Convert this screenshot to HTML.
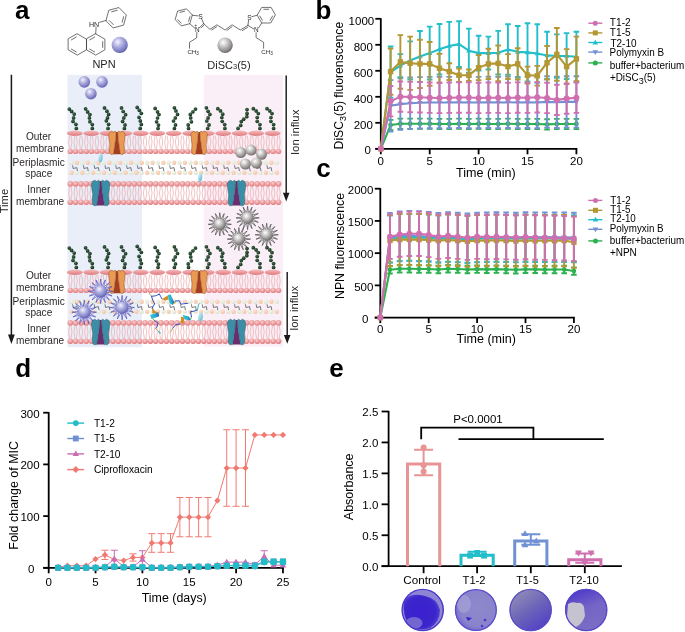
<!DOCTYPE html>
<html><head><meta charset="utf-8"><title>Figure</title>
<style>html,body{margin:0;padding:0;background:#fff;width:685px;height:632px;overflow:hidden}
svg{display:block;font-family:"Liberation Sans",sans-serif;will-change:transform}</style></head>
<body><svg width="685" height="632" viewBox="0 0 685 632">
<rect width="685" height="632" fill="#fff"/>
<defs>
<radialGradient id="gHead" cx="0.42" cy="0.35" r="0.65"><stop offset="0" stop-color="#f9d3d3"/><stop offset="0.55" stop-color="#ec9d9f"/><stop offset="1" stop-color="#e07f83"/></radialGradient>
<linearGradient id="gLps" x1="0" y1="0" x2="0" y2="1"><stop offset="0" stop-color="#f4bcbd"/><stop offset="0.5" stop-color="#eb9a9d"/><stop offset="1" stop-color="#dc777c"/></linearGradient>
<radialGradient id="gBead" cx="0.4" cy="0.35" r="0.65"><stop offset="0" stop-color="#44734f"/><stop offset="1" stop-color="#0f2717"/></radialGradient>
<radialGradient id="gGray" cx="0.38" cy="0.32" r="0.72"><stop offset="0" stop-color="#ffffff"/><stop offset="0.3" stop-color="#d6d4d4"/><stop offset="0.78" stop-color="#8f8b8b"/><stop offset="1" stop-color="#6a6666"/></radialGradient>
<radialGradient id="gPur" cx="0.38" cy="0.32" r="0.72"><stop offset="0" stop-color="#f4f4ff"/><stop offset="0.35" stop-color="#b9b9e4"/><stop offset="0.8" stop-color="#7b7bc4"/><stop offset="1" stop-color="#5c5ca8"/></radialGradient>
<radialGradient id="gPeach" cx="0.4" cy="0.35" r="0.7"><stop offset="0" stop-color="#fbe3d2"/><stop offset="1" stop-color="#f2bf9c"/></radialGradient>
<radialGradient id="gMint" cx="0.4" cy="0.35" r="0.7"><stop offset="0" stop-color="#f6f8f1"/><stop offset="1" stop-color="#d5dfca"/></radialGradient>
<linearGradient id="gDrop" x1="0" y1="0" x2="1" y2="1"><stop offset="0" stop-color="#d6f0f7"/><stop offset="0.6" stop-color="#8fcde2"/><stop offset="1" stop-color="#5aaecb"/></linearGradient>
</defs>
<rect x="67.5" y="74.8" width="74.5" height="272.5" fill="#e9eef8"/>
<rect x="203.8" y="74.8" width="79.2" height="271.8" fill="#faeef7"/>
<text x="15" y="19" font-size="26" font-weight="bold">a</text>
<path d="M77.3 33.9L86.48 39.2L86.48 49.8L77.3 55.1L68.12 49.8L68.12 39.2Z" stroke="#3a3a3a" stroke-width="0.72" fill="none" stroke-linecap="round"/>
<path d="M95.7 33.9L104.88 39.2L104.88 49.8L95.7 55.1L86.52 49.8L86.52 39.2Z" stroke="#3a3a3a" stroke-width="0.72" fill="none" stroke-linecap="round"/>
<path d="M71.3 39.91L76.32 37.01" stroke="#3a3a3a" stroke-width="0.72" fill="none" stroke-linecap="round"/>
<path d="M76.32 51.99L71.3 49.09" stroke="#3a3a3a" stroke-width="0.72" fill="none" stroke-linecap="round"/>
<path d="M89.7 39.91L94.72 37.01" stroke="#3a3a3a" stroke-width="0.72" fill="none" stroke-linecap="round"/>
<path d="M102.68 41.6L102.68 47.4" stroke="#3a3a3a" stroke-width="0.72" fill="none" stroke-linecap="round"/>
<path d="M94.72 51.99L89.7 49.09" stroke="#3a3a3a" stroke-width="0.72" fill="none" stroke-linecap="round"/>
<path d="M95.7 33.9L96.1 27.2" stroke="#3a3a3a" stroke-width="0.72" fill="none" stroke-linecap="round"/>
<text x="89.0" y="26.6" font-size="7.1" fill="#2a2a2a">HN</text>
<path d="M99.6 22.3L106.06 20.42" stroke="#3a3a3a" stroke-width="0.72" fill="none" stroke-linecap="round"/>
<path d="M106.06 20.42L108.78 10.28L118.92 7.56L126.34 14.98L123.62 25.12L113.48 27.84Z" stroke="#3a3a3a" stroke-width="0.72" fill="none" stroke-linecap="round"/>
<path d="M111.64 11.77L117.19 10.28" stroke="#3a3a3a" stroke-width="0.72" fill="none" stroke-linecap="round"/>
<path d="M123.62 16.71L122.13 22.26" stroke="#3a3a3a" stroke-width="0.72" fill="none" stroke-linecap="round"/>
<path d="M113.34 24.62L109.28 20.56" stroke="#3a3a3a" stroke-width="0.72" fill="none" stroke-linecap="round"/>
<path d="M192.24 15.27L189.81 23.73L181.27 25.86L175.16 19.53L177.59 11.07L186.13 8.94Z" stroke="#3a3a3a" stroke-width="0.72" fill="none" stroke-linecap="round"/>
<path d="M179.96 12.36L184.63 11.2" stroke="#3a3a3a" stroke-width="0.72" fill="none" stroke-linecap="round"/>
<path d="M181.21 23.16L177.86 19.69" stroke="#3a3a3a" stroke-width="0.72" fill="none" stroke-linecap="round"/>
<path d="M189.93 16.68L188.6 21.31" stroke="#3a3a3a" stroke-width="0.72" fill="none" stroke-linecap="round"/>
<path d="M192.24 15.27L198.3 15.9" stroke="#3a3a3a" stroke-width="0.72" fill="none" stroke-linecap="round"/>
<path d="M201.7 18.9L203.7 23.7" stroke="#3a3a3a" stroke-width="0.72" fill="none" stroke-linecap="round"/>
<path d="M203.7 23.7L199.4 27.6" stroke="#3a3a3a" stroke-width="0.72" fill="none" stroke-linecap="round"/>
<path d="M203.71 25.44L201.13 27.78" stroke="#3a3a3a" stroke-width="0.72" fill="none" stroke-linecap="round"/>
<path d="M195 28.3L189.81 23.73" stroke="#3a3a3a" stroke-width="0.72" fill="none" stroke-linecap="round"/>
<text x="200.7" y="18.9" font-size="6.4" text-anchor="middle" fill="#2a2a2a">S</text>
<text x="197.2" y="31.7" font-size="6.4" text-anchor="middle" fill="#2a2a2a">N</text>
<text x="194.6" y="26.6" font-size="4.5" fill="#2a2a2a">+</text>
<path d="M203.7 23.7L209.9 29.4L216.9 24.8L225.1 30L232.1 24.8L240.3 30L247.9 25.4" stroke="#3a3a3a" stroke-width="0.72" fill="none" stroke-linecap="round"/>
<path d="M211.77 29.96L216.67 26.74" stroke="#3a3a3a" stroke-width="0.72" fill="none" stroke-linecap="round"/>
<path d="M227.04 30.42L231.94 26.78" stroke="#3a3a3a" stroke-width="0.72" fill="none" stroke-linecap="round"/>
<path d="M242.22 30.59L247.54 27.37" stroke="#3a3a3a" stroke-width="0.72" fill="none" stroke-linecap="round"/>
<path d="M275.2 15.2L270.7 22.99L261.7 22.99L257.2 15.2L261.7 7.41L270.7 7.41Z" stroke="#3a3a3a" stroke-width="0.72" fill="none" stroke-linecap="round"/>
<path d="M263.74 9.28L268.66 9.28" stroke="#3a3a3a" stroke-width="0.72" fill="none" stroke-linecap="round"/>
<path d="M272.56 16.03L270.1 20.29" stroke="#3a3a3a" stroke-width="0.72" fill="none" stroke-linecap="round"/>
<path d="M262.3 20.29L259.84 16.03" stroke="#3a3a3a" stroke-width="0.72" fill="none" stroke-linecap="round"/>
<path d="M247.9 25.4L248.6 20.4" stroke="#3a3a3a" stroke-width="0.72" fill="none" stroke-linecap="round"/>
<path d="M251.8 16.7L257.2 15.2" stroke="#3a3a3a" stroke-width="0.72" fill="none" stroke-linecap="round"/>
<path d="M261.7 22.99L258.6 27.8" stroke="#3a3a3a" stroke-width="0.72" fill="none" stroke-linecap="round"/>
<path d="M253.8 29L247.9 25.4" stroke="#3a3a3a" stroke-width="0.72" fill="none" stroke-linecap="round"/>
<text x="249.3" y="19.9" font-size="6.4" text-anchor="middle" fill="#2a2a2a">S</text>
<text x="256.2" y="32.3" font-size="6.4" text-anchor="middle" fill="#2a2a2a">N</text>
<path d="M196.9 32.2L196.6 37.9L189.5 42.3L189.5 48.3" stroke="#3a3a3a" stroke-width="0.72" fill="none" stroke-linecap="round"/>
<text x="187.4" y="54.3" font-size="6.2" fill="#2a2a2a">CH<tspan font-size="4.6" dy="1">3</tspan></text>
<path d="M256.1 32.8L256.1 37.6L263.6 42.3L263.6 48.3" stroke="#3a3a3a" stroke-width="0.72" fill="none" stroke-linecap="round"/>
<text x="261.2" y="54.0" font-size="6.2" fill="#2a2a2a">CH<tspan font-size="4.6" dy="1">3</tspan></text>
<circle cx="119.7" cy="44.9" r="8.1" fill="url(#gPur)"/>
<circle cx="225.1" cy="45.2" r="7.7" fill="url(#gGray)"/>
<text x="104" y="68.4" font-size="11" text-anchor="middle" font-weight="normal" fill="#231f20" >NPN</text>
<text x="207.3" y="68.6" font-size="11" fill="#231f20">DiSC<tspan font-size="7.5" dy="0.3">3</tspan><tspan dy="-0.3">(5)</tspan></text>
<path d="M11.4 74.8V335.5" stroke="#1c1718" stroke-width="1.5"/><path d="M8 334.5L14.8 334.5L11.4 344Z" fill="#1c1718"/>
<text x="0" y="0" font-size="11.2" fill="#231f20" transform="translate(8.2 213.3) rotate(-90)">Time</text>
<circle cx="84.3" cy="81.9" r="5.8" fill="url(#gPur)"/>
<circle cx="102" cy="81.9" r="5.8" fill="url(#gPur)"/>
<circle cx="90.9" cy="93.7" r="5.8" fill="url(#gPur)"/>
<circle cx="76.3" cy="128.4" r="1.85" fill="url(#gBead)"/><circle cx="75.9" cy="124.3" r="1.85" fill="url(#gBead)"/><circle cx="73" cy="121.4" r="1.85" fill="url(#gBead)"/><circle cx="73.6" cy="117.9" r="1.85" fill="url(#gBead)"/><circle cx="74.2" cy="114.1" r="1.85" fill="url(#gBead)"/><circle cx="71.6" cy="111.4" r="1.85" fill="url(#gBead)"/><circle cx="69.3" cy="109.1" r="1.85" fill="url(#gBead)"/>
<circle cx="92.3" cy="128.4" r="1.85" fill="url(#gBead)"/><circle cx="92.3" cy="124.6" r="1.85" fill="url(#gBead)"/><circle cx="89.9" cy="121.7" r="1.85" fill="url(#gBead)"/><circle cx="89.4" cy="117.9" r="1.85" fill="url(#gBead)"/><circle cx="89.9" cy="114.6" r="1.85" fill="url(#gBead)"/><circle cx="87.6" cy="111.9" r="1.85" fill="url(#gBead)"/><circle cx="85.6" cy="108.8" r="1.85" fill="url(#gBead)"/>
<circle cx="108" cy="128.4" r="1.85" fill="url(#gBead)"/><circle cx="108.6" cy="124.3" r="1.85" fill="url(#gBead)"/><circle cx="106.3" cy="120.8" r="1.85" fill="url(#gBead)"/><circle cx="107.5" cy="117.9" r="1.85" fill="url(#gBead)"/><circle cx="108.6" cy="114.4" r="1.85" fill="url(#gBead)"/><circle cx="106.9" cy="111.2" r="1.85" fill="url(#gBead)"/><circle cx="104.5" cy="107.9" r="1.85" fill="url(#gBead)"/>
<circle cx="124.4" cy="128.4" r="1.85" fill="url(#gBead)"/><circle cx="125" cy="124.9" r="1.85" fill="url(#gBead)"/><circle cx="122.6" cy="121.4" r="1.85" fill="url(#gBead)"/><circle cx="123.8" cy="117.9" r="1.85" fill="url(#gBead)"/><circle cx="125.6" cy="114.7" r="1.85" fill="url(#gBead)"/><circle cx="123.2" cy="111.5" r="1.85" fill="url(#gBead)"/><circle cx="121.5" cy="107.9" r="1.85" fill="url(#gBead)"/>
<circle cx="140.2" cy="128.4" r="1.85" fill="url(#gBead)"/><circle cx="141.3" cy="124.4" r="1.85" fill="url(#gBead)"/><circle cx="140.3" cy="120.9" r="1.85" fill="url(#gBead)"/><circle cx="139" cy="117.3" r="1.85" fill="url(#gBead)"/><circle cx="141.3" cy="113.3" r="1.85" fill="url(#gBead)"/><circle cx="139.3" cy="110.3" r="1.85" fill="url(#gBead)"/><circle cx="137.2" cy="107.4" r="1.85" fill="url(#gBead)"/>
<circle cx="158" cy="128.4" r="1.85" fill="url(#gBead)"/><circle cx="158.5" cy="125.1" r="1.85" fill="url(#gBead)"/><circle cx="156.6" cy="121.8" r="1.85" fill="url(#gBead)"/><circle cx="157.5" cy="118" r="1.85" fill="url(#gBead)"/><circle cx="158.95" cy="114.6" r="1.85" fill="url(#gBead)"/><circle cx="157.5" cy="111.8" r="1.85" fill="url(#gBead)"/><circle cx="155.15" cy="108.4" r="1.85" fill="url(#gBead)"/>
<circle cx="174.4" cy="128.4" r="1.85" fill="url(#gBead)"/><circle cx="175.5" cy="124.9" r="1.85" fill="url(#gBead)"/><circle cx="173.5" cy="121" r="1.85" fill="url(#gBead)"/><circle cx="175.3" cy="117.9" r="1.85" fill="url(#gBead)"/><circle cx="177.5" cy="114.4" r="1.85" fill="url(#gBead)"/><circle cx="175.9" cy="110.9" r="1.85" fill="url(#gBead)"/><circle cx="174.4" cy="107.8" r="1.85" fill="url(#gBead)"/>
<circle cx="188.5" cy="128.4" r="1.85" fill="url(#gBead)"/><circle cx="188.2" cy="124.9" r="1.85" fill="url(#gBead)"/><circle cx="191.4" cy="121.8" r="1.85" fill="url(#gBead)"/><circle cx="190.7" cy="117.9" r="1.85" fill="url(#gBead)"/><circle cx="190.3" cy="114.4" r="1.85" fill="url(#gBead)"/><circle cx="192.9" cy="111.8" r="1.85" fill="url(#gBead)"/><circle cx="195.5" cy="109.1" r="1.85" fill="url(#gBead)"/>
<circle cx="207.7" cy="128.4" r="1.85" fill="url(#gBead)"/><circle cx="209" cy="124.9" r="1.85" fill="url(#gBead)"/><circle cx="206.8" cy="121" r="1.85" fill="url(#gBead)"/><circle cx="208.1" cy="117.9" r="1.85" fill="url(#gBead)"/><circle cx="209.9" cy="114.4" r="1.85" fill="url(#gBead)"/><circle cx="208.1" cy="111.3" r="1.85" fill="url(#gBead)"/><circle cx="206.4" cy="107.8" r="1.85" fill="url(#gBead)"/>
<circle cx="224.9" cy="128.4" r="1.85" fill="url(#gBead)"/><circle cx="224.7" cy="124.6" r="1.85" fill="url(#gBead)"/><circle cx="222.2" cy="121.3" r="1.85" fill="url(#gBead)"/><circle cx="221.8" cy="117.5" r="1.85" fill="url(#gBead)"/><circle cx="222.7" cy="114.2" r="1.85" fill="url(#gBead)"/><circle cx="220.5" cy="110.9" r="1.85" fill="url(#gBead)"/><circle cx="217.8" cy="108.7" r="1.85" fill="url(#gBead)"/>
<circle cx="238" cy="128.4" r="1.85" fill="url(#gBead)"/><circle cx="240.7" cy="125.4" r="1.85" fill="url(#gBead)"/><circle cx="241.3" cy="121.6" r="1.85" fill="url(#gBead)"/><circle cx="243.7" cy="119.2" r="1.85" fill="url(#gBead)"/><circle cx="246.8" cy="116.7" r="1.85" fill="url(#gBead)"/><circle cx="247" cy="113.4" r="1.85" fill="url(#gBead)"/><circle cx="247" cy="109.6" r="1.85" fill="url(#gBead)"/>
<circle cx="259.9" cy="128.4" r="1.85" fill="url(#gBead)"/><circle cx="259.9" cy="124.6" r="1.85" fill="url(#gBead)"/><circle cx="257.2" cy="121.3" r="1.85" fill="url(#gBead)"/><circle cx="257.2" cy="117.5" r="1.85" fill="url(#gBead)"/><circle cx="258.3" cy="113.6" r="1.85" fill="url(#gBead)"/><circle cx="256.1" cy="110.9" r="1.85" fill="url(#gBead)"/><circle cx="253.3" cy="108.7" r="1.85" fill="url(#gBead)"/>
<circle cx="273.6" cy="128.4" r="1.85" fill="url(#gBead)"/><circle cx="273.6" cy="124.6" r="1.85" fill="url(#gBead)"/><circle cx="270.9" cy="121.3" r="1.85" fill="url(#gBead)"/><circle cx="270.9" cy="117.5" r="1.85" fill="url(#gBead)"/><circle cx="272" cy="113.6" r="1.85" fill="url(#gBead)"/><circle cx="269.8" cy="110.9" r="1.85" fill="url(#gBead)"/><circle cx="267" cy="108.7" r="1.85" fill="url(#gBead)"/>
<ellipse cx="74.8" cy="133.3" rx="8.0" ry="2.7" fill="url(#gLps)"/>
<ellipse cx="91.29" cy="133.3" rx="8.0" ry="2.7" fill="url(#gLps)"/>
<ellipse cx="107.78" cy="133.3" rx="8.0" ry="2.7" fill="url(#gLps)"/>
<ellipse cx="124.27" cy="133.3" rx="8.0" ry="2.7" fill="url(#gLps)"/>
<ellipse cx="140.76" cy="133.3" rx="8.0" ry="2.7" fill="url(#gLps)"/>
<ellipse cx="157.25" cy="133.3" rx="8.0" ry="2.7" fill="url(#gLps)"/>
<ellipse cx="173.74" cy="133.3" rx="8.0" ry="2.7" fill="url(#gLps)"/>
<ellipse cx="190.23" cy="133.3" rx="8.0" ry="2.7" fill="url(#gLps)"/>
<ellipse cx="206.72" cy="133.3" rx="8.0" ry="2.7" fill="url(#gLps)"/>
<ellipse cx="223.21" cy="133.3" rx="8.0" ry="2.7" fill="url(#gLps)"/>
<ellipse cx="239.7" cy="133.3" rx="8.0" ry="2.7" fill="url(#gLps)"/>
<ellipse cx="256.19" cy="133.3" rx="8.0" ry="2.7" fill="url(#gLps)"/>
<ellipse cx="272.68" cy="133.3" rx="8.0" ry="2.7" fill="url(#gLps)"/>
<path d="M69.6 135.6Q67.7 142.1 69.6 148.6M71 135.6Q72.9 142.1 71 148.6M74.94 135.6Q73.04 142.1 74.94 148.6M76.34 135.6Q78.24 142.1 76.34 148.6M80.28 135.6Q78.38 142.1 80.28 148.6M81.68 135.6Q83.58 142.1 81.68 148.6M85.62 135.6Q83.72 142.1 85.62 148.6M87.02 135.6Q88.92 142.1 87.02 148.6M90.96 135.6Q89.06 142.1 90.96 148.6M92.36 135.6Q94.26 142.1 92.36 148.6M96.3 135.6Q94.4 142.1 96.3 148.6M97.7 135.6Q99.6 142.1 97.7 148.6M101.64 135.6Q99.74 142.1 101.64 148.6M103.04 135.6Q104.94 142.1 103.04 148.6M106.98 135.6Q105.08 142.1 106.98 148.6M108.38 135.6Q110.28 142.1 108.38 148.6M112.32 135.6Q110.42 142.1 112.32 148.6M113.72 135.6Q115.62 142.1 113.72 148.6M117.66 135.6Q115.76 142.1 117.66 148.6M119.06 135.6Q120.96 142.1 119.06 148.6M123 135.6Q121.1 142.1 123 148.6M124.4 135.6Q126.3 142.1 124.4 148.6M128.34 135.6Q126.44 142.1 128.34 148.6M129.74 135.6Q131.64 142.1 129.74 148.6M133.68 135.6Q131.78 142.1 133.68 148.6M135.08 135.6Q136.98 142.1 135.08 148.6M139.02 135.6Q137.12 142.1 139.02 148.6M140.42 135.6Q142.32 142.1 140.42 148.6M144.36 135.6Q142.46 142.1 144.36 148.6M145.76 135.6Q147.66 142.1 145.76 148.6M149.7 135.6Q147.8 142.1 149.7 148.6M151.1 135.6Q153 142.1 151.1 148.6M155.04 135.6Q153.14 142.1 155.04 148.6M156.44 135.6Q158.34 142.1 156.44 148.6M160.38 135.6Q158.48 142.1 160.38 148.6M161.78 135.6Q163.68 142.1 161.78 148.6M165.72 135.6Q163.82 142.1 165.72 148.6M167.12 135.6Q169.02 142.1 167.12 148.6M171.06 135.6Q169.16 142.1 171.06 148.6M172.46 135.6Q174.36 142.1 172.46 148.6M176.4 135.6Q174.5 142.1 176.4 148.6M177.8 135.6Q179.7 142.1 177.8 148.6M181.74 135.6Q179.84 142.1 181.74 148.6M183.14 135.6Q185.04 142.1 183.14 148.6M187.08 135.6Q185.18 142.1 187.08 148.6M188.48 135.6Q190.38 142.1 188.48 148.6M192.42 135.6Q190.52 142.1 192.42 148.6M193.82 135.6Q195.72 142.1 193.82 148.6M197.76 135.6Q195.86 142.1 197.76 148.6M199.16 135.6Q201.06 142.1 199.16 148.6M203.1 135.6Q201.2 142.1 203.1 148.6M204.5 135.6Q206.4 142.1 204.5 148.6M208.44 135.6Q206.54 142.1 208.44 148.6M209.84 135.6Q211.74 142.1 209.84 148.6M213.78 135.6Q211.88 142.1 213.78 148.6M215.18 135.6Q217.08 142.1 215.18 148.6M219.12 135.6Q217.22 142.1 219.12 148.6M220.52 135.6Q222.42 142.1 220.52 148.6M224.46 135.6Q222.56 142.1 224.46 148.6M225.86 135.6Q227.76 142.1 225.86 148.6M229.8 135.6Q227.9 142.1 229.8 148.6M231.2 135.6Q233.1 142.1 231.2 148.6M235.14 135.6Q233.24 142.1 235.14 148.6M236.54 135.6Q238.44 142.1 236.54 148.6M240.48 135.6Q238.58 142.1 240.48 148.6M241.88 135.6Q243.78 142.1 241.88 148.6M245.82 135.6Q243.92 142.1 245.82 148.6M247.22 135.6Q249.12 142.1 247.22 148.6M251.16 135.6Q249.26 142.1 251.16 148.6M252.56 135.6Q254.46 142.1 252.56 148.6M256.5 135.6Q254.6 142.1 256.5 148.6M257.9 135.6Q259.8 142.1 257.9 148.6M261.84 135.6Q259.94 142.1 261.84 148.6M263.24 135.6Q265.14 142.1 263.24 148.6M267.18 135.6Q265.28 142.1 267.18 148.6M268.58 135.6Q270.48 142.1 268.58 148.6M272.52 135.6Q270.62 142.1 272.52 148.6M273.92 135.6Q275.82 142.1 273.92 148.6M277.86 135.6Q275.96 142.1 277.86 148.6M279.26 135.6Q281.16 142.1 279.26 148.6" stroke="#efb3b5" stroke-width="0.8" fill="none"/>
<circle cx="70.3" cy="151.4" r="2.7" fill="url(#gHead)"/><circle cx="75.64" cy="151.4" r="2.7" fill="url(#gHead)"/><circle cx="80.98" cy="151.4" r="2.7" fill="url(#gHead)"/><circle cx="86.32" cy="151.4" r="2.7" fill="url(#gHead)"/><circle cx="91.66" cy="151.4" r="2.7" fill="url(#gHead)"/><circle cx="97" cy="151.4" r="2.7" fill="url(#gHead)"/><circle cx="102.34" cy="151.4" r="2.7" fill="url(#gHead)"/><circle cx="107.68" cy="151.4" r="2.7" fill="url(#gHead)"/><circle cx="113.02" cy="151.4" r="2.7" fill="url(#gHead)"/><circle cx="118.36" cy="151.4" r="2.7" fill="url(#gHead)"/><circle cx="123.7" cy="151.4" r="2.7" fill="url(#gHead)"/><circle cx="129.04" cy="151.4" r="2.7" fill="url(#gHead)"/><circle cx="134.38" cy="151.4" r="2.7" fill="url(#gHead)"/><circle cx="139.72" cy="151.4" r="2.7" fill="url(#gHead)"/><circle cx="145.06" cy="151.4" r="2.7" fill="url(#gHead)"/><circle cx="150.4" cy="151.4" r="2.7" fill="url(#gHead)"/><circle cx="155.74" cy="151.4" r="2.7" fill="url(#gHead)"/><circle cx="161.08" cy="151.4" r="2.7" fill="url(#gHead)"/><circle cx="166.42" cy="151.4" r="2.7" fill="url(#gHead)"/><circle cx="171.76" cy="151.4" r="2.7" fill="url(#gHead)"/><circle cx="177.1" cy="151.4" r="2.7" fill="url(#gHead)"/><circle cx="182.44" cy="151.4" r="2.7" fill="url(#gHead)"/><circle cx="187.78" cy="151.4" r="2.7" fill="url(#gHead)"/><circle cx="193.12" cy="151.4" r="2.7" fill="url(#gHead)"/><circle cx="198.46" cy="151.4" r="2.7" fill="url(#gHead)"/><circle cx="203.8" cy="151.4" r="2.7" fill="url(#gHead)"/><circle cx="209.14" cy="151.4" r="2.7" fill="url(#gHead)"/><circle cx="214.48" cy="151.4" r="2.7" fill="url(#gHead)"/><circle cx="219.82" cy="151.4" r="2.7" fill="url(#gHead)"/><circle cx="225.16" cy="151.4" r="2.7" fill="url(#gHead)"/><circle cx="230.5" cy="151.4" r="2.7" fill="url(#gHead)"/><circle cx="235.84" cy="151.4" r="2.7" fill="url(#gHead)"/><circle cx="241.18" cy="151.4" r="2.7" fill="url(#gHead)"/><circle cx="246.52" cy="151.4" r="2.7" fill="url(#gHead)"/><circle cx="251.86" cy="151.4" r="2.7" fill="url(#gHead)"/><circle cx="257.2" cy="151.4" r="2.7" fill="url(#gHead)"/><circle cx="262.54" cy="151.4" r="2.7" fill="url(#gHead)"/><circle cx="267.88" cy="151.4" r="2.7" fill="url(#gHead)"/><circle cx="273.22" cy="151.4" r="2.7" fill="url(#gHead)"/><circle cx="278.56" cy="151.4" r="2.7" fill="url(#gHead)"/>
<circle cx="70.3" cy="183.9" r="2.8" fill="url(#gHead)"/><circle cx="75.64" cy="183.9" r="2.8" fill="url(#gHead)"/><circle cx="80.98" cy="183.9" r="2.8" fill="url(#gHead)"/><circle cx="86.32" cy="183.9" r="2.8" fill="url(#gHead)"/><circle cx="91.66" cy="183.9" r="2.8" fill="url(#gHead)"/><circle cx="97" cy="183.9" r="2.8" fill="url(#gHead)"/><circle cx="102.34" cy="183.9" r="2.8" fill="url(#gHead)"/><circle cx="107.68" cy="183.9" r="2.8" fill="url(#gHead)"/><circle cx="113.02" cy="183.9" r="2.8" fill="url(#gHead)"/><circle cx="118.36" cy="183.9" r="2.8" fill="url(#gHead)"/><circle cx="123.7" cy="183.9" r="2.8" fill="url(#gHead)"/><circle cx="129.04" cy="183.9" r="2.8" fill="url(#gHead)"/><circle cx="134.38" cy="183.9" r="2.8" fill="url(#gHead)"/><circle cx="139.72" cy="183.9" r="2.8" fill="url(#gHead)"/><circle cx="145.06" cy="183.9" r="2.8" fill="url(#gHead)"/><circle cx="150.4" cy="183.9" r="2.8" fill="url(#gHead)"/><circle cx="155.74" cy="183.9" r="2.8" fill="url(#gHead)"/><circle cx="161.08" cy="183.9" r="2.8" fill="url(#gHead)"/><circle cx="166.42" cy="183.9" r="2.8" fill="url(#gHead)"/><circle cx="171.76" cy="183.9" r="2.8" fill="url(#gHead)"/><circle cx="177.1" cy="183.9" r="2.8" fill="url(#gHead)"/><circle cx="182.44" cy="183.9" r="2.8" fill="url(#gHead)"/><circle cx="187.78" cy="183.9" r="2.8" fill="url(#gHead)"/><circle cx="193.12" cy="183.9" r="2.8" fill="url(#gHead)"/><circle cx="198.46" cy="183.9" r="2.8" fill="url(#gHead)"/><circle cx="203.8" cy="183.9" r="2.8" fill="url(#gHead)"/><circle cx="209.14" cy="183.9" r="2.8" fill="url(#gHead)"/><circle cx="214.48" cy="183.9" r="2.8" fill="url(#gHead)"/><circle cx="219.82" cy="183.9" r="2.8" fill="url(#gHead)"/><circle cx="225.16" cy="183.9" r="2.8" fill="url(#gHead)"/><circle cx="230.5" cy="183.9" r="2.8" fill="url(#gHead)"/><circle cx="235.84" cy="183.9" r="2.8" fill="url(#gHead)"/><circle cx="241.18" cy="183.9" r="2.8" fill="url(#gHead)"/><circle cx="246.52" cy="183.9" r="2.8" fill="url(#gHead)"/><circle cx="251.86" cy="183.9" r="2.8" fill="url(#gHead)"/><circle cx="257.2" cy="183.9" r="2.8" fill="url(#gHead)"/><circle cx="262.54" cy="183.9" r="2.8" fill="url(#gHead)"/><circle cx="267.88" cy="183.9" r="2.8" fill="url(#gHead)"/><circle cx="273.22" cy="183.9" r="2.8" fill="url(#gHead)"/><circle cx="278.56" cy="183.9" r="2.8" fill="url(#gHead)"/>
<path d="M69.6 186.6Q67.7 193.1 69.6 199.6M71 186.6Q72.9 193.1 71 199.6M74.94 186.6Q73.04 193.1 74.94 199.6M76.34 186.6Q78.24 193.1 76.34 199.6M80.28 186.6Q78.38 193.1 80.28 199.6M81.68 186.6Q83.58 193.1 81.68 199.6M85.62 186.6Q83.72 193.1 85.62 199.6M87.02 186.6Q88.92 193.1 87.02 199.6M90.96 186.6Q89.06 193.1 90.96 199.6M92.36 186.6Q94.26 193.1 92.36 199.6M96.3 186.6Q94.4 193.1 96.3 199.6M97.7 186.6Q99.6 193.1 97.7 199.6M101.64 186.6Q99.74 193.1 101.64 199.6M103.04 186.6Q104.94 193.1 103.04 199.6M106.98 186.6Q105.08 193.1 106.98 199.6M108.38 186.6Q110.28 193.1 108.38 199.6M112.32 186.6Q110.42 193.1 112.32 199.6M113.72 186.6Q115.62 193.1 113.72 199.6M117.66 186.6Q115.76 193.1 117.66 199.6M119.06 186.6Q120.96 193.1 119.06 199.6M123 186.6Q121.1 193.1 123 199.6M124.4 186.6Q126.3 193.1 124.4 199.6M128.34 186.6Q126.44 193.1 128.34 199.6M129.74 186.6Q131.64 193.1 129.74 199.6M133.68 186.6Q131.78 193.1 133.68 199.6M135.08 186.6Q136.98 193.1 135.08 199.6M139.02 186.6Q137.12 193.1 139.02 199.6M140.42 186.6Q142.32 193.1 140.42 199.6M144.36 186.6Q142.46 193.1 144.36 199.6M145.76 186.6Q147.66 193.1 145.76 199.6M149.7 186.6Q147.8 193.1 149.7 199.6M151.1 186.6Q153 193.1 151.1 199.6M155.04 186.6Q153.14 193.1 155.04 199.6M156.44 186.6Q158.34 193.1 156.44 199.6M160.38 186.6Q158.48 193.1 160.38 199.6M161.78 186.6Q163.68 193.1 161.78 199.6M165.72 186.6Q163.82 193.1 165.72 199.6M167.12 186.6Q169.02 193.1 167.12 199.6M171.06 186.6Q169.16 193.1 171.06 199.6M172.46 186.6Q174.36 193.1 172.46 199.6M176.4 186.6Q174.5 193.1 176.4 199.6M177.8 186.6Q179.7 193.1 177.8 199.6M181.74 186.6Q179.84 193.1 181.74 199.6M183.14 186.6Q185.04 193.1 183.14 199.6M187.08 186.6Q185.18 193.1 187.08 199.6M188.48 186.6Q190.38 193.1 188.48 199.6M192.42 186.6Q190.52 193.1 192.42 199.6M193.82 186.6Q195.72 193.1 193.82 199.6M197.76 186.6Q195.86 193.1 197.76 199.6M199.16 186.6Q201.06 193.1 199.16 199.6M203.1 186.6Q201.2 193.1 203.1 199.6M204.5 186.6Q206.4 193.1 204.5 199.6M208.44 186.6Q206.54 193.1 208.44 199.6M209.84 186.6Q211.74 193.1 209.84 199.6M213.78 186.6Q211.88 193.1 213.78 199.6M215.18 186.6Q217.08 193.1 215.18 199.6M219.12 186.6Q217.22 193.1 219.12 199.6M220.52 186.6Q222.42 193.1 220.52 199.6M224.46 186.6Q222.56 193.1 224.46 199.6M225.86 186.6Q227.76 193.1 225.86 199.6M229.8 186.6Q227.9 193.1 229.8 199.6M231.2 186.6Q233.1 193.1 231.2 199.6M235.14 186.6Q233.24 193.1 235.14 199.6M236.54 186.6Q238.44 193.1 236.54 199.6M240.48 186.6Q238.58 193.1 240.48 199.6M241.88 186.6Q243.78 193.1 241.88 199.6M245.82 186.6Q243.92 193.1 245.82 199.6M247.22 186.6Q249.12 193.1 247.22 199.6M251.16 186.6Q249.26 193.1 251.16 199.6M252.56 186.6Q254.46 193.1 252.56 199.6M256.5 186.6Q254.6 193.1 256.5 199.6M257.9 186.6Q259.8 193.1 257.9 199.6M261.84 186.6Q259.94 193.1 261.84 199.6M263.24 186.6Q265.14 193.1 263.24 199.6M267.18 186.6Q265.28 193.1 267.18 199.6M268.58 186.6Q270.48 193.1 268.58 199.6M272.52 186.6Q270.62 193.1 272.52 199.6M273.92 186.6Q275.82 193.1 273.92 199.6M277.86 186.6Q275.96 193.1 277.86 199.6M279.26 186.6Q281.16 193.1 279.26 199.6" stroke="#efb3b5" stroke-width="0.8" fill="none"/>
<circle cx="70.3" cy="202.2" r="2.8" fill="url(#gHead)"/><circle cx="75.64" cy="202.2" r="2.8" fill="url(#gHead)"/><circle cx="80.98" cy="202.2" r="2.8" fill="url(#gHead)"/><circle cx="86.32" cy="202.2" r="2.8" fill="url(#gHead)"/><circle cx="91.66" cy="202.2" r="2.8" fill="url(#gHead)"/><circle cx="97" cy="202.2" r="2.8" fill="url(#gHead)"/><circle cx="102.34" cy="202.2" r="2.8" fill="url(#gHead)"/><circle cx="107.68" cy="202.2" r="2.8" fill="url(#gHead)"/><circle cx="113.02" cy="202.2" r="2.8" fill="url(#gHead)"/><circle cx="118.36" cy="202.2" r="2.8" fill="url(#gHead)"/><circle cx="123.7" cy="202.2" r="2.8" fill="url(#gHead)"/><circle cx="129.04" cy="202.2" r="2.8" fill="url(#gHead)"/><circle cx="134.38" cy="202.2" r="2.8" fill="url(#gHead)"/><circle cx="139.72" cy="202.2" r="2.8" fill="url(#gHead)"/><circle cx="145.06" cy="202.2" r="2.8" fill="url(#gHead)"/><circle cx="150.4" cy="202.2" r="2.8" fill="url(#gHead)"/><circle cx="155.74" cy="202.2" r="2.8" fill="url(#gHead)"/><circle cx="161.08" cy="202.2" r="2.8" fill="url(#gHead)"/><circle cx="166.42" cy="202.2" r="2.8" fill="url(#gHead)"/><circle cx="171.76" cy="202.2" r="2.8" fill="url(#gHead)"/><circle cx="177.1" cy="202.2" r="2.8" fill="url(#gHead)"/><circle cx="182.44" cy="202.2" r="2.8" fill="url(#gHead)"/><circle cx="187.78" cy="202.2" r="2.8" fill="url(#gHead)"/><circle cx="193.12" cy="202.2" r="2.8" fill="url(#gHead)"/><circle cx="198.46" cy="202.2" r="2.8" fill="url(#gHead)"/><circle cx="203.8" cy="202.2" r="2.8" fill="url(#gHead)"/><circle cx="209.14" cy="202.2" r="2.8" fill="url(#gHead)"/><circle cx="214.48" cy="202.2" r="2.8" fill="url(#gHead)"/><circle cx="219.82" cy="202.2" r="2.8" fill="url(#gHead)"/><circle cx="225.16" cy="202.2" r="2.8" fill="url(#gHead)"/><circle cx="230.5" cy="202.2" r="2.8" fill="url(#gHead)"/><circle cx="235.84" cy="202.2" r="2.8" fill="url(#gHead)"/><circle cx="241.18" cy="202.2" r="2.8" fill="url(#gHead)"/><circle cx="246.52" cy="202.2" r="2.8" fill="url(#gHead)"/><circle cx="251.86" cy="202.2" r="2.8" fill="url(#gHead)"/><circle cx="257.2" cy="202.2" r="2.8" fill="url(#gHead)"/><circle cx="262.54" cy="202.2" r="2.8" fill="url(#gHead)"/><circle cx="267.88" cy="202.2" r="2.8" fill="url(#gHead)"/><circle cx="273.22" cy="202.2" r="2.8" fill="url(#gHead)"/><circle cx="278.56" cy="202.2" r="2.8" fill="url(#gHead)"/>
<circle cx="71.6" cy="162.7" r="2.2" fill="url(#gMint)"/>
<circle cx="71.6" cy="172.7" r="2.2" fill="url(#gPeach)"/>
<circle cx="77" cy="162.7" r="2.2" fill="url(#gPeach)"/>
<circle cx="77" cy="172.7" r="2.2" fill="url(#gMint)"/>
<circle cx="82.4" cy="162.7" r="2.2" fill="url(#gMint)"/>
<circle cx="82.4" cy="172.7" r="2.2" fill="url(#gPeach)"/>
<circle cx="87.8" cy="162.7" r="2.2" fill="url(#gPeach)"/>
<circle cx="87.8" cy="172.7" r="2.2" fill="url(#gMint)"/>
<circle cx="93.2" cy="162.7" r="2.2" fill="url(#gMint)"/>
<circle cx="93.2" cy="172.7" r="2.2" fill="url(#gPeach)"/>
<circle cx="98.6" cy="162.7" r="2.2" fill="url(#gPeach)"/>
<circle cx="98.6" cy="172.7" r="2.2" fill="url(#gMint)"/>
<circle cx="104" cy="162.7" r="2.2" fill="url(#gMint)"/>
<circle cx="104" cy="172.7" r="2.2" fill="url(#gPeach)"/>
<circle cx="109.4" cy="162.7" r="2.2" fill="url(#gPeach)"/>
<circle cx="109.4" cy="172.7" r="2.2" fill="url(#gMint)"/>
<circle cx="114.8" cy="162.7" r="2.2" fill="url(#gMint)"/>
<circle cx="114.8" cy="172.7" r="2.2" fill="url(#gPeach)"/>
<circle cx="120.2" cy="162.7" r="2.2" fill="url(#gPeach)"/>
<circle cx="120.2" cy="172.7" r="2.2" fill="url(#gMint)"/>
<circle cx="125.6" cy="162.7" r="2.2" fill="url(#gMint)"/>
<circle cx="125.6" cy="172.7" r="2.2" fill="url(#gPeach)"/>
<circle cx="131" cy="162.7" r="2.2" fill="url(#gPeach)"/>
<circle cx="131" cy="172.7" r="2.2" fill="url(#gMint)"/>
<circle cx="136.4" cy="162.7" r="2.2" fill="url(#gMint)"/>
<circle cx="136.4" cy="172.7" r="2.2" fill="url(#gPeach)"/>
<circle cx="141.8" cy="162.7" r="2.2" fill="url(#gPeach)"/>
<circle cx="141.8" cy="172.7" r="2.2" fill="url(#gMint)"/>
<circle cx="147.2" cy="162.7" r="2.2" fill="url(#gMint)"/>
<circle cx="147.2" cy="172.7" r="2.2" fill="url(#gPeach)"/>
<circle cx="152.6" cy="162.7" r="2.2" fill="url(#gPeach)"/>
<circle cx="152.6" cy="172.7" r="2.2" fill="url(#gMint)"/>
<circle cx="158" cy="162.7" r="2.2" fill="url(#gMint)"/>
<circle cx="158" cy="172.7" r="2.2" fill="url(#gPeach)"/>
<circle cx="163.4" cy="162.7" r="2.2" fill="url(#gPeach)"/>
<circle cx="163.4" cy="172.7" r="2.2" fill="url(#gMint)"/>
<circle cx="168.8" cy="162.7" r="2.2" fill="url(#gMint)"/>
<circle cx="168.8" cy="172.7" r="2.2" fill="url(#gPeach)"/>
<circle cx="174.2" cy="162.7" r="2.2" fill="url(#gPeach)"/>
<circle cx="174.2" cy="172.7" r="2.2" fill="url(#gMint)"/>
<circle cx="179.6" cy="162.7" r="2.2" fill="url(#gMint)"/>
<circle cx="179.6" cy="172.7" r="2.2" fill="url(#gPeach)"/>
<circle cx="185" cy="162.7" r="2.2" fill="url(#gPeach)"/>
<circle cx="185" cy="172.7" r="2.2" fill="url(#gMint)"/>
<circle cx="190.4" cy="162.7" r="2.2" fill="url(#gMint)"/>
<circle cx="190.4" cy="172.7" r="2.2" fill="url(#gPeach)"/>
<circle cx="195.8" cy="162.7" r="2.2" fill="url(#gPeach)"/>
<circle cx="195.8" cy="172.7" r="2.2" fill="url(#gMint)"/>
<circle cx="201.2" cy="162.7" r="2.2" fill="url(#gMint)"/>
<circle cx="201.2" cy="172.7" r="2.2" fill="url(#gPeach)"/>
<circle cx="206.6" cy="162.7" r="2.2" fill="url(#gPeach)"/>
<circle cx="206.6" cy="172.7" r="2.2" fill="url(#gMint)"/>
<circle cx="212" cy="162.7" r="2.2" fill="url(#gMint)"/>
<circle cx="212" cy="172.7" r="2.2" fill="url(#gPeach)"/>
<circle cx="217.4" cy="162.7" r="2.2" fill="url(#gPeach)"/>
<circle cx="217.4" cy="172.7" r="2.2" fill="url(#gMint)"/>
<circle cx="222.8" cy="162.7" r="2.2" fill="url(#gMint)"/>
<circle cx="222.8" cy="172.7" r="2.2" fill="url(#gPeach)"/>
<circle cx="228.2" cy="162.7" r="2.2" fill="url(#gPeach)"/>
<circle cx="228.2" cy="172.7" r="2.2" fill="url(#gMint)"/>
<circle cx="233.6" cy="162.7" r="2.2" fill="url(#gMint)"/>
<circle cx="233.6" cy="172.7" r="2.2" fill="url(#gPeach)"/>
<circle cx="239" cy="162.7" r="2.2" fill="url(#gPeach)"/>
<circle cx="239" cy="172.7" r="2.2" fill="url(#gMint)"/>
<circle cx="244.4" cy="162.7" r="2.2" fill="url(#gMint)"/>
<circle cx="244.4" cy="172.7" r="2.2" fill="url(#gPeach)"/>
<circle cx="249.8" cy="162.7" r="2.2" fill="url(#gPeach)"/>
<circle cx="249.8" cy="172.7" r="2.2" fill="url(#gMint)"/>
<circle cx="255.2" cy="162.7" r="2.2" fill="url(#gMint)"/>
<circle cx="255.2" cy="172.7" r="2.2" fill="url(#gPeach)"/>
<circle cx="260.6" cy="162.7" r="2.2" fill="url(#gPeach)"/>
<circle cx="260.6" cy="172.7" r="2.2" fill="url(#gMint)"/>
<circle cx="266" cy="162.7" r="2.2" fill="url(#gMint)"/>
<circle cx="266" cy="172.7" r="2.2" fill="url(#gPeach)"/>
<circle cx="271.4" cy="162.7" r="2.2" fill="url(#gPeach)"/>
<circle cx="271.4" cy="172.7" r="2.2" fill="url(#gMint)"/>
<circle cx="276.8" cy="162.7" r="2.2" fill="url(#gMint)"/>
<circle cx="276.8" cy="172.7" r="2.2" fill="url(#gPeach)"/>
<path d="M72.6 165.3L73.1 168.5L76.8 167.6L77.4 171.1M83.4 165.3L83.9 168.5L87.6 167.6L88.2 171.1M94.2 165.3L94.7 168.5L98.4 167.6L99 171.1M105 165.3L105.5 168.5L109.2 167.6L109.8 171.1M115.8 165.3L116.3 168.5L120 167.6L120.6 171.1M126.6 165.3L127.1 168.5L130.8 167.6L131.4 171.1M137.4 165.3L137.9 168.5L141.6 167.6L142.2 171.1M148.2 165.3L148.7 168.5L152.4 167.6L153 171.1M159 165.3L159.5 168.5L163.2 167.6L163.8 171.1M169.8 165.3L170.3 168.5L174 167.6L174.6 171.1M180.6 165.3L181.1 168.5L184.8 167.6L185.4 171.1M191.4 165.3L191.9 168.5L195.6 167.6L196.2 171.1M202.2 165.3L202.7 168.5L206.4 167.6L207 171.1M213 165.3L213.5 168.5L217.2 167.6L217.8 171.1M223.8 165.3L224.3 168.5L228 167.6L228.6 171.1M234.6 165.3L235.1 168.5L238.8 167.6L239.4 171.1M245.4 165.3L245.9 168.5L249.6 167.6L250.2 171.1M256.2 165.3L256.7 168.5L260.4 167.6L261 171.1M267 165.3L267.5 168.5L271.2 167.6L271.8 171.1" stroke="#505050" stroke-width="0.75" fill="none" stroke-linejoin="miter"/>
<path d="M116.07 131.9L117.73 131.9L118.23 139.55L119.39 147.44L120.39 154.17L113.41 154.17L114.41 147.44L115.57 139.55Z" fill="#a53d20"/><path d="M116.07 131.9L114.91 131.2L113.41 132.36L111.75 131.2L109.76 132.13L108.6 134.45L109.1 139.55L109.93 144.19L109.43 148.83L109.76 152.78L110.92 154.4L113.41 154.17L114.41 147.44L115.57 139.55Z" fill="#ea9a52" stroke="#7a4a22" stroke-width="0.45" stroke-linejoin="round"/><path d="M117.73 131.9L118.89 131.2L120.39 132.36L122.05 131.2L124.04 132.13L125.2 134.45L124.7 139.55L123.87 144.19L124.37 148.83L124.04 152.78L122.88 154.4L120.39 154.17L119.39 147.44L118.23 139.55Z" fill="#ea9a52" stroke="#7a4a22" stroke-width="0.45" stroke-linejoin="round"/>
<path d="M198.27 131.9L199.93 131.9L200.43 139.55L201.59 147.44L202.59 154.17L195.61 154.17L196.61 147.44L197.77 139.55Z" fill="#a53d20"/><path d="M198.27 131.9L197.11 131.2L195.61 132.36L193.95 131.2L191.96 132.13L190.8 134.45L191.3 139.55L192.13 144.19L191.63 148.83L191.96 152.78L193.12 154.4L195.61 154.17L196.61 147.44L197.77 139.55Z" fill="#ea9a52" stroke="#7a4a22" stroke-width="0.45" stroke-linejoin="round"/><path d="M199.93 131.9L201.09 131.2L202.59 132.36L204.25 131.2L206.24 132.13L207.4 134.45L206.9 139.55L206.07 144.19L206.57 148.83L206.24 152.78L205.08 154.4L202.59 154.17L201.59 147.44L200.43 139.55Z" fill="#ea9a52" stroke="#7a4a22" stroke-width="0.45" stroke-linejoin="round"/>
<path d="M99.67 180.97L101.53 180.97L102.09 189.42L103.39 198.12L104.51 205.54L96.69 205.54L97.81 198.12L99.11 189.42Z" fill="#6b2c70"/><path d="M99.67 180.97L98.37 180.2L96.69 181.48L94.83 180.2L92.6 181.22L91.3 183.78L91.86 189.42L92.79 194.54L92.23 199.66L92.6 204.01L93.9 205.8L96.69 205.54L97.81 198.12L99.11 189.42Z" fill="#3a8fa6" stroke="#2a5f6e" stroke-width="0.45" stroke-linejoin="round"/><path d="M101.53 180.97L102.83 180.2L104.51 181.48L106.37 180.2L108.6 181.22L109.9 183.78L109.34 189.42L108.41 194.54L108.97 199.66L108.6 204.01L107.3 205.8L104.51 205.54L103.39 198.12L102.09 189.42Z" fill="#3a8fa6" stroke="#2a5f6e" stroke-width="0.45" stroke-linejoin="round"/>
<path d="M235.57 180.97L237.43 180.97L237.99 189.42L239.29 198.12L240.41 205.54L232.59 205.54L233.71 198.12L235.01 189.42Z" fill="#6b2c70"/><path d="M235.57 180.97L234.27 180.2L232.59 181.48L230.73 180.2L228.5 181.22L227.2 183.78L227.76 189.42L228.69 194.54L228.13 199.66L228.5 204.01L229.8 205.8L232.59 205.54L233.71 198.12L235.01 189.42Z" fill="#3a8fa6" stroke="#2a5f6e" stroke-width="0.45" stroke-linejoin="round"/><path d="M237.43 180.97L238.73 180.2L240.41 181.48L242.27 180.2L244.5 181.22L245.8 183.78L245.24 189.42L244.31 194.54L244.87 199.66L244.5 204.01L243.2 205.8L240.41 205.54L239.29 198.12L237.99 189.42Z" fill="#3a8fa6" stroke="#2a5f6e" stroke-width="0.45" stroke-linejoin="round"/>
<circle cx="76.3" cy="267.4" r="1.85" fill="url(#gBead)"/><circle cx="75.9" cy="263.3" r="1.85" fill="url(#gBead)"/><circle cx="73" cy="260.4" r="1.85" fill="url(#gBead)"/><circle cx="73.6" cy="256.9" r="1.85" fill="url(#gBead)"/><circle cx="74.2" cy="253.1" r="1.85" fill="url(#gBead)"/><circle cx="71.6" cy="250.4" r="1.85" fill="url(#gBead)"/><circle cx="69.3" cy="248.1" r="1.85" fill="url(#gBead)"/>
<circle cx="92.3" cy="267.4" r="1.85" fill="url(#gBead)"/><circle cx="92.3" cy="263.6" r="1.85" fill="url(#gBead)"/><circle cx="89.9" cy="260.7" r="1.85" fill="url(#gBead)"/><circle cx="89.4" cy="256.9" r="1.85" fill="url(#gBead)"/><circle cx="89.9" cy="253.6" r="1.85" fill="url(#gBead)"/><circle cx="87.6" cy="250.9" r="1.85" fill="url(#gBead)"/><circle cx="85.6" cy="247.8" r="1.85" fill="url(#gBead)"/>
<circle cx="108" cy="267.4" r="1.85" fill="url(#gBead)"/><circle cx="108.6" cy="263.3" r="1.85" fill="url(#gBead)"/><circle cx="106.3" cy="259.8" r="1.85" fill="url(#gBead)"/><circle cx="107.5" cy="256.9" r="1.85" fill="url(#gBead)"/><circle cx="108.6" cy="253.4" r="1.85" fill="url(#gBead)"/><circle cx="106.9" cy="250.2" r="1.85" fill="url(#gBead)"/><circle cx="104.5" cy="246.9" r="1.85" fill="url(#gBead)"/>
<circle cx="124.4" cy="267.4" r="1.85" fill="url(#gBead)"/><circle cx="125" cy="263.9" r="1.85" fill="url(#gBead)"/><circle cx="122.6" cy="260.4" r="1.85" fill="url(#gBead)"/><circle cx="123.8" cy="256.9" r="1.85" fill="url(#gBead)"/><circle cx="125.6" cy="253.7" r="1.85" fill="url(#gBead)"/><circle cx="123.2" cy="250.5" r="1.85" fill="url(#gBead)"/><circle cx="121.5" cy="246.9" r="1.85" fill="url(#gBead)"/>
<circle cx="140.2" cy="267.4" r="1.85" fill="url(#gBead)"/><circle cx="141.3" cy="263.4" r="1.85" fill="url(#gBead)"/><circle cx="140.3" cy="259.9" r="1.85" fill="url(#gBead)"/><circle cx="139" cy="256.3" r="1.85" fill="url(#gBead)"/><circle cx="141.3" cy="252.3" r="1.85" fill="url(#gBead)"/><circle cx="139.3" cy="249.3" r="1.85" fill="url(#gBead)"/><circle cx="137.2" cy="246.4" r="1.85" fill="url(#gBead)"/>
<circle cx="158" cy="267.4" r="1.85" fill="url(#gBead)"/><circle cx="158.5" cy="264.1" r="1.85" fill="url(#gBead)"/><circle cx="156.6" cy="260.8" r="1.85" fill="url(#gBead)"/><circle cx="157.5" cy="257" r="1.85" fill="url(#gBead)"/><circle cx="158.95" cy="253.6" r="1.85" fill="url(#gBead)"/><circle cx="157.5" cy="250.8" r="1.85" fill="url(#gBead)"/><circle cx="155.15" cy="247.4" r="1.85" fill="url(#gBead)"/>
<circle cx="174.4" cy="267.4" r="1.85" fill="url(#gBead)"/><circle cx="175.5" cy="263.9" r="1.85" fill="url(#gBead)"/><circle cx="173.5" cy="260" r="1.85" fill="url(#gBead)"/><circle cx="175.3" cy="256.9" r="1.85" fill="url(#gBead)"/><circle cx="177.5" cy="253.4" r="1.85" fill="url(#gBead)"/><circle cx="175.9" cy="249.9" r="1.85" fill="url(#gBead)"/><circle cx="174.4" cy="246.8" r="1.85" fill="url(#gBead)"/>
<circle cx="188.5" cy="267.4" r="1.85" fill="url(#gBead)"/><circle cx="188.2" cy="263.9" r="1.85" fill="url(#gBead)"/><circle cx="191.4" cy="260.8" r="1.85" fill="url(#gBead)"/><circle cx="190.7" cy="256.9" r="1.85" fill="url(#gBead)"/><circle cx="190.3" cy="253.4" r="1.85" fill="url(#gBead)"/><circle cx="192.9" cy="250.8" r="1.85" fill="url(#gBead)"/><circle cx="195.5" cy="248.1" r="1.85" fill="url(#gBead)"/>
<circle cx="207.7" cy="267.4" r="1.85" fill="url(#gBead)"/><circle cx="209" cy="263.9" r="1.85" fill="url(#gBead)"/><circle cx="206.8" cy="260" r="1.85" fill="url(#gBead)"/><circle cx="208.1" cy="256.9" r="1.85" fill="url(#gBead)"/><circle cx="209.9" cy="253.4" r="1.85" fill="url(#gBead)"/><circle cx="208.1" cy="250.3" r="1.85" fill="url(#gBead)"/><circle cx="206.4" cy="246.8" r="1.85" fill="url(#gBead)"/>
<circle cx="224.9" cy="267.4" r="1.85" fill="url(#gBead)"/><circle cx="224.7" cy="263.6" r="1.85" fill="url(#gBead)"/><circle cx="222.2" cy="260.3" r="1.85" fill="url(#gBead)"/><circle cx="221.8" cy="256.5" r="1.85" fill="url(#gBead)"/><circle cx="222.7" cy="253.2" r="1.85" fill="url(#gBead)"/><circle cx="220.5" cy="249.9" r="1.85" fill="url(#gBead)"/><circle cx="217.8" cy="247.7" r="1.85" fill="url(#gBead)"/>
<circle cx="238" cy="267.4" r="1.85" fill="url(#gBead)"/><circle cx="240.7" cy="264.4" r="1.85" fill="url(#gBead)"/><circle cx="241.3" cy="260.6" r="1.85" fill="url(#gBead)"/><circle cx="243.7" cy="258.2" r="1.85" fill="url(#gBead)"/><circle cx="246.8" cy="255.7" r="1.85" fill="url(#gBead)"/><circle cx="247" cy="252.4" r="1.85" fill="url(#gBead)"/><circle cx="247" cy="248.6" r="1.85" fill="url(#gBead)"/>
<circle cx="259.9" cy="267.4" r="1.85" fill="url(#gBead)"/><circle cx="259.9" cy="263.6" r="1.85" fill="url(#gBead)"/><circle cx="257.2" cy="260.3" r="1.85" fill="url(#gBead)"/><circle cx="257.2" cy="256.5" r="1.85" fill="url(#gBead)"/><circle cx="258.3" cy="252.6" r="1.85" fill="url(#gBead)"/><circle cx="256.1" cy="249.9" r="1.85" fill="url(#gBead)"/><circle cx="253.3" cy="247.7" r="1.85" fill="url(#gBead)"/>
<circle cx="273.6" cy="267.4" r="1.85" fill="url(#gBead)"/><circle cx="273.6" cy="263.6" r="1.85" fill="url(#gBead)"/><circle cx="270.9" cy="260.3" r="1.85" fill="url(#gBead)"/><circle cx="270.9" cy="256.5" r="1.85" fill="url(#gBead)"/><circle cx="272" cy="252.6" r="1.85" fill="url(#gBead)"/><circle cx="269.8" cy="249.9" r="1.85" fill="url(#gBead)"/><circle cx="267" cy="247.7" r="1.85" fill="url(#gBead)"/>
<ellipse cx="74.8" cy="272.3" rx="8.0" ry="2.7" fill="url(#gLps)"/>
<ellipse cx="91.29" cy="272.3" rx="8.0" ry="2.7" fill="url(#gLps)"/>
<ellipse cx="107.78" cy="272.3" rx="8.0" ry="2.7" fill="url(#gLps)"/>
<ellipse cx="124.27" cy="272.3" rx="8.0" ry="2.7" fill="url(#gLps)"/>
<ellipse cx="140.76" cy="272.3" rx="8.0" ry="2.7" fill="url(#gLps)"/>
<ellipse cx="157.25" cy="272.3" rx="8.0" ry="2.7" fill="url(#gLps)"/>
<ellipse cx="173.74" cy="272.3" rx="8.0" ry="2.7" fill="url(#gLps)"/>
<ellipse cx="190.23" cy="272.3" rx="8.0" ry="2.7" fill="url(#gLps)"/>
<ellipse cx="206.72" cy="272.3" rx="8.0" ry="2.7" fill="url(#gLps)"/>
<ellipse cx="223.21" cy="272.3" rx="8.0" ry="2.7" fill="url(#gLps)"/>
<ellipse cx="239.7" cy="272.3" rx="8.0" ry="2.7" fill="url(#gLps)"/>
<ellipse cx="256.19" cy="272.3" rx="8.0" ry="2.7" fill="url(#gLps)"/>
<ellipse cx="272.68" cy="272.3" rx="8.0" ry="2.7" fill="url(#gLps)"/>
<path d="M69.6 274.6Q67.7 281.1 69.6 287.6M71 274.6Q72.9 281.1 71 287.6M74.94 274.6Q73.04 281.1 74.94 287.6M76.34 274.6Q78.24 281.1 76.34 287.6M80.28 274.6Q78.38 281.1 80.28 287.6M81.68 274.6Q83.58 281.1 81.68 287.6M85.62 274.6Q83.72 281.1 85.62 287.6M87.02 274.6Q88.92 281.1 87.02 287.6M90.96 274.6Q89.06 281.1 90.96 287.6M92.36 274.6Q94.26 281.1 92.36 287.6M96.3 274.6Q94.4 281.1 96.3 287.6M97.7 274.6Q99.6 281.1 97.7 287.6M101.64 274.6Q99.74 281.1 101.64 287.6M103.04 274.6Q104.94 281.1 103.04 287.6M106.98 274.6Q105.08 281.1 106.98 287.6M108.38 274.6Q110.28 281.1 108.38 287.6M112.32 274.6Q110.42 281.1 112.32 287.6M113.72 274.6Q115.62 281.1 113.72 287.6M117.66 274.6Q115.76 281.1 117.66 287.6M119.06 274.6Q120.96 281.1 119.06 287.6M123 274.6Q121.1 281.1 123 287.6M124.4 274.6Q126.3 281.1 124.4 287.6M128.34 274.6Q126.44 281.1 128.34 287.6M129.74 274.6Q131.64 281.1 129.74 287.6M133.68 274.6Q131.78 281.1 133.68 287.6M135.08 274.6Q136.98 281.1 135.08 287.6M139.02 274.6Q137.12 281.1 139.02 287.6M140.42 274.6Q142.32 281.1 140.42 287.6M144.36 274.6Q142.46 281.1 144.36 287.6M145.76 274.6Q147.66 281.1 145.76 287.6M149.7 274.6Q147.8 281.1 149.7 287.6M151.1 274.6Q153 281.1 151.1 287.6M155.04 274.6Q153.14 281.1 155.04 287.6M156.44 274.6Q158.34 281.1 156.44 287.6M160.38 274.6Q158.48 281.1 160.38 287.6M161.78 274.6Q163.68 281.1 161.78 287.6M165.72 274.6Q163.82 281.1 165.72 287.6M167.12 274.6Q169.02 281.1 167.12 287.6M171.06 274.6Q169.16 281.1 171.06 287.6M172.46 274.6Q174.36 281.1 172.46 287.6M176.4 274.6Q174.5 281.1 176.4 287.6M177.8 274.6Q179.7 281.1 177.8 287.6M181.74 274.6Q179.84 281.1 181.74 287.6M183.14 274.6Q185.04 281.1 183.14 287.6M187.08 274.6Q185.18 281.1 187.08 287.6M188.48 274.6Q190.38 281.1 188.48 287.6M192.42 274.6Q190.52 281.1 192.42 287.6M193.82 274.6Q195.72 281.1 193.82 287.6M197.76 274.6Q195.86 281.1 197.76 287.6M199.16 274.6Q201.06 281.1 199.16 287.6M203.1 274.6Q201.2 281.1 203.1 287.6M204.5 274.6Q206.4 281.1 204.5 287.6M208.44 274.6Q206.54 281.1 208.44 287.6M209.84 274.6Q211.74 281.1 209.84 287.6M213.78 274.6Q211.88 281.1 213.78 287.6M215.18 274.6Q217.08 281.1 215.18 287.6M219.12 274.6Q217.22 281.1 219.12 287.6M220.52 274.6Q222.42 281.1 220.52 287.6M224.46 274.6Q222.56 281.1 224.46 287.6M225.86 274.6Q227.76 281.1 225.86 287.6M229.8 274.6Q227.9 281.1 229.8 287.6M231.2 274.6Q233.1 281.1 231.2 287.6M235.14 274.6Q233.24 281.1 235.14 287.6M236.54 274.6Q238.44 281.1 236.54 287.6M240.48 274.6Q238.58 281.1 240.48 287.6M241.88 274.6Q243.78 281.1 241.88 287.6M245.82 274.6Q243.92 281.1 245.82 287.6M247.22 274.6Q249.12 281.1 247.22 287.6M251.16 274.6Q249.26 281.1 251.16 287.6M252.56 274.6Q254.46 281.1 252.56 287.6M256.5 274.6Q254.6 281.1 256.5 287.6M257.9 274.6Q259.8 281.1 257.9 287.6M261.84 274.6Q259.94 281.1 261.84 287.6M263.24 274.6Q265.14 281.1 263.24 287.6M267.18 274.6Q265.28 281.1 267.18 287.6M268.58 274.6Q270.48 281.1 268.58 287.6M272.52 274.6Q270.62 281.1 272.52 287.6M273.92 274.6Q275.82 281.1 273.92 287.6M277.86 274.6Q275.96 281.1 277.86 287.6M279.26 274.6Q281.16 281.1 279.26 287.6" stroke="#efb3b5" stroke-width="0.8" fill="none"/>
<circle cx="70.3" cy="290.4" r="2.7" fill="url(#gHead)"/><circle cx="75.64" cy="290.4" r="2.7" fill="url(#gHead)"/><circle cx="80.98" cy="290.4" r="2.7" fill="url(#gHead)"/><circle cx="86.32" cy="290.4" r="2.7" fill="url(#gHead)"/><circle cx="91.66" cy="290.4" r="2.7" fill="url(#gHead)"/><circle cx="97" cy="290.4" r="2.7" fill="url(#gHead)"/><circle cx="102.34" cy="290.4" r="2.7" fill="url(#gHead)"/><circle cx="107.68" cy="290.4" r="2.7" fill="url(#gHead)"/><circle cx="113.02" cy="290.4" r="2.7" fill="url(#gHead)"/><circle cx="118.36" cy="290.4" r="2.7" fill="url(#gHead)"/><circle cx="123.7" cy="290.4" r="2.7" fill="url(#gHead)"/><circle cx="129.04" cy="290.4" r="2.7" fill="url(#gHead)"/><circle cx="134.38" cy="290.4" r="2.7" fill="url(#gHead)"/><circle cx="139.72" cy="290.4" r="2.7" fill="url(#gHead)"/><circle cx="145.06" cy="290.4" r="2.7" fill="url(#gHead)"/><circle cx="150.4" cy="290.4" r="2.7" fill="url(#gHead)"/><circle cx="155.74" cy="290.4" r="2.7" fill="url(#gHead)"/><circle cx="161.08" cy="290.4" r="2.7" fill="url(#gHead)"/><circle cx="166.42" cy="290.4" r="2.7" fill="url(#gHead)"/><circle cx="171.76" cy="290.4" r="2.7" fill="url(#gHead)"/><circle cx="177.1" cy="290.4" r="2.7" fill="url(#gHead)"/><circle cx="182.44" cy="290.4" r="2.7" fill="url(#gHead)"/><circle cx="187.78" cy="290.4" r="2.7" fill="url(#gHead)"/><circle cx="193.12" cy="290.4" r="2.7" fill="url(#gHead)"/><circle cx="198.46" cy="290.4" r="2.7" fill="url(#gHead)"/><circle cx="203.8" cy="290.4" r="2.7" fill="url(#gHead)"/><circle cx="209.14" cy="290.4" r="2.7" fill="url(#gHead)"/><circle cx="214.48" cy="290.4" r="2.7" fill="url(#gHead)"/><circle cx="219.82" cy="290.4" r="2.7" fill="url(#gHead)"/><circle cx="225.16" cy="290.4" r="2.7" fill="url(#gHead)"/><circle cx="230.5" cy="290.4" r="2.7" fill="url(#gHead)"/><circle cx="235.84" cy="290.4" r="2.7" fill="url(#gHead)"/><circle cx="241.18" cy="290.4" r="2.7" fill="url(#gHead)"/><circle cx="246.52" cy="290.4" r="2.7" fill="url(#gHead)"/><circle cx="251.86" cy="290.4" r="2.7" fill="url(#gHead)"/><circle cx="257.2" cy="290.4" r="2.7" fill="url(#gHead)"/><circle cx="262.54" cy="290.4" r="2.7" fill="url(#gHead)"/><circle cx="267.88" cy="290.4" r="2.7" fill="url(#gHead)"/><circle cx="273.22" cy="290.4" r="2.7" fill="url(#gHead)"/><circle cx="278.56" cy="290.4" r="2.7" fill="url(#gHead)"/>
<circle cx="70.3" cy="322.9" r="2.8" fill="url(#gHead)"/><circle cx="75.64" cy="322.9" r="2.8" fill="url(#gHead)"/><circle cx="80.98" cy="322.9" r="2.8" fill="url(#gHead)"/><circle cx="86.32" cy="322.9" r="2.8" fill="url(#gHead)"/><circle cx="91.66" cy="322.9" r="2.8" fill="url(#gHead)"/><circle cx="97" cy="322.9" r="2.8" fill="url(#gHead)"/><circle cx="102.34" cy="322.9" r="2.8" fill="url(#gHead)"/><circle cx="107.68" cy="322.9" r="2.8" fill="url(#gHead)"/><circle cx="113.02" cy="322.9" r="2.8" fill="url(#gHead)"/><circle cx="118.36" cy="322.9" r="2.8" fill="url(#gHead)"/><circle cx="123.7" cy="322.9" r="2.8" fill="url(#gHead)"/><circle cx="129.04" cy="322.9" r="2.8" fill="url(#gHead)"/><circle cx="134.38" cy="322.9" r="2.8" fill="url(#gHead)"/><circle cx="139.72" cy="322.9" r="2.8" fill="url(#gHead)"/><circle cx="145.06" cy="322.9" r="2.8" fill="url(#gHead)"/><circle cx="150.4" cy="322.9" r="2.8" fill="url(#gHead)"/><circle cx="155.74" cy="322.9" r="2.8" fill="url(#gHead)"/><circle cx="161.08" cy="322.9" r="2.8" fill="url(#gHead)"/><circle cx="166.42" cy="322.9" r="2.8" fill="url(#gHead)"/><circle cx="171.76" cy="322.9" r="2.8" fill="url(#gHead)"/><circle cx="177.1" cy="322.9" r="2.8" fill="url(#gHead)"/><circle cx="182.44" cy="322.9" r="2.8" fill="url(#gHead)"/><circle cx="187.78" cy="322.9" r="2.8" fill="url(#gHead)"/><circle cx="193.12" cy="322.9" r="2.8" fill="url(#gHead)"/><circle cx="198.46" cy="322.9" r="2.8" fill="url(#gHead)"/><circle cx="203.8" cy="322.9" r="2.8" fill="url(#gHead)"/><circle cx="209.14" cy="322.9" r="2.8" fill="url(#gHead)"/><circle cx="214.48" cy="322.9" r="2.8" fill="url(#gHead)"/><circle cx="219.82" cy="322.9" r="2.8" fill="url(#gHead)"/><circle cx="225.16" cy="322.9" r="2.8" fill="url(#gHead)"/><circle cx="230.5" cy="322.9" r="2.8" fill="url(#gHead)"/><circle cx="235.84" cy="322.9" r="2.8" fill="url(#gHead)"/><circle cx="241.18" cy="322.9" r="2.8" fill="url(#gHead)"/><circle cx="246.52" cy="322.9" r="2.8" fill="url(#gHead)"/><circle cx="251.86" cy="322.9" r="2.8" fill="url(#gHead)"/><circle cx="257.2" cy="322.9" r="2.8" fill="url(#gHead)"/><circle cx="262.54" cy="322.9" r="2.8" fill="url(#gHead)"/><circle cx="267.88" cy="322.9" r="2.8" fill="url(#gHead)"/><circle cx="273.22" cy="322.9" r="2.8" fill="url(#gHead)"/><circle cx="278.56" cy="322.9" r="2.8" fill="url(#gHead)"/>
<path d="M69.6 325.6Q67.7 332.1 69.6 338.6M71 325.6Q72.9 332.1 71 338.6M74.94 325.6Q73.04 332.1 74.94 338.6M76.34 325.6Q78.24 332.1 76.34 338.6M80.28 325.6Q78.38 332.1 80.28 338.6M81.68 325.6Q83.58 332.1 81.68 338.6M85.62 325.6Q83.72 332.1 85.62 338.6M87.02 325.6Q88.92 332.1 87.02 338.6M90.96 325.6Q89.06 332.1 90.96 338.6M92.36 325.6Q94.26 332.1 92.36 338.6M96.3 325.6Q94.4 332.1 96.3 338.6M97.7 325.6Q99.6 332.1 97.7 338.6M101.64 325.6Q99.74 332.1 101.64 338.6M103.04 325.6Q104.94 332.1 103.04 338.6M106.98 325.6Q105.08 332.1 106.98 338.6M108.38 325.6Q110.28 332.1 108.38 338.6M112.32 325.6Q110.42 332.1 112.32 338.6M113.72 325.6Q115.62 332.1 113.72 338.6M117.66 325.6Q115.76 332.1 117.66 338.6M119.06 325.6Q120.96 332.1 119.06 338.6M123 325.6Q121.1 332.1 123 338.6M124.4 325.6Q126.3 332.1 124.4 338.6M128.34 325.6Q126.44 332.1 128.34 338.6M129.74 325.6Q131.64 332.1 129.74 338.6M133.68 325.6Q131.78 332.1 133.68 338.6M135.08 325.6Q136.98 332.1 135.08 338.6M139.02 325.6Q137.12 332.1 139.02 338.6M140.42 325.6Q142.32 332.1 140.42 338.6M144.36 325.6Q142.46 332.1 144.36 338.6M145.76 325.6Q147.66 332.1 145.76 338.6M149.7 325.6Q147.8 332.1 149.7 338.6M151.1 325.6Q153 332.1 151.1 338.6M155.04 325.6Q153.14 332.1 155.04 338.6M156.44 325.6Q158.34 332.1 156.44 338.6M160.38 325.6Q158.48 332.1 160.38 338.6M161.78 325.6Q163.68 332.1 161.78 338.6M165.72 325.6Q163.82 332.1 165.72 338.6M167.12 325.6Q169.02 332.1 167.12 338.6M171.06 325.6Q169.16 332.1 171.06 338.6M172.46 325.6Q174.36 332.1 172.46 338.6M176.4 325.6Q174.5 332.1 176.4 338.6M177.8 325.6Q179.7 332.1 177.8 338.6M181.74 325.6Q179.84 332.1 181.74 338.6M183.14 325.6Q185.04 332.1 183.14 338.6M187.08 325.6Q185.18 332.1 187.08 338.6M188.48 325.6Q190.38 332.1 188.48 338.6M192.42 325.6Q190.52 332.1 192.42 338.6M193.82 325.6Q195.72 332.1 193.82 338.6M197.76 325.6Q195.86 332.1 197.76 338.6M199.16 325.6Q201.06 332.1 199.16 338.6M203.1 325.6Q201.2 332.1 203.1 338.6M204.5 325.6Q206.4 332.1 204.5 338.6M208.44 325.6Q206.54 332.1 208.44 338.6M209.84 325.6Q211.74 332.1 209.84 338.6M213.78 325.6Q211.88 332.1 213.78 338.6M215.18 325.6Q217.08 332.1 215.18 338.6M219.12 325.6Q217.22 332.1 219.12 338.6M220.52 325.6Q222.42 332.1 220.52 338.6M224.46 325.6Q222.56 332.1 224.46 338.6M225.86 325.6Q227.76 332.1 225.86 338.6M229.8 325.6Q227.9 332.1 229.8 338.6M231.2 325.6Q233.1 332.1 231.2 338.6M235.14 325.6Q233.24 332.1 235.14 338.6M236.54 325.6Q238.44 332.1 236.54 338.6M240.48 325.6Q238.58 332.1 240.48 338.6M241.88 325.6Q243.78 332.1 241.88 338.6M245.82 325.6Q243.92 332.1 245.82 338.6M247.22 325.6Q249.12 332.1 247.22 338.6M251.16 325.6Q249.26 332.1 251.16 338.6M252.56 325.6Q254.46 332.1 252.56 338.6M256.5 325.6Q254.6 332.1 256.5 338.6M257.9 325.6Q259.8 332.1 257.9 338.6M261.84 325.6Q259.94 332.1 261.84 338.6M263.24 325.6Q265.14 332.1 263.24 338.6M267.18 325.6Q265.28 332.1 267.18 338.6M268.58 325.6Q270.48 332.1 268.58 338.6M272.52 325.6Q270.62 332.1 272.52 338.6M273.92 325.6Q275.82 332.1 273.92 338.6M277.86 325.6Q275.96 332.1 277.86 338.6M279.26 325.6Q281.16 332.1 279.26 338.6" stroke="#efb3b5" stroke-width="0.8" fill="none"/>
<circle cx="70.3" cy="341.2" r="2.8" fill="url(#gHead)"/><circle cx="75.64" cy="341.2" r="2.8" fill="url(#gHead)"/><circle cx="80.98" cy="341.2" r="2.8" fill="url(#gHead)"/><circle cx="86.32" cy="341.2" r="2.8" fill="url(#gHead)"/><circle cx="91.66" cy="341.2" r="2.8" fill="url(#gHead)"/><circle cx="97" cy="341.2" r="2.8" fill="url(#gHead)"/><circle cx="102.34" cy="341.2" r="2.8" fill="url(#gHead)"/><circle cx="107.68" cy="341.2" r="2.8" fill="url(#gHead)"/><circle cx="113.02" cy="341.2" r="2.8" fill="url(#gHead)"/><circle cx="118.36" cy="341.2" r="2.8" fill="url(#gHead)"/><circle cx="123.7" cy="341.2" r="2.8" fill="url(#gHead)"/><circle cx="129.04" cy="341.2" r="2.8" fill="url(#gHead)"/><circle cx="134.38" cy="341.2" r="2.8" fill="url(#gHead)"/><circle cx="139.72" cy="341.2" r="2.8" fill="url(#gHead)"/><circle cx="145.06" cy="341.2" r="2.8" fill="url(#gHead)"/><circle cx="150.4" cy="341.2" r="2.8" fill="url(#gHead)"/><circle cx="155.74" cy="341.2" r="2.8" fill="url(#gHead)"/><circle cx="161.08" cy="341.2" r="2.8" fill="url(#gHead)"/><circle cx="166.42" cy="341.2" r="2.8" fill="url(#gHead)"/><circle cx="171.76" cy="341.2" r="2.8" fill="url(#gHead)"/><circle cx="177.1" cy="341.2" r="2.8" fill="url(#gHead)"/><circle cx="182.44" cy="341.2" r="2.8" fill="url(#gHead)"/><circle cx="187.78" cy="341.2" r="2.8" fill="url(#gHead)"/><circle cx="193.12" cy="341.2" r="2.8" fill="url(#gHead)"/><circle cx="198.46" cy="341.2" r="2.8" fill="url(#gHead)"/><circle cx="203.8" cy="341.2" r="2.8" fill="url(#gHead)"/><circle cx="209.14" cy="341.2" r="2.8" fill="url(#gHead)"/><circle cx="214.48" cy="341.2" r="2.8" fill="url(#gHead)"/><circle cx="219.82" cy="341.2" r="2.8" fill="url(#gHead)"/><circle cx="225.16" cy="341.2" r="2.8" fill="url(#gHead)"/><circle cx="230.5" cy="341.2" r="2.8" fill="url(#gHead)"/><circle cx="235.84" cy="341.2" r="2.8" fill="url(#gHead)"/><circle cx="241.18" cy="341.2" r="2.8" fill="url(#gHead)"/><circle cx="246.52" cy="341.2" r="2.8" fill="url(#gHead)"/><circle cx="251.86" cy="341.2" r="2.8" fill="url(#gHead)"/><circle cx="257.2" cy="341.2" r="2.8" fill="url(#gHead)"/><circle cx="262.54" cy="341.2" r="2.8" fill="url(#gHead)"/><circle cx="267.88" cy="341.2" r="2.8" fill="url(#gHead)"/><circle cx="273.22" cy="341.2" r="2.8" fill="url(#gHead)"/><circle cx="278.56" cy="341.2" r="2.8" fill="url(#gHead)"/>
<circle cx="71.6" cy="301.7" r="2.2" fill="url(#gMint)"/>
<circle cx="71.6" cy="311.7" r="2.2" fill="url(#gPeach)"/>
<circle cx="77" cy="301.7" r="2.2" fill="url(#gPeach)"/>
<circle cx="77" cy="311.7" r="2.2" fill="url(#gMint)"/>
<circle cx="82.4" cy="301.7" r="2.2" fill="url(#gMint)"/>
<circle cx="82.4" cy="311.7" r="2.2" fill="url(#gPeach)"/>
<circle cx="87.8" cy="301.7" r="2.2" fill="url(#gPeach)"/>
<circle cx="87.8" cy="311.7" r="2.2" fill="url(#gMint)"/>
<circle cx="93.2" cy="301.7" r="2.2" fill="url(#gMint)"/>
<circle cx="93.2" cy="311.7" r="2.2" fill="url(#gPeach)"/>
<circle cx="98.6" cy="301.7" r="2.2" fill="url(#gPeach)"/>
<circle cx="98.6" cy="311.7" r="2.2" fill="url(#gMint)"/>
<circle cx="104" cy="301.7" r="2.2" fill="url(#gMint)"/>
<circle cx="104" cy="311.7" r="2.2" fill="url(#gPeach)"/>
<circle cx="109.4" cy="301.7" r="2.2" fill="url(#gPeach)"/>
<circle cx="109.4" cy="311.7" r="2.2" fill="url(#gMint)"/>
<circle cx="114.8" cy="301.7" r="2.2" fill="url(#gMint)"/>
<circle cx="114.8" cy="311.7" r="2.2" fill="url(#gPeach)"/>
<circle cx="120.2" cy="301.7" r="2.2" fill="url(#gPeach)"/>
<circle cx="120.2" cy="311.7" r="2.2" fill="url(#gMint)"/>
<circle cx="125.6" cy="301.7" r="2.2" fill="url(#gMint)"/>
<circle cx="125.6" cy="311.7" r="2.2" fill="url(#gPeach)"/>
<circle cx="131" cy="301.7" r="2.2" fill="url(#gPeach)"/>
<circle cx="131" cy="311.7" r="2.2" fill="url(#gMint)"/>
<circle cx="136.4" cy="301.7" r="2.2" fill="url(#gMint)"/>
<circle cx="136.4" cy="311.7" r="2.2" fill="url(#gPeach)"/>
<circle cx="141.8" cy="301.7" r="2.2" fill="url(#gPeach)"/>
<circle cx="141.8" cy="311.7" r="2.2" fill="url(#gMint)"/>
<circle cx="147.2" cy="301.7" r="2.2" fill="url(#gMint)"/>
<circle cx="147.2" cy="311.7" r="2.2" fill="url(#gPeach)"/>
<circle cx="152.6" cy="301.7" r="2.2" fill="url(#gPeach)"/>
<circle cx="152.6" cy="311.7" r="2.2" fill="url(#gMint)"/>
<circle cx="158" cy="301.7" r="2.2" fill="url(#gMint)"/>
<circle cx="158" cy="311.7" r="2.2" fill="url(#gPeach)"/>
<circle cx="163.4" cy="301.7" r="2.2" fill="url(#gPeach)"/>
<circle cx="163.4" cy="311.7" r="2.2" fill="url(#gMint)"/>
<circle cx="168.8" cy="301.7" r="2.2" fill="url(#gMint)"/>
<circle cx="168.8" cy="311.7" r="2.2" fill="url(#gPeach)"/>
<circle cx="174.2" cy="301.7" r="2.2" fill="url(#gPeach)"/>
<circle cx="174.2" cy="311.7" r="2.2" fill="url(#gMint)"/>
<circle cx="179.6" cy="301.7" r="2.2" fill="url(#gMint)"/>
<circle cx="179.6" cy="311.7" r="2.2" fill="url(#gPeach)"/>
<circle cx="185" cy="301.7" r="2.2" fill="url(#gPeach)"/>
<circle cx="185" cy="311.7" r="2.2" fill="url(#gMint)"/>
<circle cx="190.4" cy="301.7" r="2.2" fill="url(#gMint)"/>
<circle cx="190.4" cy="311.7" r="2.2" fill="url(#gPeach)"/>
<circle cx="195.8" cy="301.7" r="2.2" fill="url(#gPeach)"/>
<circle cx="195.8" cy="311.7" r="2.2" fill="url(#gMint)"/>
<circle cx="201.2" cy="301.7" r="2.2" fill="url(#gMint)"/>
<circle cx="201.2" cy="311.7" r="2.2" fill="url(#gPeach)"/>
<circle cx="206.6" cy="301.7" r="2.2" fill="url(#gPeach)"/>
<circle cx="206.6" cy="311.7" r="2.2" fill="url(#gMint)"/>
<circle cx="212" cy="301.7" r="2.2" fill="url(#gMint)"/>
<circle cx="212" cy="311.7" r="2.2" fill="url(#gPeach)"/>
<circle cx="217.4" cy="301.7" r="2.2" fill="url(#gPeach)"/>
<circle cx="217.4" cy="311.7" r="2.2" fill="url(#gMint)"/>
<circle cx="222.8" cy="301.7" r="2.2" fill="url(#gMint)"/>
<circle cx="222.8" cy="311.7" r="2.2" fill="url(#gPeach)"/>
<circle cx="228.2" cy="301.7" r="2.2" fill="url(#gPeach)"/>
<circle cx="228.2" cy="311.7" r="2.2" fill="url(#gMint)"/>
<circle cx="233.6" cy="301.7" r="2.2" fill="url(#gMint)"/>
<circle cx="233.6" cy="311.7" r="2.2" fill="url(#gPeach)"/>
<circle cx="239" cy="301.7" r="2.2" fill="url(#gPeach)"/>
<circle cx="239" cy="311.7" r="2.2" fill="url(#gMint)"/>
<circle cx="244.4" cy="301.7" r="2.2" fill="url(#gMint)"/>
<circle cx="244.4" cy="311.7" r="2.2" fill="url(#gPeach)"/>
<circle cx="249.8" cy="301.7" r="2.2" fill="url(#gPeach)"/>
<circle cx="249.8" cy="311.7" r="2.2" fill="url(#gMint)"/>
<circle cx="255.2" cy="301.7" r="2.2" fill="url(#gMint)"/>
<circle cx="255.2" cy="311.7" r="2.2" fill="url(#gPeach)"/>
<circle cx="260.6" cy="301.7" r="2.2" fill="url(#gPeach)"/>
<circle cx="260.6" cy="311.7" r="2.2" fill="url(#gMint)"/>
<circle cx="266" cy="301.7" r="2.2" fill="url(#gMint)"/>
<circle cx="266" cy="311.7" r="2.2" fill="url(#gPeach)"/>
<circle cx="271.4" cy="301.7" r="2.2" fill="url(#gPeach)"/>
<circle cx="271.4" cy="311.7" r="2.2" fill="url(#gMint)"/>
<circle cx="276.8" cy="301.7" r="2.2" fill="url(#gMint)"/>
<circle cx="276.8" cy="311.7" r="2.2" fill="url(#gPeach)"/>
<path d="M72.6 304.3L73.1 307.5L76.8 306.6L77.4 310.1M83.4 304.3L83.9 307.5L87.6 306.6L88.2 310.1M94.2 304.3L94.7 307.5L98.4 306.6L99 310.1M105 304.3L105.5 307.5L109.2 306.6L109.8 310.1M115.8 304.3L116.3 307.5L120 306.6L120.6 310.1M126.6 304.3L127.1 307.5L130.8 306.6L131.4 310.1M137.4 304.3L137.9 307.5L141.6 306.6L142.2 310.1M148.2 304.3L148.7 307.5L152.4 306.6L153 310.1M159 304.3L159.5 307.5L163.2 306.6L163.8 310.1M169.8 304.3L170.3 307.5L174 306.6L174.6 310.1M180.6 304.3L181.1 307.5L184.8 306.6L185.4 310.1M191.4 304.3L191.9 307.5L195.6 306.6L196.2 310.1M202.2 304.3L202.7 307.5L206.4 306.6L207 310.1M213 304.3L213.5 307.5L217.2 306.6L217.8 310.1M223.8 304.3L224.3 307.5L228 306.6L228.6 310.1M234.6 304.3L235.1 307.5L238.8 306.6L239.4 310.1M245.4 304.3L245.9 307.5L249.6 306.6L250.2 310.1M256.2 304.3L256.7 307.5L260.4 306.6L261 310.1M267 304.3L267.5 307.5L271.2 306.6L271.8 310.1" stroke="#505050" stroke-width="0.75" fill="none" stroke-linejoin="miter"/>
<path d="M116.07 270.9L117.73 270.9L118.23 278.55L119.39 286.44L120.39 293.17L113.41 293.17L114.41 286.44L115.57 278.55Z" fill="#a53d20"/><path d="M116.07 270.9L114.91 270.2L113.41 271.36L111.75 270.2L109.76 271.13L108.6 273.45L109.1 278.55L109.93 283.19L109.43 287.83L109.76 291.78L110.92 293.4L113.41 293.17L114.41 286.44L115.57 278.55Z" fill="#ea9a52" stroke="#7a4a22" stroke-width="0.45" stroke-linejoin="round"/><path d="M117.73 270.9L118.89 270.2L120.39 271.36L122.05 270.2L124.04 271.13L125.2 273.45L124.7 278.55L123.87 283.19L124.37 287.83L124.04 291.78L122.88 293.4L120.39 293.17L119.39 286.44L118.23 278.55Z" fill="#ea9a52" stroke="#7a4a22" stroke-width="0.45" stroke-linejoin="round"/>
<path d="M198.27 270.9L199.93 270.9L200.43 278.55L201.59 286.44L202.59 293.17L195.61 293.17L196.61 286.44L197.77 278.55Z" fill="#a53d20"/><path d="M198.27 270.9L197.11 270.2L195.61 271.36L193.95 270.2L191.96 271.13L190.8 273.45L191.3 278.55L192.13 283.19L191.63 287.83L191.96 291.78L193.12 293.4L195.61 293.17L196.61 286.44L197.77 278.55Z" fill="#ea9a52" stroke="#7a4a22" stroke-width="0.45" stroke-linejoin="round"/><path d="M199.93 270.9L201.09 270.2L202.59 271.36L204.25 270.2L206.24 271.13L207.4 273.45L206.9 278.55L206.07 283.19L206.57 287.83L206.24 291.78L205.08 293.4L202.59 293.17L201.59 286.44L200.43 278.55Z" fill="#ea9a52" stroke="#7a4a22" stroke-width="0.45" stroke-linejoin="round"/>
<path d="M99.67 319.97L101.53 319.97L102.09 328.42L103.39 337.12L104.51 344.54L96.69 344.54L97.81 337.12L99.11 328.42Z" fill="#6b2c70"/><path d="M99.67 319.97L98.37 319.2L96.69 320.48L94.83 319.2L92.6 320.22L91.3 322.78L91.86 328.42L92.79 333.54L92.23 338.66L92.6 343.01L93.9 344.8L96.69 344.54L97.81 337.12L99.11 328.42Z" fill="#3a8fa6" stroke="#2a5f6e" stroke-width="0.45" stroke-linejoin="round"/><path d="M101.53 319.97L102.83 319.2L104.51 320.48L106.37 319.2L108.6 320.22L109.9 322.78L109.34 328.42L108.41 333.54L108.97 338.66L108.6 343.01L107.3 344.8L104.51 344.54L103.39 337.12L102.09 328.42Z" fill="#3a8fa6" stroke="#2a5f6e" stroke-width="0.45" stroke-linejoin="round"/>
<path d="M235.57 319.97L237.43 319.97L237.99 328.42L239.29 337.12L240.41 344.54L232.59 344.54L233.71 337.12L235.01 328.42Z" fill="#6b2c70"/><path d="M235.57 319.97L234.27 319.2L232.59 320.48L230.73 319.2L228.5 320.22L227.2 322.78L227.76 328.42L228.69 333.54L228.13 338.66L228.5 343.01L229.8 344.8L232.59 344.54L233.71 337.12L235.01 328.42Z" fill="#3a8fa6" stroke="#2a5f6e" stroke-width="0.45" stroke-linejoin="round"/><path d="M237.43 319.97L238.73 319.2L240.41 320.48L242.27 319.2L244.5 320.22L245.8 322.78L245.24 328.42L244.31 333.54L244.87 338.66L244.5 343.01L243.2 344.8L240.41 344.54L239.29 337.12L237.99 328.42Z" fill="#3a8fa6" stroke="#2a5f6e" stroke-width="0.45" stroke-linejoin="round"/>
<text x="38.5" y="139.8" font-size="10.1" text-anchor="middle" font-weight="normal" fill="#2b2728" >Outer</text>
<text x="40.1" y="151.8" font-size="10.1" text-anchor="middle" font-weight="normal" fill="#2b2728" >membrane</text>
<text x="38.7" y="166.2" font-size="10.1" text-anchor="middle" font-weight="normal" fill="#2b2728" >Periplasmic</text>
<text x="38.8" y="177.3" font-size="10.1" text-anchor="middle" font-weight="normal" fill="#2b2728" >space</text>
<text x="38.8" y="193.4" font-size="10.1" text-anchor="middle" font-weight="normal" fill="#2b2728" >Inner</text>
<text x="40.1" y="205.2" font-size="10.1" text-anchor="middle" font-weight="normal" fill="#2b2728" >membrane</text>
<text x="38.5" y="278.8" font-size="10.1" text-anchor="middle" font-weight="normal" fill="#2b2728" >Outer</text>
<text x="40.1" y="290.8" font-size="10.1" text-anchor="middle" font-weight="normal" fill="#2b2728" >membrane</text>
<text x="38.7" y="305.2" font-size="10.1" text-anchor="middle" font-weight="normal" fill="#2b2728" >Periplasmic</text>
<text x="38.8" y="316.3" font-size="10.1" text-anchor="middle" font-weight="normal" fill="#2b2728" >space</text>
<text x="38.8" y="332.4" font-size="10.1" text-anchor="middle" font-weight="normal" fill="#2b2728" >Inner</text>
<text x="40.1" y="344.2" font-size="10.1" text-anchor="middle" font-weight="normal" fill="#2b2728" >membrane</text>
<circle cx="240.7" cy="152.5" r="5.5" fill="url(#gGray)"/>
<circle cx="251.1" cy="150.1" r="5.5" fill="url(#gGray)"/>
<circle cx="261.5" cy="154.3" r="5.5" fill="url(#gGray)"/>
<circle cx="245.3" cy="164" r="5.5" fill="url(#gGray)"/>
<circle cx="256.3" cy="163" r="5.5" fill="url(#gGray)"/>
<ellipse cx="100.6" cy="157.9" rx="2.1" ry="4.6" fill="url(#gDrop)" transform="rotate(6 100.6 157.9)"/>
<ellipse cx="200.2" cy="177.5" rx="2.1" ry="4.4" fill="url(#gDrop)" transform="rotate(6 200.2 177.5)"/>
<path d="M224.93 223.44L231.4 224.3L224.93 225.16Z" fill="#ffffff" stroke="#333333" stroke-width="0.6" stroke-linejoin="round"/>
<path d="M224.87 225.46L230.52 228.74L224.21 227.06Z" fill="#ffffff" stroke="#333333" stroke-width="0.6" stroke-linejoin="round"/>
<path d="M224.04 227.32L228 232.5L222.82 228.54Z" fill="#ffffff" stroke="#333333" stroke-width="0.6" stroke-linejoin="round"/>
<path d="M222.56 228.71L224.24 235.02L220.96 229.37Z" fill="#ffffff" stroke="#333333" stroke-width="0.6" stroke-linejoin="round"/>
<path d="M220.66 229.43L219.8 235.9L218.94 229.43Z" fill="#ffffff" stroke="#333333" stroke-width="0.6" stroke-linejoin="round"/>
<path d="M218.64 229.37L215.36 235.02L217.04 228.71Z" fill="#ffffff" stroke="#333333" stroke-width="0.6" stroke-linejoin="round"/>
<path d="M216.78 228.54L211.6 232.5L215.56 227.32Z" fill="#ffffff" stroke="#333333" stroke-width="0.6" stroke-linejoin="round"/>
<path d="M215.39 227.06L209.08 228.74L214.73 225.46Z" fill="#ffffff" stroke="#333333" stroke-width="0.6" stroke-linejoin="round"/>
<path d="M214.67 225.16L208.2 224.3L214.67 223.44Z" fill="#ffffff" stroke="#333333" stroke-width="0.6" stroke-linejoin="round"/>
<path d="M214.73 223.14L209.08 219.86L215.39 221.54Z" fill="#ffffff" stroke="#333333" stroke-width="0.6" stroke-linejoin="round"/>
<path d="M215.56 221.28L211.6 216.1L216.78 220.06Z" fill="#ffffff" stroke="#333333" stroke-width="0.6" stroke-linejoin="round"/>
<path d="M217.04 219.89L215.36 213.58L218.64 219.23Z" fill="#ffffff" stroke="#333333" stroke-width="0.6" stroke-linejoin="round"/>
<path d="M218.94 219.17L219.8 212.7L220.66 219.17Z" fill="#ffffff" stroke="#333333" stroke-width="0.6" stroke-linejoin="round"/>
<path d="M220.96 219.23L224.24 213.58L222.56 219.89Z" fill="#ffffff" stroke="#333333" stroke-width="0.6" stroke-linejoin="round"/>
<path d="M222.82 220.06L228 216.1L224.04 221.28Z" fill="#ffffff" stroke="#333333" stroke-width="0.6" stroke-linejoin="round"/>
<path d="M224.21 221.54L230.52 219.86L224.87 223.14Z" fill="#ffffff" stroke="#333333" stroke-width="0.6" stroke-linejoin="round"/>
<circle cx="219.8" cy="224.3" r="5.8" fill="url(#gGray)"/>
<path d="M252.73 217.04L259.2 217.9L252.73 218.76Z" fill="#ffffff" stroke="#333333" stroke-width="0.6" stroke-linejoin="round"/>
<path d="M252.67 219.06L258.32 222.34L252.01 220.66Z" fill="#ffffff" stroke="#333333" stroke-width="0.6" stroke-linejoin="round"/>
<path d="M251.84 220.92L255.8 226.1L250.62 222.14Z" fill="#ffffff" stroke="#333333" stroke-width="0.6" stroke-linejoin="round"/>
<path d="M250.36 222.31L252.04 228.62L248.76 222.97Z" fill="#ffffff" stroke="#333333" stroke-width="0.6" stroke-linejoin="round"/>
<path d="M248.46 223.03L247.6 229.5L246.74 223.03Z" fill="#ffffff" stroke="#333333" stroke-width="0.6" stroke-linejoin="round"/>
<path d="M246.44 222.97L243.16 228.62L244.84 222.31Z" fill="#ffffff" stroke="#333333" stroke-width="0.6" stroke-linejoin="round"/>
<path d="M244.58 222.14L239.4 226.1L243.36 220.92Z" fill="#ffffff" stroke="#333333" stroke-width="0.6" stroke-linejoin="round"/>
<path d="M243.19 220.66L236.88 222.34L242.53 219.06Z" fill="#ffffff" stroke="#333333" stroke-width="0.6" stroke-linejoin="round"/>
<path d="M242.47 218.76L236 217.9L242.47 217.04Z" fill="#ffffff" stroke="#333333" stroke-width="0.6" stroke-linejoin="round"/>
<path d="M242.53 216.74L236.88 213.46L243.19 215.14Z" fill="#ffffff" stroke="#333333" stroke-width="0.6" stroke-linejoin="round"/>
<path d="M243.36 214.88L239.4 209.7L244.58 213.66Z" fill="#ffffff" stroke="#333333" stroke-width="0.6" stroke-linejoin="round"/>
<path d="M244.84 213.49L243.16 207.18L246.44 212.83Z" fill="#ffffff" stroke="#333333" stroke-width="0.6" stroke-linejoin="round"/>
<path d="M246.74 212.77L247.6 206.3L248.46 212.77Z" fill="#ffffff" stroke="#333333" stroke-width="0.6" stroke-linejoin="round"/>
<path d="M248.76 212.83L252.04 207.18L250.36 213.49Z" fill="#ffffff" stroke="#333333" stroke-width="0.6" stroke-linejoin="round"/>
<path d="M250.62 213.66L255.8 209.7L251.84 214.88Z" fill="#ffffff" stroke="#333333" stroke-width="0.6" stroke-linejoin="round"/>
<path d="M252.01 215.14L258.32 213.46L252.67 216.74Z" fill="#ffffff" stroke="#333333" stroke-width="0.6" stroke-linejoin="round"/>
<circle cx="247.6" cy="217.9" r="5.8" fill="url(#gGray)"/>
<path d="M244.03 238.24L250.5 239.1L244.03 239.96Z" fill="#ffffff" stroke="#333333" stroke-width="0.6" stroke-linejoin="round"/>
<path d="M243.97 240.26L249.62 243.54L243.31 241.86Z" fill="#ffffff" stroke="#333333" stroke-width="0.6" stroke-linejoin="round"/>
<path d="M243.14 242.12L247.1 247.3L241.92 243.34Z" fill="#ffffff" stroke="#333333" stroke-width="0.6" stroke-linejoin="round"/>
<path d="M241.66 243.51L243.34 249.82L240.06 244.17Z" fill="#ffffff" stroke="#333333" stroke-width="0.6" stroke-linejoin="round"/>
<path d="M239.76 244.23L238.9 250.7L238.04 244.23Z" fill="#ffffff" stroke="#333333" stroke-width="0.6" stroke-linejoin="round"/>
<path d="M237.74 244.17L234.46 249.82L236.14 243.51Z" fill="#ffffff" stroke="#333333" stroke-width="0.6" stroke-linejoin="round"/>
<path d="M235.88 243.34L230.7 247.3L234.66 242.12Z" fill="#ffffff" stroke="#333333" stroke-width="0.6" stroke-linejoin="round"/>
<path d="M234.49 241.86L228.18 243.54L233.83 240.26Z" fill="#ffffff" stroke="#333333" stroke-width="0.6" stroke-linejoin="round"/>
<path d="M233.77 239.96L227.3 239.1L233.77 238.24Z" fill="#ffffff" stroke="#333333" stroke-width="0.6" stroke-linejoin="round"/>
<path d="M233.83 237.94L228.18 234.66L234.49 236.34Z" fill="#ffffff" stroke="#333333" stroke-width="0.6" stroke-linejoin="round"/>
<path d="M234.66 236.08L230.7 230.9L235.88 234.86Z" fill="#ffffff" stroke="#333333" stroke-width="0.6" stroke-linejoin="round"/>
<path d="M236.14 234.69L234.46 228.38L237.74 234.03Z" fill="#ffffff" stroke="#333333" stroke-width="0.6" stroke-linejoin="round"/>
<path d="M238.04 233.97L238.9 227.5L239.76 233.97Z" fill="#ffffff" stroke="#333333" stroke-width="0.6" stroke-linejoin="round"/>
<path d="M240.06 234.03L243.34 228.38L241.66 234.69Z" fill="#ffffff" stroke="#333333" stroke-width="0.6" stroke-linejoin="round"/>
<path d="M241.92 234.86L247.1 230.9L243.14 236.08Z" fill="#ffffff" stroke="#333333" stroke-width="0.6" stroke-linejoin="round"/>
<path d="M243.31 236.34L249.62 234.66L243.97 237.94Z" fill="#ffffff" stroke="#333333" stroke-width="0.6" stroke-linejoin="round"/>
<circle cx="238.9" cy="239.1" r="5.8" fill="url(#gGray)"/>
<path d="M271.83 233.94L278.3 234.8L271.83 235.66Z" fill="#ffffff" stroke="#333333" stroke-width="0.6" stroke-linejoin="round"/>
<path d="M271.77 235.96L277.42 239.24L271.11 237.56Z" fill="#ffffff" stroke="#333333" stroke-width="0.6" stroke-linejoin="round"/>
<path d="M270.94 237.82L274.9 243L269.72 239.04Z" fill="#ffffff" stroke="#333333" stroke-width="0.6" stroke-linejoin="round"/>
<path d="M269.46 239.21L271.14 245.52L267.86 239.87Z" fill="#ffffff" stroke="#333333" stroke-width="0.6" stroke-linejoin="round"/>
<path d="M267.56 239.93L266.7 246.4L265.84 239.93Z" fill="#ffffff" stroke="#333333" stroke-width="0.6" stroke-linejoin="round"/>
<path d="M265.54 239.87L262.26 245.52L263.94 239.21Z" fill="#ffffff" stroke="#333333" stroke-width="0.6" stroke-linejoin="round"/>
<path d="M263.68 239.04L258.5 243L262.46 237.82Z" fill="#ffffff" stroke="#333333" stroke-width="0.6" stroke-linejoin="round"/>
<path d="M262.29 237.56L255.98 239.24L261.63 235.96Z" fill="#ffffff" stroke="#333333" stroke-width="0.6" stroke-linejoin="round"/>
<path d="M261.57 235.66L255.1 234.8L261.57 233.94Z" fill="#ffffff" stroke="#333333" stroke-width="0.6" stroke-linejoin="round"/>
<path d="M261.63 233.64L255.98 230.36L262.29 232.04Z" fill="#ffffff" stroke="#333333" stroke-width="0.6" stroke-linejoin="round"/>
<path d="M262.46 231.78L258.5 226.6L263.68 230.56Z" fill="#ffffff" stroke="#333333" stroke-width="0.6" stroke-linejoin="round"/>
<path d="M263.94 230.39L262.26 224.08L265.54 229.73Z" fill="#ffffff" stroke="#333333" stroke-width="0.6" stroke-linejoin="round"/>
<path d="M265.84 229.67L266.7 223.2L267.56 229.67Z" fill="#ffffff" stroke="#333333" stroke-width="0.6" stroke-linejoin="round"/>
<path d="M267.86 229.73L271.14 224.08L269.46 230.39Z" fill="#ffffff" stroke="#333333" stroke-width="0.6" stroke-linejoin="round"/>
<path d="M269.72 230.56L274.9 226.6L270.94 231.78Z" fill="#ffffff" stroke="#333333" stroke-width="0.6" stroke-linejoin="round"/>
<path d="M271.11 232.04L277.42 230.36L271.77 233.64Z" fill="#ffffff" stroke="#333333" stroke-width="0.6" stroke-linejoin="round"/>
<circle cx="266.7" cy="234.8" r="5.8" fill="url(#gGray)"/>
<path d="M106.22 290.37L113 291.3L106.22 292.23Z" fill="#eeeefc" stroke="#3b3bb2" stroke-width="0.6" stroke-linejoin="round"/>
<path d="M106.16 292.55L112.06 296.01L105.45 294.27Z" fill="#eeeefc" stroke="#3b3bb2" stroke-width="0.6" stroke-linejoin="round"/>
<path d="M105.26 294.55L109.4 300L103.95 295.86Z" fill="#eeeefc" stroke="#3b3bb2" stroke-width="0.6" stroke-linejoin="round"/>
<path d="M103.67 296.05L105.41 302.66L101.95 296.76Z" fill="#eeeefc" stroke="#3b3bb2" stroke-width="0.6" stroke-linejoin="round"/>
<path d="M101.63 296.82L100.7 303.6L99.77 296.82Z" fill="#eeeefc" stroke="#3b3bb2" stroke-width="0.6" stroke-linejoin="round"/>
<path d="M99.45 296.76L95.99 302.66L97.73 296.05Z" fill="#eeeefc" stroke="#3b3bb2" stroke-width="0.6" stroke-linejoin="round"/>
<path d="M97.45 295.86L92 300L96.14 294.55Z" fill="#eeeefc" stroke="#3b3bb2" stroke-width="0.6" stroke-linejoin="round"/>
<path d="M95.95 294.27L89.34 296.01L95.24 292.55Z" fill="#eeeefc" stroke="#3b3bb2" stroke-width="0.6" stroke-linejoin="round"/>
<path d="M95.18 292.23L88.4 291.3L95.18 290.37Z" fill="#eeeefc" stroke="#3b3bb2" stroke-width="0.6" stroke-linejoin="round"/>
<path d="M95.24 290.05L89.34 286.59L95.95 288.33Z" fill="#eeeefc" stroke="#3b3bb2" stroke-width="0.6" stroke-linejoin="round"/>
<path d="M96.14 288.05L92 282.6L97.45 286.74Z" fill="#eeeefc" stroke="#3b3bb2" stroke-width="0.6" stroke-linejoin="round"/>
<path d="M97.73 286.55L95.99 279.94L99.45 285.84Z" fill="#eeeefc" stroke="#3b3bb2" stroke-width="0.6" stroke-linejoin="round"/>
<path d="M99.77 285.78L100.7 279L101.63 285.78Z" fill="#eeeefc" stroke="#3b3bb2" stroke-width="0.6" stroke-linejoin="round"/>
<path d="M101.95 285.84L105.41 279.94L103.67 286.55Z" fill="#eeeefc" stroke="#3b3bb2" stroke-width="0.6" stroke-linejoin="round"/>
<path d="M103.95 286.74L109.4 282.6L105.26 288.05Z" fill="#eeeefc" stroke="#3b3bb2" stroke-width="0.6" stroke-linejoin="round"/>
<path d="M105.45 288.33L112.06 286.59L106.16 290.05Z" fill="#eeeefc" stroke="#3b3bb2" stroke-width="0.6" stroke-linejoin="round"/>
<circle cx="100.7" cy="291.3" r="6.2" fill="url(#gPur)"/>
<path d="M89.82 311.27L96.6 312.2L89.82 313.13Z" fill="#eeeefc" stroke="#3b3bb2" stroke-width="0.6" stroke-linejoin="round"/>
<path d="M89.76 313.45L95.66 316.91L89.05 315.17Z" fill="#eeeefc" stroke="#3b3bb2" stroke-width="0.6" stroke-linejoin="round"/>
<path d="M88.86 315.45L93 320.9L87.55 316.76Z" fill="#eeeefc" stroke="#3b3bb2" stroke-width="0.6" stroke-linejoin="round"/>
<path d="M87.27 316.95L89.01 323.56L85.55 317.66Z" fill="#eeeefc" stroke="#3b3bb2" stroke-width="0.6" stroke-linejoin="round"/>
<path d="M85.23 317.72L84.3 324.5L83.37 317.72Z" fill="#eeeefc" stroke="#3b3bb2" stroke-width="0.6" stroke-linejoin="round"/>
<path d="M83.05 317.66L79.59 323.56L81.33 316.95Z" fill="#eeeefc" stroke="#3b3bb2" stroke-width="0.6" stroke-linejoin="round"/>
<path d="M81.05 316.76L75.6 320.9L79.74 315.45Z" fill="#eeeefc" stroke="#3b3bb2" stroke-width="0.6" stroke-linejoin="round"/>
<path d="M79.55 315.17L72.94 316.91L78.84 313.45Z" fill="#eeeefc" stroke="#3b3bb2" stroke-width="0.6" stroke-linejoin="round"/>
<path d="M78.78 313.13L72 312.2L78.78 311.27Z" fill="#eeeefc" stroke="#3b3bb2" stroke-width="0.6" stroke-linejoin="round"/>
<path d="M78.84 310.95L72.94 307.49L79.55 309.23Z" fill="#eeeefc" stroke="#3b3bb2" stroke-width="0.6" stroke-linejoin="round"/>
<path d="M79.74 308.95L75.6 303.5L81.05 307.64Z" fill="#eeeefc" stroke="#3b3bb2" stroke-width="0.6" stroke-linejoin="round"/>
<path d="M81.33 307.45L79.59 300.84L83.05 306.74Z" fill="#eeeefc" stroke="#3b3bb2" stroke-width="0.6" stroke-linejoin="round"/>
<path d="M83.37 306.68L84.3 299.9L85.23 306.68Z" fill="#eeeefc" stroke="#3b3bb2" stroke-width="0.6" stroke-linejoin="round"/>
<path d="M85.55 306.74L89.01 300.84L87.27 307.45Z" fill="#eeeefc" stroke="#3b3bb2" stroke-width="0.6" stroke-linejoin="round"/>
<path d="M87.55 307.64L93 303.5L88.86 308.95Z" fill="#eeeefc" stroke="#3b3bb2" stroke-width="0.6" stroke-linejoin="round"/>
<path d="M89.05 309.23L95.66 307.49L89.76 310.95Z" fill="#eeeefc" stroke="#3b3bb2" stroke-width="0.6" stroke-linejoin="round"/>
<circle cx="84.3" cy="312.2" r="6.2" fill="url(#gPur)"/>
<path d="M127.62 306.67L134.4 307.6L127.62 308.53Z" fill="#eeeefc" stroke="#3b3bb2" stroke-width="0.6" stroke-linejoin="round"/>
<path d="M127.56 308.85L133.46 312.31L126.85 310.57Z" fill="#eeeefc" stroke="#3b3bb2" stroke-width="0.6" stroke-linejoin="round"/>
<path d="M126.66 310.85L130.8 316.3L125.35 312.16Z" fill="#eeeefc" stroke="#3b3bb2" stroke-width="0.6" stroke-linejoin="round"/>
<path d="M125.07 312.35L126.81 318.96L123.35 313.06Z" fill="#eeeefc" stroke="#3b3bb2" stroke-width="0.6" stroke-linejoin="round"/>
<path d="M123.03 313.12L122.1 319.9L121.17 313.12Z" fill="#eeeefc" stroke="#3b3bb2" stroke-width="0.6" stroke-linejoin="round"/>
<path d="M120.85 313.06L117.39 318.96L119.13 312.35Z" fill="#eeeefc" stroke="#3b3bb2" stroke-width="0.6" stroke-linejoin="round"/>
<path d="M118.85 312.16L113.4 316.3L117.54 310.85Z" fill="#eeeefc" stroke="#3b3bb2" stroke-width="0.6" stroke-linejoin="round"/>
<path d="M117.35 310.57L110.74 312.31L116.64 308.85Z" fill="#eeeefc" stroke="#3b3bb2" stroke-width="0.6" stroke-linejoin="round"/>
<path d="M116.58 308.53L109.8 307.6L116.58 306.67Z" fill="#eeeefc" stroke="#3b3bb2" stroke-width="0.6" stroke-linejoin="round"/>
<path d="M116.64 306.35L110.74 302.89L117.35 304.63Z" fill="#eeeefc" stroke="#3b3bb2" stroke-width="0.6" stroke-linejoin="round"/>
<path d="M117.54 304.35L113.4 298.9L118.85 303.04Z" fill="#eeeefc" stroke="#3b3bb2" stroke-width="0.6" stroke-linejoin="round"/>
<path d="M119.13 302.85L117.39 296.24L120.85 302.14Z" fill="#eeeefc" stroke="#3b3bb2" stroke-width="0.6" stroke-linejoin="round"/>
<path d="M121.17 302.08L122.1 295.3L123.03 302.08Z" fill="#eeeefc" stroke="#3b3bb2" stroke-width="0.6" stroke-linejoin="round"/>
<path d="M123.35 302.14L126.81 296.24L125.07 302.85Z" fill="#eeeefc" stroke="#3b3bb2" stroke-width="0.6" stroke-linejoin="round"/>
<path d="M125.35 303.04L130.8 298.9L126.66 304.35Z" fill="#eeeefc" stroke="#3b3bb2" stroke-width="0.6" stroke-linejoin="round"/>
<path d="M126.85 304.63L133.46 302.89L127.56 306.35Z" fill="#eeeefc" stroke="#3b3bb2" stroke-width="0.6" stroke-linejoin="round"/>
<circle cx="122.1" cy="307.6" r="6.2" fill="url(#gPur)"/>
<defs><linearGradient id="gHel" x1="0" y1="0" x2="1" y2="0"><stop offset="0" stop-color="#38c8dc"/><stop offset="0.6" stop-color="#2aa9cf"/><stop offset="1" stop-color="#2459b4"/></linearGradient></defs>
<path d="M149.4 293.3 L151.6 296.3" stroke="#b3b45a" stroke-width="1" fill="none" stroke-linejoin="round" stroke-linecap="round"/>
<path d="M151.6 296.3 L155.5 295.8 L159.4 294.1" stroke="#3552c4" stroke-width="1" fill="none" stroke-linejoin="round" stroke-linecap="round"/>
<path d="M159.4 294.1 L160.8 296.8 L162.1 299" stroke="#3552c4" stroke-width="1" fill="none" stroke-linejoin="round" stroke-linecap="round"/>
<path d="M151.6 296.3 L152.6 300 L154.6 303.8" stroke="#3552c4" stroke-width="1" fill="none" stroke-linejoin="round" stroke-linecap="round"/>
<path d="M162.1 299 L167.8 295.5 L168.6 299.4 L165.1 300.6Z" fill="#d28d1c"/>
<path d="M167.6 295 L170.6 294.4 L174.2 302.2 L173 305 L170 303.6 L168.6 299.4Z" fill="url(#gHel)"/>
<path d="M173 304 L175.6 301.1" stroke="#58b43c" stroke-width="1" fill="none" stroke-linejoin="round" stroke-linecap="round"/>
<path d="M175.6 301.1 L179.2 300.7 L180.9 304.2 L183.5 303.8 L187.9 303.3" stroke="#3552c4" stroke-width="1" fill="none" stroke-linejoin="round" stroke-linecap="round"/>
<path d="M154.6 303.8 L152.9 306.8 L152.2 308.5" stroke="#3552c4" stroke-width="1" fill="none" stroke-linejoin="round" stroke-linecap="round"/>
<path d="M152 308.1 L155.1 311 L158.3 313 L152.4 313.6Z" fill="#d28d1c"/>
<path d="M150 315 L158.3 312.2 L159.2 316.2 L151.6 318.9Z" fill="url(#gHel)"/>
<path d="M153 319 L154.5 320.8" stroke="#58b43c" stroke-width="1" fill="none" stroke-linejoin="round" stroke-linecap="round"/>
<path d="M154.5 320.8 L158.1 323 L157.3 326.5 L155.5 328.3" stroke="#3552c4" stroke-width="1" fill="none" stroke-linejoin="round" stroke-linecap="round"/>
<path d="M155.5 328.3 L157.5 330.5 L159.9 332.7" stroke="#b3b45a" stroke-width="1" fill="none" stroke-linejoin="round" stroke-linecap="round"/>
<path d="M158.9 331.8 L160.2 333" stroke="#2fb9d2" stroke-width="1.2" fill="none" stroke-linejoin="round" stroke-linecap="round"/>
<path d="M170.4 332.2 L173 328" stroke="#b3b45a" stroke-width="1" fill="none" stroke-linejoin="round" stroke-linecap="round"/>
<path d="M173 328 L175.6 324.8 L180 323.9" stroke="#3552c4" stroke-width="1" fill="none" stroke-linejoin="round" stroke-linecap="round"/>
<path d="M180.9 316.6 L184.4 317.6 L183.6 324 L181 323Z" fill="#d28d1c"/>
<path d="M182.4 314.8 L188.8 316.6 L191.2 320.6 L184.6 319.6Z" fill="url(#gHel)"/>
<path d="M190.8 319 L191.4 316.6" stroke="#58b43c" stroke-width="1" fill="none" stroke-linejoin="round" stroke-linecap="round"/>
<path d="M191.4 316.6 L190.5 311.6 L194 311.2 L197.5 309.9" stroke="#3552c4" stroke-width="1" fill="none" stroke-linejoin="round" stroke-linecap="round"/>
<path d="M197.5 309.9 L198.4 305.1 L199.2 303.5" stroke="#2fb9d2" stroke-width="1" fill="none" stroke-linejoin="round" stroke-linecap="round"/>
<ellipse cx="200.6" cy="316.9" rx="2.5" ry="4.5" fill="url(#gDrop)" transform="rotate(8 200.6 316.9)"/>
<path d="M286.2 75.5V193.7" stroke="#1c1718" stroke-width="1.45"/><path d="M282.9 192.7L289.5 192.7L286.2 201.5Z" fill="#1c1718"/>
<g transform="translate(298.6 154.0) rotate(-90)"><text x="-1.05" y="0" font-size="11.2" textLength="45.37" lengthAdjust="spacingAndGlyphs" fill="#231f20" >Ion influx</text></g>
<path d="M287.2 272V336" stroke="#1c1718" stroke-width="1.45"/><path d="M283.9 335L290.5 335L287.2 343.8Z" fill="#1c1718"/>
<g transform="translate(298.4 329.8) rotate(-90)"><text x="-1.04" y="0" font-size="11.2" textLength="44.96" lengthAdjust="spacingAndGlyphs" fill="#231f20" >Ion influx</text></g>
<text x="315.6" y="19" font-size="26" font-weight="bold">b</text>
<text x="316.2" y="177" font-size="26" font-weight="bold">c</text>
<text x="15.2" y="376.7" font-size="26" font-weight="bold">d</text>
<text x="329.2" y="376.9" font-size="26" font-weight="bold">e</text>
<path d="M380.8 18.2V148.8" stroke="#000" stroke-width="1.8" fill="none"/>
<path d="M375.3 148.8H577.3" stroke="#000" stroke-width="1.8" fill="none"/>
<path d="M375.3 148.8H380.8" stroke="#000" stroke-width="1.8"/>
<path d="M375.3 122.8H380.8" stroke="#000" stroke-width="1.8"/>
<path d="M375.3 96.8H380.8" stroke="#000" stroke-width="1.8"/>
<path d="M375.3 70.8H380.8" stroke="#000" stroke-width="1.8"/>
<path d="M375.3 44.8H380.8" stroke="#000" stroke-width="1.8"/>
<path d="M375.3 18.8H380.8" stroke="#000" stroke-width="1.8"/>
<path d="M380.8 148.8V154.3" stroke="#000" stroke-width="1.8"/>
<path d="M429.7 148.8V154.3" stroke="#000" stroke-width="1.8"/>
<path d="M478.6 148.8V154.3" stroke="#000" stroke-width="1.8"/>
<path d="M527.5 148.8V154.3" stroke="#000" stroke-width="1.8"/>
<path d="M576.4 148.8V154.3" stroke="#000" stroke-width="1.8"/>
<text x="372.9" y="128.8" font-size="11.5" text-anchor="end" font-weight="normal" fill="#000" >200</text>
<text x="372.9" y="102.8" font-size="11.5" text-anchor="end" font-weight="normal" fill="#000" >400</text>
<text x="372.9" y="76.8" font-size="11.5" text-anchor="end" font-weight="normal" fill="#000" >600</text>
<text x="372.9" y="50.8" font-size="11.5" text-anchor="end" font-weight="normal" fill="#000" >800</text>
<text x="374.2" y="24.8" font-size="11.5" text-anchor="end" font-weight="normal" fill="#000" >1000</text>
<text x="370.8" y="154.4" font-size="11.5" text-anchor="end" font-weight="normal" fill="#000" >0</text>
<text x="380.8" y="165.2" font-size="11.5" text-anchor="middle" font-weight="normal" fill="#000" >0</text>
<text x="429.7" y="165.2" font-size="11.5" text-anchor="middle" font-weight="normal" fill="#000" >5</text>
<text x="478.6" y="165.2" font-size="11.5" text-anchor="middle" font-weight="normal" fill="#000" >10</text>
<text x="527.5" y="165.2" font-size="11.5" text-anchor="middle" font-weight="normal" fill="#000" >15</text>
<text x="576.4" y="165.2" font-size="11.5" text-anchor="middle" font-weight="normal" fill="#000" >20</text>
<text x="456.12" y="176.6" font-size="12.3" textLength="59.55" lengthAdjust="spacingAndGlyphs" fill="#000" >Time (min)</text>
<text x="0" y="0" font-size="12.2" transform="translate(342.8 149.4) rotate(-90)">DiSC<tspan font-size="9" dy="3.2">3</tspan><tspan dy="-3.2">(5) fluorenscence</tspan></text>
<path d="M390.58 119.9V130.18M387.78 119.9H393.38M387.78 130.18H393.38" stroke="#2DB04F" stroke-width="1.9" fill="none"/>
<path d="M400.36 118.62V128.89M397.56 118.62H403.16M397.56 128.89H403.16" stroke="#2DB04F" stroke-width="1.9" fill="none"/>
<path d="M410.14 118.62V128.89M407.34 118.62H412.94M407.34 128.89H412.94" stroke="#2DB04F" stroke-width="1.9" fill="none"/>
<path d="M419.92 118.62V128.89M417.12 118.62H422.72M417.12 128.89H422.72" stroke="#2DB04F" stroke-width="1.9" fill="none"/>
<path d="M429.7 118.62V128.89M426.9 118.62H432.5M426.9 128.89H432.5" stroke="#2DB04F" stroke-width="1.9" fill="none"/>
<path d="M439.48 118.87V129.15M436.68 118.87H442.28M436.68 129.15H442.28" stroke="#2DB04F" stroke-width="1.9" fill="none"/>
<path d="M449.26 118.87V129.15M446.46 118.87H452.06M446.46 129.15H452.06" stroke="#2DB04F" stroke-width="1.9" fill="none"/>
<path d="M459.04 118.62V128.89M456.24 118.62H461.84M456.24 128.89H461.84" stroke="#2DB04F" stroke-width="1.9" fill="none"/>
<path d="M468.82 118.87V129.15M466.02 118.87H471.62M466.02 129.15H471.62" stroke="#2DB04F" stroke-width="1.9" fill="none"/>
<path d="M478.6 118.62V128.89M475.8 118.62H481.4M475.8 128.89H481.4" stroke="#2DB04F" stroke-width="1.9" fill="none"/>
<path d="M488.38 118.87V129.15M485.58 118.87H491.18M485.58 129.15H491.18" stroke="#2DB04F" stroke-width="1.9" fill="none"/>
<path d="M498.16 118.87V129.15M495.36 118.87H500.96M495.36 129.15H500.96" stroke="#2DB04F" stroke-width="1.9" fill="none"/>
<path d="M507.94 118.62V128.89M505.14 118.62H510.74M505.14 128.89H510.74" stroke="#2DB04F" stroke-width="1.9" fill="none"/>
<path d="M517.72 118.87V129.15M514.92 118.87H520.52M514.92 129.15H520.52" stroke="#2DB04F" stroke-width="1.9" fill="none"/>
<path d="M527.5 118.87V129.15M524.7 118.87H530.3M524.7 129.15H530.3" stroke="#2DB04F" stroke-width="1.9" fill="none"/>
<path d="M537.28 118.87V129.15M534.48 118.87H540.08M534.48 129.15H540.08" stroke="#2DB04F" stroke-width="1.9" fill="none"/>
<path d="M547.06 119.26V129.53M544.26 119.26H549.86M544.26 129.53H549.86" stroke="#2DB04F" stroke-width="1.9" fill="none"/>
<path d="M556.84 118.87V129.15M554.04 118.87H559.64M554.04 129.15H559.64" stroke="#2DB04F" stroke-width="1.9" fill="none"/>
<path d="M566.62 118.87V129.15M563.82 118.87H569.42M563.82 129.15H569.42" stroke="#2DB04F" stroke-width="1.9" fill="none"/>
<path d="M576.4 118.87V129.15M573.6 118.87H579.2M573.6 129.15H579.2" stroke="#2DB04F" stroke-width="1.9" fill="none"/>
<path d="M380.8 148.8 L390.58 125.04 L400.36 123.75 L410.14 123.75 L419.92 123.75 L429.7 123.75 L439.48 124.01 L449.26 124.01 L459.04 123.75 L468.82 124.01 L478.6 123.75 L488.38 124.01 L498.16 124.01 L507.94 123.75 L517.72 124.01 L527.5 124.01 L537.28 124.01 L547.06 124.4 L556.84 124.01 L566.62 124.01 L576.4 124.01" stroke="#2DB04F" stroke-width="2.1" fill="none" stroke-linejoin="round"/>
<circle cx="380.8" cy="148.8" r="2.4" fill="#2DB04F"/>
<circle cx="390.58" cy="125.04" r="2.4" fill="#2DB04F"/>
<circle cx="400.36" cy="123.75" r="2.4" fill="#2DB04F"/>
<circle cx="410.14" cy="123.75" r="2.4" fill="#2DB04F"/>
<circle cx="419.92" cy="123.75" r="2.4" fill="#2DB04F"/>
<circle cx="429.7" cy="123.75" r="2.4" fill="#2DB04F"/>
<circle cx="439.48" cy="124.01" r="2.4" fill="#2DB04F"/>
<circle cx="449.26" cy="124.01" r="2.4" fill="#2DB04F"/>
<circle cx="459.04" cy="123.75" r="2.4" fill="#2DB04F"/>
<circle cx="468.82" cy="124.01" r="2.4" fill="#2DB04F"/>
<circle cx="478.6" cy="123.75" r="2.4" fill="#2DB04F"/>
<circle cx="488.38" cy="124.01" r="2.4" fill="#2DB04F"/>
<circle cx="498.16" cy="124.01" r="2.4" fill="#2DB04F"/>
<circle cx="507.94" cy="123.75" r="2.4" fill="#2DB04F"/>
<circle cx="517.72" cy="124.01" r="2.4" fill="#2DB04F"/>
<circle cx="527.5" cy="124.01" r="2.4" fill="#2DB04F"/>
<circle cx="537.28" cy="124.01" r="2.4" fill="#2DB04F"/>
<circle cx="547.06" cy="124.4" r="2.4" fill="#2DB04F"/>
<circle cx="556.84" cy="124.01" r="2.4" fill="#2DB04F"/>
<circle cx="566.62" cy="124.01" r="2.4" fill="#2DB04F"/>
<circle cx="576.4" cy="124.01" r="2.4" fill="#2DB04F"/>
<path d="M390.58 80.08V131.46M387.78 80.08H393.38M387.78 131.46H393.38" stroke="#7191D4" stroke-width="1.9" fill="none"/>
<path d="M400.36 78.41V129.79M397.56 78.41H403.16M397.56 129.79H403.16" stroke="#7191D4" stroke-width="1.9" fill="none"/>
<path d="M410.14 77.52V128.89M407.34 77.52H412.94M407.34 128.89H412.94" stroke="#7191D4" stroke-width="1.9" fill="none"/>
<path d="M419.92 77.13V128.51M417.12 77.13H422.72M417.12 128.51H422.72" stroke="#7191D4" stroke-width="1.9" fill="none"/>
<path d="M429.7 76.87V128.25M426.9 76.87H432.5M426.9 128.25H432.5" stroke="#7191D4" stroke-width="1.9" fill="none"/>
<path d="M439.48 76.87V128.25M436.68 76.87H442.28M436.68 128.25H442.28" stroke="#7191D4" stroke-width="1.9" fill="none"/>
<path d="M449.26 76.87V128.25M446.46 76.87H452.06M446.46 128.25H452.06" stroke="#7191D4" stroke-width="1.9" fill="none"/>
<path d="M459.04 76.62V127.99M456.24 76.62H461.84M456.24 127.99H461.84" stroke="#7191D4" stroke-width="1.9" fill="none"/>
<path d="M468.82 76.87V128.25M466.02 76.87H471.62M466.02 128.25H471.62" stroke="#7191D4" stroke-width="1.9" fill="none"/>
<path d="M478.6 76.87V128.25M475.8 76.87H481.4M475.8 128.25H481.4" stroke="#7191D4" stroke-width="1.9" fill="none"/>
<path d="M488.38 76.62V127.99M485.58 76.62H491.18M485.58 127.99H491.18" stroke="#7191D4" stroke-width="1.9" fill="none"/>
<path d="M498.16 76.87V128.25M495.36 76.87H500.96M495.36 128.25H500.96" stroke="#7191D4" stroke-width="1.9" fill="none"/>
<path d="M507.94 76.62V127.99M505.14 76.62H510.74M505.14 127.99H510.74" stroke="#7191D4" stroke-width="1.9" fill="none"/>
<path d="M517.72 76.87V128.25M514.92 76.87H520.52M514.92 128.25H520.52" stroke="#7191D4" stroke-width="1.9" fill="none"/>
<path d="M527.5 76.62V127.99M524.7 76.62H530.3M524.7 127.99H530.3" stroke="#7191D4" stroke-width="1.9" fill="none"/>
<path d="M537.28 76.87V128.25M534.48 76.87H540.08M534.48 128.25H540.08" stroke="#7191D4" stroke-width="1.9" fill="none"/>
<path d="M547.06 76.23V127.61M544.26 76.23H549.86M544.26 127.61H549.86" stroke="#7191D4" stroke-width="1.9" fill="none"/>
<path d="M556.84 76.62V127.99M554.04 76.62H559.64M554.04 127.99H559.64" stroke="#7191D4" stroke-width="1.9" fill="none"/>
<path d="M566.62 76.23V127.61M563.82 76.23H569.42M563.82 127.61H569.42" stroke="#7191D4" stroke-width="1.9" fill="none"/>
<path d="M576.4 76.23V127.61M573.6 76.23H579.2M573.6 127.61H579.2" stroke="#7191D4" stroke-width="1.9" fill="none"/>
<path d="M380.8 148.8 L390.58 105.77 L400.36 104.1 L410.14 103.2 L419.92 102.82 L429.7 102.56 L439.48 102.56 L449.26 102.56 L459.04 102.3 L468.82 102.56 L478.6 102.56 L488.38 102.3 L498.16 102.56 L507.94 102.3 L517.72 102.56 L527.5 102.3 L537.28 102.56 L547.06 101.92 L556.84 102.3 L566.62 101.92 L576.4 101.92" stroke="#7191D4" stroke-width="2.1" fill="none" stroke-linejoin="round"/>
<path d="M380.8 151.56L383.44 147L378.16 147Z" fill="#7191D4"/>
<path d="M390.58 108.53L393.22 103.97L387.94 103.97Z" fill="#7191D4"/>
<path d="M400.36 106.86L403 102.3L397.72 102.3Z" fill="#7191D4"/>
<path d="M410.14 105.96L412.78 101.4L407.5 101.4Z" fill="#7191D4"/>
<path d="M419.92 105.58L422.56 101.02L417.28 101.02Z" fill="#7191D4"/>
<path d="M429.7 105.32L432.34 100.76L427.06 100.76Z" fill="#7191D4"/>
<path d="M439.48 105.32L442.12 100.76L436.84 100.76Z" fill="#7191D4"/>
<path d="M449.26 105.32L451.9 100.76L446.62 100.76Z" fill="#7191D4"/>
<path d="M459.04 105.06L461.68 100.5L456.4 100.5Z" fill="#7191D4"/>
<path d="M468.82 105.32L471.46 100.76L466.18 100.76Z" fill="#7191D4"/>
<path d="M478.6 105.32L481.24 100.76L475.96 100.76Z" fill="#7191D4"/>
<path d="M488.38 105.06L491.02 100.5L485.74 100.5Z" fill="#7191D4"/>
<path d="M498.16 105.32L500.8 100.76L495.52 100.76Z" fill="#7191D4"/>
<path d="M507.94 105.06L510.58 100.5L505.3 100.5Z" fill="#7191D4"/>
<path d="M517.72 105.32L520.36 100.76L515.08 100.76Z" fill="#7191D4"/>
<path d="M527.5 105.06L530.14 100.5L524.86 100.5Z" fill="#7191D4"/>
<path d="M537.28 105.32L539.92 100.76L534.64 100.76Z" fill="#7191D4"/>
<path d="M547.06 104.68L549.7 100.12L544.42 100.12Z" fill="#7191D4"/>
<path d="M556.84 105.06L559.48 100.5L554.2 100.5Z" fill="#7191D4"/>
<path d="M566.62 104.68L569.26 100.12L563.98 100.12Z" fill="#7191D4"/>
<path d="M576.4 104.68L579.04 100.12L573.76 100.12Z" fill="#7191D4"/>
<path d="M390.58 46.43V97.81M387.78 46.43H393.38M387.78 97.81H393.38" stroke="#22BFCB" stroke-width="1.9" fill="none"/>
<path d="M400.36 54.14V77.26M397.56 54.14H403.16M397.56 77.26H403.16" stroke="#22BFCB" stroke-width="1.9" fill="none"/>
<path d="M410.14 41.42V79.44M407.34 41.42H412.94M407.34 79.44H412.94" stroke="#22BFCB" stroke-width="1.9" fill="none"/>
<path d="M419.92 31.02V81.88M417.12 31.02H422.72M417.12 81.88H422.72" stroke="#22BFCB" stroke-width="1.9" fill="none"/>
<path d="M429.7 26.65V79.57M426.9 26.65H432.5M426.9 79.57H432.5" stroke="#22BFCB" stroke-width="1.9" fill="none"/>
<path d="M439.48 23.96V74.56M436.68 23.96H442.28M436.68 74.56H442.28" stroke="#22BFCB" stroke-width="1.9" fill="none"/>
<path d="M449.26 21.9V70.19M446.46 21.9H452.06M446.46 70.19H452.06" stroke="#22BFCB" stroke-width="1.9" fill="none"/>
<path d="M459.04 21.26V66.98M456.24 21.26H461.84M456.24 66.98H461.84" stroke="#22BFCB" stroke-width="1.9" fill="none"/>
<path d="M468.82 28.58V72.76M466.02 28.58H471.62M466.02 72.76H471.62" stroke="#22BFCB" stroke-width="1.9" fill="none"/>
<path d="M478.6 35.77V70.45M475.8 35.77H481.4M475.8 70.45H481.4" stroke="#22BFCB" stroke-width="1.9" fill="none"/>
<path d="M488.38 36.67V69.55M485.58 36.67H491.18M485.58 69.55H491.18" stroke="#22BFCB" stroke-width="1.9" fill="none"/>
<path d="M498.16 30.89V74.56M495.36 30.89H500.96M495.36 74.56H500.96" stroke="#22BFCB" stroke-width="1.9" fill="none"/>
<path d="M507.94 24.21V74.82M505.14 24.21H510.74M505.14 74.82H510.74" stroke="#22BFCB" stroke-width="1.9" fill="none"/>
<path d="M517.72 26.01V77.64M514.92 26.01H520.52M514.92 77.64H520.52" stroke="#22BFCB" stroke-width="1.9" fill="none"/>
<path d="M527.5 23.19V81.5M524.7 23.19H530.3M524.7 81.5H530.3" stroke="#22BFCB" stroke-width="1.9" fill="none"/>
<path d="M537.28 24.21V82.78M534.48 24.21H540.08M534.48 82.78H540.08" stroke="#22BFCB" stroke-width="1.9" fill="none"/>
<path d="M547.06 31.79V79.06M544.26 31.79H549.86M544.26 79.06H549.86" stroke="#22BFCB" stroke-width="1.9" fill="none"/>
<path d="M556.84 34.36V77.77M554.04 34.36H559.64M554.04 77.77H559.64" stroke="#22BFCB" stroke-width="1.9" fill="none"/>
<path d="M566.62 33.08V79.06M563.82 33.08H569.42M563.82 79.06H569.42" stroke="#22BFCB" stroke-width="1.9" fill="none"/>
<path d="M576.4 31.79V81.63M573.6 31.79H579.2M573.6 81.63H579.2" stroke="#22BFCB" stroke-width="1.9" fill="none"/>
<path d="M380.8 148.8 L390.58 72.12 L400.36 65.7 L410.14 60.43 L419.92 56.45 L429.7 53.11 L439.48 49.26 L449.26 46.05 L459.04 44.12 L468.82 50.67 L478.6 53.11 L488.38 53.11 L498.16 52.73 L507.94 49.52 L517.72 51.83 L527.5 52.34 L537.28 53.5 L547.06 55.42 L556.84 56.07 L566.62 56.07 L576.4 56.71" stroke="#22BFCB" stroke-width="2.1" fill="none" stroke-linejoin="round"/>
<path d="M380.8 146.04L383.44 150.6L378.16 150.6Z" fill="#22BFCB"/>
<path d="M390.58 69.36L393.22 73.92L387.94 73.92Z" fill="#22BFCB"/>
<path d="M400.36 62.94L403 67.5L397.72 67.5Z" fill="#22BFCB"/>
<path d="M410.14 57.67L412.78 62.23L407.5 62.23Z" fill="#22BFCB"/>
<path d="M419.92 53.69L422.56 58.25L417.28 58.25Z" fill="#22BFCB"/>
<path d="M429.7 50.35L432.34 54.91L427.06 54.91Z" fill="#22BFCB"/>
<path d="M439.48 46.5L442.12 51.06L436.84 51.06Z" fill="#22BFCB"/>
<path d="M449.26 43.29L451.9 47.85L446.62 47.85Z" fill="#22BFCB"/>
<path d="M459.04 41.36L461.68 45.92L456.4 45.92Z" fill="#22BFCB"/>
<path d="M468.82 47.91L471.46 52.47L466.18 52.47Z" fill="#22BFCB"/>
<path d="M478.6 50.35L481.24 54.91L475.96 54.91Z" fill="#22BFCB"/>
<path d="M488.38 50.35L491.02 54.91L485.74 54.91Z" fill="#22BFCB"/>
<path d="M498.16 49.97L500.8 54.53L495.52 54.53Z" fill="#22BFCB"/>
<path d="M507.94 46.76L510.58 51.32L505.3 51.32Z" fill="#22BFCB"/>
<path d="M517.72 49.07L520.36 53.63L515.08 53.63Z" fill="#22BFCB"/>
<path d="M527.5 49.58L530.14 54.14L524.86 54.14Z" fill="#22BFCB"/>
<path d="M537.28 50.74L539.92 55.3L534.64 55.3Z" fill="#22BFCB"/>
<path d="M547.06 52.66L549.7 57.22L544.42 57.22Z" fill="#22BFCB"/>
<path d="M556.84 53.31L559.48 57.87L554.2 57.87Z" fill="#22BFCB"/>
<path d="M566.62 53.31L569.26 57.87L563.98 57.87Z" fill="#22BFCB"/>
<path d="M576.4 53.95L579.04 58.51L573.76 58.51Z" fill="#22BFCB"/>
<path d="M390.58 48.49V94.73M387.78 48.49H393.38M387.78 94.73H393.38" stroke="#B49733" stroke-width="1.9" fill="none"/>
<path d="M400.36 35.13V88.82M397.56 35.13H403.16M397.56 88.82H403.16" stroke="#B49733" stroke-width="1.9" fill="none"/>
<path d="M410.14 36.67V89.85M407.34 36.67H412.94M407.34 89.85H412.94" stroke="#B49733" stroke-width="1.9" fill="none"/>
<path d="M419.92 39.75V88.05M417.12 39.75H422.72M417.12 88.05H422.72" stroke="#B49733" stroke-width="1.9" fill="none"/>
<path d="M429.7 42.07V85.74M426.9 42.07H432.5M426.9 85.74H432.5" stroke="#B49733" stroke-width="1.9" fill="none"/>
<path d="M439.48 53.75V82.78M436.68 53.75H442.28M436.68 82.78H442.28" stroke="#B49733" stroke-width="1.9" fill="none"/>
<path d="M449.26 63.26V79.96M446.46 63.26H452.06M446.46 79.96H452.06" stroke="#B49733" stroke-width="1.9" fill="none"/>
<path d="M459.04 68.53V81.88M456.24 68.53H461.84M456.24 81.88H461.84" stroke="#B49733" stroke-width="1.9" fill="none"/>
<path d="M468.82 69.55V80.86M466.02 69.55H471.62M466.02 80.86H471.62" stroke="#B49733" stroke-width="1.9" fill="none"/>
<path d="M478.6 55.17V80.08M475.8 55.17H481.4M475.8 80.08H481.4" stroke="#B49733" stroke-width="1.9" fill="none"/>
<path d="M488.38 48.75V79.06M485.58 48.75H491.18M485.58 79.06H491.18" stroke="#B49733" stroke-width="1.9" fill="none"/>
<path d="M498.16 45.53V81.24M495.36 45.53H500.96M495.36 81.24H500.96" stroke="#B49733" stroke-width="1.9" fill="none"/>
<path d="M507.94 54.14V79.06M505.14 54.14H510.74M505.14 79.06H510.74" stroke="#B49733" stroke-width="1.9" fill="none"/>
<path d="M517.72 48.23V79.57M514.92 48.23H520.52M514.92 79.57H520.52" stroke="#B49733" stroke-width="1.9" fill="none"/>
<path d="M527.5 66.6V83.55M524.7 66.6H530.3M524.7 83.55H530.3" stroke="#B49733" stroke-width="1.9" fill="none"/>
<path d="M537.28 65.83V85.61M534.48 65.83H540.08M534.48 85.61H540.08" stroke="#B49733" stroke-width="1.9" fill="none"/>
<path d="M547.06 46.05V79.44M544.26 46.05H549.86M544.26 79.44H549.86" stroke="#B49733" stroke-width="1.9" fill="none"/>
<path d="M556.84 28.07V80.73M554.04 28.07H559.64M554.04 80.73H559.64" stroke="#B49733" stroke-width="1.9" fill="none"/>
<path d="M566.62 49.13V84.07M563.82 49.13H569.42M563.82 84.07H569.42" stroke="#B49733" stroke-width="1.9" fill="none"/>
<path d="M576.4 36.67V81.11M573.6 36.67H579.2M573.6 81.11H579.2" stroke="#B49733" stroke-width="1.9" fill="none"/>
<path d="M380.8 148.8 L390.58 71.61 L400.36 61.97 L410.14 63.26 L419.92 63.9 L429.7 63.9 L439.48 68.27 L449.26 71.61 L459.04 75.2 L468.82 75.2 L478.6 67.63 L488.38 63.9 L498.16 63.39 L507.94 66.6 L517.72 63.9 L527.5 75.08 L537.28 75.72 L547.06 62.75 L556.84 54.4 L566.62 66.6 L576.4 58.89" stroke="#B49733" stroke-width="2.1" fill="none" stroke-linejoin="round"/>
<rect x="378.1" y="146.1" width="5.4" height="5.4" fill="#B49733"/>
<rect x="387.88" y="68.91" width="5.4" height="5.4" fill="#B49733"/>
<rect x="397.66" y="59.27" width="5.4" height="5.4" fill="#B49733"/>
<rect x="407.44" y="60.56" width="5.4" height="5.4" fill="#B49733"/>
<rect x="417.22" y="61.2" width="5.4" height="5.4" fill="#B49733"/>
<rect x="427" y="61.2" width="5.4" height="5.4" fill="#B49733"/>
<rect x="436.78" y="65.57" width="5.4" height="5.4" fill="#B49733"/>
<rect x="446.56" y="68.91" width="5.4" height="5.4" fill="#B49733"/>
<rect x="456.34" y="72.5" width="5.4" height="5.4" fill="#B49733"/>
<rect x="466.12" y="72.5" width="5.4" height="5.4" fill="#B49733"/>
<rect x="475.9" y="64.93" width="5.4" height="5.4" fill="#B49733"/>
<rect x="485.68" y="61.2" width="5.4" height="5.4" fill="#B49733"/>
<rect x="495.46" y="60.69" width="5.4" height="5.4" fill="#B49733"/>
<rect x="505.24" y="63.9" width="5.4" height="5.4" fill="#B49733"/>
<rect x="515.02" y="61.2" width="5.4" height="5.4" fill="#B49733"/>
<rect x="524.8" y="72.38" width="5.4" height="5.4" fill="#B49733"/>
<rect x="534.58" y="73.02" width="5.4" height="5.4" fill="#B49733"/>
<rect x="544.36" y="60.05" width="5.4" height="5.4" fill="#B49733"/>
<rect x="554.14" y="51.7" width="5.4" height="5.4" fill="#B49733"/>
<rect x="563.92" y="63.9" width="5.4" height="5.4" fill="#B49733"/>
<rect x="573.7" y="56.19" width="5.4" height="5.4" fill="#B49733"/>
<path d="M390.58 86.06V116.37M387.78 86.06H393.38M387.78 116.37H393.38" stroke="#CF6FB0" stroke-width="1.9" fill="none"/>
<path d="M400.36 81.5V111.81M397.56 81.5H403.16M397.56 111.81H403.16" stroke="#CF6FB0" stroke-width="1.9" fill="none"/>
<path d="M410.14 81.89V112.2M407.34 81.89H412.94M407.34 112.2H412.94" stroke="#CF6FB0" stroke-width="1.9" fill="none"/>
<path d="M419.92 82.15V112.46M417.12 82.15H422.72M417.12 112.46H422.72" stroke="#CF6FB0" stroke-width="1.9" fill="none"/>
<path d="M429.7 82.54V112.85M426.9 82.54H432.5M426.9 112.85H432.5" stroke="#CF6FB0" stroke-width="1.9" fill="none"/>
<path d="M439.48 82.8V113.11M436.68 82.8H442.28M436.68 113.11H442.28" stroke="#CF6FB0" stroke-width="1.9" fill="none"/>
<path d="M449.26 82.54V112.85M446.46 82.54H452.06M446.46 112.85H452.06" stroke="#CF6FB0" stroke-width="1.9" fill="none"/>
<path d="M459.04 82.41V112.72M456.24 82.41H461.84M456.24 112.72H461.84" stroke="#CF6FB0" stroke-width="1.9" fill="none"/>
<path d="M468.82 82.41V112.72M466.02 82.41H471.62M466.02 112.72H471.62" stroke="#CF6FB0" stroke-width="1.9" fill="none"/>
<path d="M478.6 82.8V113.11M475.8 82.8H481.4M475.8 113.11H481.4" stroke="#CF6FB0" stroke-width="1.9" fill="none"/>
<path d="M488.38 82.54V112.85M485.58 82.54H491.18M485.58 112.85H491.18" stroke="#CF6FB0" stroke-width="1.9" fill="none"/>
<path d="M498.16 82.54V112.85M495.36 82.54H500.96M495.36 112.85H500.96" stroke="#CF6FB0" stroke-width="1.9" fill="none"/>
<path d="M507.94 82.8V113.11M505.14 82.8H510.74M505.14 113.11H510.74" stroke="#CF6FB0" stroke-width="1.9" fill="none"/>
<path d="M517.72 82.41V112.72M514.92 82.41H520.52M514.92 112.72H520.52" stroke="#CF6FB0" stroke-width="1.9" fill="none"/>
<path d="M527.5 82.54V112.85M524.7 82.54H530.3M524.7 112.85H530.3" stroke="#CF6FB0" stroke-width="1.9" fill="none"/>
<path d="M537.28 82.15V112.46M534.48 82.15H540.08M534.48 112.46H540.08" stroke="#CF6FB0" stroke-width="1.9" fill="none"/>
<path d="M547.06 82.8V113.11M544.26 82.8H549.86M544.26 113.11H549.86" stroke="#CF6FB0" stroke-width="1.9" fill="none"/>
<path d="M556.84 84.76V115.07M554.04 84.76H559.64M554.04 115.07H559.64" stroke="#CF6FB0" stroke-width="1.9" fill="none"/>
<path d="M566.62 83.45V113.76M563.82 83.45H569.42M563.82 113.76H569.42" stroke="#CF6FB0" stroke-width="1.9" fill="none"/>
<path d="M576.4 82.54V112.85M573.6 82.54H579.2M573.6 112.85H579.2" stroke="#CF6FB0" stroke-width="1.9" fill="none"/>
<path d="M380.8 148.8 L390.58 101.22 L400.36 96.65 L410.14 97.04 L419.92 97.31 L429.7 97.7 L439.48 97.96 L449.26 97.7 L459.04 97.57 L468.82 97.57 L478.6 97.96 L488.38 97.7 L498.16 97.7 L507.94 97.96 L517.72 97.57 L527.5 97.7 L537.28 97.31 L547.06 97.96 L556.84 99.91 L566.62 98.61 L576.4 97.7" stroke="#CF6FB0" stroke-width="2.1" fill="none" stroke-linejoin="round"/>
<circle cx="380.8" cy="148.8" r="3" fill="#CF6FB0"/>
<circle cx="390.58" cy="101.22" r="3" fill="#CF6FB0"/>
<circle cx="400.36" cy="96.65" r="3" fill="#CF6FB0"/>
<circle cx="410.14" cy="97.04" r="3" fill="#CF6FB0"/>
<circle cx="419.92" cy="97.31" r="3" fill="#CF6FB0"/>
<circle cx="429.7" cy="97.7" r="3" fill="#CF6FB0"/>
<circle cx="439.48" cy="97.96" r="3" fill="#CF6FB0"/>
<circle cx="449.26" cy="97.7" r="3" fill="#CF6FB0"/>
<circle cx="459.04" cy="97.57" r="3" fill="#CF6FB0"/>
<circle cx="468.82" cy="97.57" r="3" fill="#CF6FB0"/>
<circle cx="478.6" cy="97.96" r="3" fill="#CF6FB0"/>
<circle cx="488.38" cy="97.7" r="3" fill="#CF6FB0"/>
<circle cx="498.16" cy="97.7" r="3" fill="#CF6FB0"/>
<circle cx="507.94" cy="97.96" r="3" fill="#CF6FB0"/>
<circle cx="517.72" cy="97.57" r="3" fill="#CF6FB0"/>
<circle cx="527.5" cy="97.7" r="3" fill="#CF6FB0"/>
<circle cx="537.28" cy="97.31" r="3" fill="#CF6FB0"/>
<circle cx="547.06" cy="97.96" r="3" fill="#CF6FB0"/>
<circle cx="556.84" cy="99.91" r="3" fill="#CF6FB0"/>
<circle cx="566.62" cy="98.61" r="3" fill="#CF6FB0"/>
<circle cx="576.4" cy="97.7" r="3" fill="#CF6FB0"/>
<path d="M588.3 23.2H602.3" stroke="#CF6FB0" stroke-width="1.4"/>
<circle cx="595.3" cy="23.2" r="2.5" fill="#CF6FB0"/>
<text x="609.87" y="26.4" font-size="10.3" textLength="20.94" lengthAdjust="spacingAndGlyphs" fill="#000" >T1-2</text>
<path d="M588.3 32.9H602.3" stroke="#B49733" stroke-width="1.4"/>
<rect x="592.8" y="30.4" width="5" height="5" fill="#B49733"/>
<text x="609.87" y="36" font-size="10.3" textLength="20.85" lengthAdjust="spacingAndGlyphs" fill="#000" >T1-5</text>
<path d="M588.3 42.5H602.3" stroke="#22BFCB" stroke-width="1.4"/>
<path d="M595.3 39.62L598.05 44.38L592.55 44.38Z" fill="#22BFCB"/>
<text x="610.48" y="46.5" font-size="10.3" textLength="26.01" lengthAdjust="spacingAndGlyphs" fill="#000" >T2-10</text>
<path d="M588.3 52.1H602.3" stroke="#7191D4" stroke-width="1.4"/>
<path d="M595.3 54.98L598.05 50.23L592.55 50.23Z" fill="#7191D4"/>
<text x="609.59" y="56.3" font-size="10.3" textLength="54.43" lengthAdjust="spacingAndGlyphs" fill="#000" >Polymyxin B</text>
<path d="M588.3 62.9H602.3" stroke="#2DB04F" stroke-width="1.4"/>
<circle cx="595.3" cy="62.9" r="2.5" fill="#2DB04F"/>
<text x="609.76" y="68.6" font-size="10.3" textLength="74.49" lengthAdjust="spacingAndGlyphs" fill="#000" >buffer+bacterium</text>
<text x="609.9" y="80.7" font-size="10.3" textLength="46" lengthAdjust="spacingAndGlyphs">+DiSC<tspan font-size="9.4" dy="3.1">3</tspan><tspan dy="-3.1">(5)</tspan></text>
<path d="M380.3 188.1V317.6" stroke="#000" stroke-width="1.8" fill="none"/>
<path d="M374.8 317.6H574.8" stroke="#000" stroke-width="1.8" fill="none"/>
<path d="M374.8 317.6H380.3" stroke="#000" stroke-width="1.8"/>
<path d="M374.8 285.38H380.3" stroke="#000" stroke-width="1.8"/>
<path d="M374.8 253.15H380.3" stroke="#000" stroke-width="1.8"/>
<path d="M374.8 220.93H380.3" stroke="#000" stroke-width="1.8"/>
<path d="M374.8 188.7H380.3" stroke="#000" stroke-width="1.8"/>
<path d="M380.3 317.6V323.1" stroke="#000" stroke-width="1.8"/>
<path d="M428.7 317.6V323.1" stroke="#000" stroke-width="1.8"/>
<path d="M477.1 317.6V323.1" stroke="#000" stroke-width="1.8"/>
<path d="M525.5 317.6V323.1" stroke="#000" stroke-width="1.8"/>
<path d="M573.9 317.6V323.1" stroke="#000" stroke-width="1.8"/>
<text x="373.4" y="290.57" font-size="11.5" text-anchor="end" font-weight="normal" fill="#000" >500</text>
<text x="373.4" y="258.35" font-size="11.5" text-anchor="end" font-weight="normal" fill="#000" >1000</text>
<text x="373.4" y="226.12" font-size="11.5" text-anchor="end" font-weight="normal" fill="#000" >1500</text>
<text x="373.4" y="193.9" font-size="11.5" text-anchor="end" font-weight="normal" fill="#000" >2000</text>
<text x="368.4" y="322.6" font-size="11.5" text-anchor="end" font-weight="normal" fill="#000" >0</text>
<text x="380.3" y="333" font-size="11.5" text-anchor="middle" font-weight="normal" fill="#000" >0</text>
<text x="428.7" y="333" font-size="11.5" text-anchor="middle" font-weight="normal" fill="#000" >5</text>
<text x="477.1" y="333" font-size="11.5" text-anchor="middle" font-weight="normal" fill="#000" >10</text>
<text x="525.5" y="333" font-size="11.5" text-anchor="middle" font-weight="normal" fill="#000" >15</text>
<text x="573.9" y="333" font-size="11.5" text-anchor="middle" font-weight="normal" fill="#000" >20</text>
<text x="456.52" y="342.6" font-size="12.3" textLength="59.45" lengthAdjust="spacingAndGlyphs" fill="#000" >Time (min)</text>
<g transform="translate(343.6 298.0) rotate(-90)"><text x="-1.01" y="0" font-size="12.3" textLength="106.06" lengthAdjust="spacingAndGlyphs" fill="#000" >NPN fluorenscence</text></g>
<path d="M389.98 266.04V273.52M387.18 266.04H392.78M387.18 273.52H392.78" stroke="#2DB04F" stroke-width="1.9" fill="none"/>
<path d="M399.66 265.07V272.55M396.86 265.07H402.46M396.86 272.55H402.46" stroke="#2DB04F" stroke-width="1.9" fill="none"/>
<path d="M409.34 265.07V272.55M406.54 265.07H412.14M406.54 272.55H412.14" stroke="#2DB04F" stroke-width="1.9" fill="none"/>
<path d="M419.02 265.2V272.68M416.22 265.2H421.82M416.22 272.68H421.82" stroke="#2DB04F" stroke-width="1.9" fill="none"/>
<path d="M428.7 265.2V272.68M425.9 265.2H431.5M425.9 272.68H431.5" stroke="#2DB04F" stroke-width="1.9" fill="none"/>
<path d="M438.38 265.72V273.19M435.58 265.72H441.18M435.58 273.19H441.18" stroke="#2DB04F" stroke-width="1.9" fill="none"/>
<path d="M448.06 265.07V272.55M445.26 265.07H450.86M445.26 272.55H450.86" stroke="#2DB04F" stroke-width="1.9" fill="none"/>
<path d="M457.74 265.2V272.68M454.94 265.2H460.54M454.94 272.68H460.54" stroke="#2DB04F" stroke-width="1.9" fill="none"/>
<path d="M467.42 265.72V273.19M464.62 265.72H470.22M464.62 273.19H470.22" stroke="#2DB04F" stroke-width="1.9" fill="none"/>
<path d="M477.1 265.4V272.87M474.3 265.4H479.9M474.3 272.87H479.9" stroke="#2DB04F" stroke-width="1.9" fill="none"/>
<path d="M486.78 265.59V273.07M483.98 265.59H489.58M483.98 273.07H489.58" stroke="#2DB04F" stroke-width="1.9" fill="none"/>
<path d="M496.46 265.4V272.87M493.66 265.4H499.26M493.66 272.87H499.26" stroke="#2DB04F" stroke-width="1.9" fill="none"/>
<path d="M506.14 265.72V273.19M503.34 265.72H508.94M503.34 273.19H508.94" stroke="#2DB04F" stroke-width="1.9" fill="none"/>
<path d="M515.82 266.04V273.52M513.02 266.04H518.62M513.02 273.52H518.62" stroke="#2DB04F" stroke-width="1.9" fill="none"/>
<path d="M525.5 265.59V273.07M522.7 265.59H528.3M522.7 273.07H528.3" stroke="#2DB04F" stroke-width="1.9" fill="none"/>
<path d="M535.18 265.59V273.07M532.38 265.59H537.98M532.38 273.07H537.98" stroke="#2DB04F" stroke-width="1.9" fill="none"/>
<path d="M544.86 265.85V273.32M542.06 265.85H547.66M542.06 273.32H547.66" stroke="#2DB04F" stroke-width="1.9" fill="none"/>
<path d="M554.54 265.72V273.19M551.74 265.72H557.34M551.74 273.19H557.34" stroke="#2DB04F" stroke-width="1.9" fill="none"/>
<path d="M564.22 265.72V273.19M561.42 265.72H567.02M561.42 273.19H567.02" stroke="#2DB04F" stroke-width="1.9" fill="none"/>
<path d="M573.9 267.33V274.81M571.1 267.33H576.7M571.1 274.81H576.7" stroke="#2DB04F" stroke-width="1.9" fill="none"/>
<path d="M380.3 317.6 L389.98 269.78 L399.66 268.81 L409.34 268.81 L419.02 268.94 L428.7 268.94 L438.38 269.46 L448.06 268.81 L457.74 268.94 L467.42 269.46 L477.1 269.13 L486.78 269.33 L496.46 269.13 L506.14 269.46 L515.82 269.78 L525.5 269.33 L535.18 269.33 L544.86 269.58 L554.54 269.46 L564.22 269.46 L573.9 271.07" stroke="#2DB04F" stroke-width="2.1" fill="none" stroke-linejoin="round"/>
<circle cx="380.3" cy="317.6" r="2.3" fill="#2DB04F"/>
<circle cx="389.98" cy="269.78" r="2.3" fill="#2DB04F"/>
<circle cx="399.66" cy="268.81" r="2.3" fill="#2DB04F"/>
<circle cx="409.34" cy="268.81" r="2.3" fill="#2DB04F"/>
<circle cx="419.02" cy="268.94" r="2.3" fill="#2DB04F"/>
<circle cx="428.7" cy="268.94" r="2.3" fill="#2DB04F"/>
<circle cx="438.38" cy="269.46" r="2.3" fill="#2DB04F"/>
<circle cx="448.06" cy="268.81" r="2.3" fill="#2DB04F"/>
<circle cx="457.74" cy="268.94" r="2.3" fill="#2DB04F"/>
<circle cx="467.42" cy="269.46" r="2.3" fill="#2DB04F"/>
<circle cx="477.1" cy="269.13" r="2.3" fill="#2DB04F"/>
<circle cx="486.78" cy="269.33" r="2.3" fill="#2DB04F"/>
<circle cx="496.46" cy="269.13" r="2.3" fill="#2DB04F"/>
<circle cx="506.14" cy="269.46" r="2.3" fill="#2DB04F"/>
<circle cx="515.82" cy="269.78" r="2.3" fill="#2DB04F"/>
<circle cx="525.5" cy="269.33" r="2.3" fill="#2DB04F"/>
<circle cx="535.18" cy="269.33" r="2.3" fill="#2DB04F"/>
<circle cx="544.86" cy="269.58" r="2.3" fill="#2DB04F"/>
<circle cx="554.54" cy="269.46" r="2.3" fill="#2DB04F"/>
<circle cx="564.22" cy="269.46" r="2.3" fill="#2DB04F"/>
<circle cx="573.9" cy="271.07" r="2.3" fill="#2DB04F"/>
<path d="M389.98 212.87V262.5M387.18 212.87H392.78M387.18 262.5H392.78" stroke="#7191D4" stroke-width="1.9" fill="none"/>
<path d="M399.66 211.45V261.08M396.86 211.45H402.46M396.86 261.08H402.46" stroke="#7191D4" stroke-width="1.9" fill="none"/>
<path d="M409.34 211.06V260.69M406.54 211.06H412.14M406.54 260.69H412.14" stroke="#7191D4" stroke-width="1.9" fill="none"/>
<path d="M419.02 211.26V260.88M416.22 211.26H421.82M416.22 260.88H421.82" stroke="#7191D4" stroke-width="1.9" fill="none"/>
<path d="M428.7 211.9V261.53M425.9 211.9H431.5M425.9 261.53H431.5" stroke="#7191D4" stroke-width="1.9" fill="none"/>
<path d="M438.38 212.87V262.5M435.58 212.87H441.18M435.58 262.5H441.18" stroke="#7191D4" stroke-width="1.9" fill="none"/>
<path d="M448.06 212.22V261.85M445.26 212.22H450.86M445.26 261.85H450.86" stroke="#7191D4" stroke-width="1.9" fill="none"/>
<path d="M457.74 212.74V262.37M454.94 212.74H460.54M454.94 262.37H460.54" stroke="#7191D4" stroke-width="1.9" fill="none"/>
<path d="M467.42 213.51V263.14M464.62 213.51H470.22M464.62 263.14H470.22" stroke="#7191D4" stroke-width="1.9" fill="none"/>
<path d="M477.1 212.74V262.37M474.3 212.74H479.9M474.3 262.37H479.9" stroke="#7191D4" stroke-width="1.9" fill="none"/>
<path d="M486.78 212.35V261.98M483.98 212.35H489.58M483.98 261.98H489.58" stroke="#7191D4" stroke-width="1.9" fill="none"/>
<path d="M496.46 212.22V261.85M493.66 212.22H499.26M493.66 261.85H499.26" stroke="#7191D4" stroke-width="1.9" fill="none"/>
<path d="M506.14 212.55V262.17M503.34 212.55H508.94M503.34 262.17H508.94" stroke="#7191D4" stroke-width="1.9" fill="none"/>
<path d="M515.82 212.74V262.37M513.02 212.74H518.62M513.02 262.37H518.62" stroke="#7191D4" stroke-width="1.9" fill="none"/>
<path d="M525.5 212.22V261.85M522.7 212.22H528.3M522.7 261.85H528.3" stroke="#7191D4" stroke-width="1.9" fill="none"/>
<path d="M535.18 212.55V262.17M532.38 212.55H537.98M532.38 262.17H537.98" stroke="#7191D4" stroke-width="1.9" fill="none"/>
<path d="M544.86 212.35V261.98M542.06 212.35H547.66M542.06 261.98H547.66" stroke="#7191D4" stroke-width="1.9" fill="none"/>
<path d="M554.54 212.55V262.17M551.74 212.55H557.34M551.74 262.17H557.34" stroke="#7191D4" stroke-width="1.9" fill="none"/>
<path d="M564.22 212.55V262.17M561.42 212.55H567.02M561.42 262.17H567.02" stroke="#7191D4" stroke-width="1.9" fill="none"/>
<path d="M573.9 212.74V262.37M571.1 212.74H576.7M571.1 262.37H576.7" stroke="#7191D4" stroke-width="1.9" fill="none"/>
<path d="M380.3 317.6 L389.98 237.68 L399.66 236.26 L409.34 235.88 L419.02 236.07 L428.7 236.72 L438.38 237.68 L448.06 237.04 L457.74 237.55 L467.42 238.33 L477.1 237.55 L486.78 237.17 L496.46 237.04 L506.14 237.36 L515.82 237.55 L525.5 237.04 L535.18 237.36 L544.86 237.17 L554.54 237.36 L564.22 237.36 L573.9 237.55" stroke="#7191D4" stroke-width="2.1" fill="none" stroke-linejoin="round"/>
<path d="M380.3 320.36L382.94 315.8L377.66 315.8Z" fill="#7191D4"/>
<path d="M389.98 240.44L392.62 235.88L387.34 235.88Z" fill="#7191D4"/>
<path d="M399.66 239.02L402.3 234.46L397.02 234.46Z" fill="#7191D4"/>
<path d="M409.34 238.64L411.98 234.08L406.7 234.08Z" fill="#7191D4"/>
<path d="M419.02 238.83L421.66 234.27L416.38 234.27Z" fill="#7191D4"/>
<path d="M428.7 239.48L431.34 234.92L426.06 234.92Z" fill="#7191D4"/>
<path d="M438.38 240.44L441.02 235.88L435.74 235.88Z" fill="#7191D4"/>
<path d="M448.06 239.8L450.7 235.24L445.42 235.24Z" fill="#7191D4"/>
<path d="M457.74 240.31L460.38 235.75L455.1 235.75Z" fill="#7191D4"/>
<path d="M467.42 241.09L470.06 236.53L464.78 236.53Z" fill="#7191D4"/>
<path d="M477.1 240.31L479.74 235.75L474.46 235.75Z" fill="#7191D4"/>
<path d="M486.78 239.93L489.42 235.37L484.14 235.37Z" fill="#7191D4"/>
<path d="M496.46 239.8L499.1 235.24L493.82 235.24Z" fill="#7191D4"/>
<path d="M506.14 240.12L508.78 235.56L503.5 235.56Z" fill="#7191D4"/>
<path d="M515.82 240.31L518.46 235.75L513.18 235.75Z" fill="#7191D4"/>
<path d="M525.5 239.8L528.14 235.24L522.86 235.24Z" fill="#7191D4"/>
<path d="M535.18 240.12L537.82 235.56L532.54 235.56Z" fill="#7191D4"/>
<path d="M544.86 239.93L547.5 235.37L542.22 235.37Z" fill="#7191D4"/>
<path d="M554.54 240.12L557.18 235.56L551.9 235.56Z" fill="#7191D4"/>
<path d="M564.22 240.12L566.86 235.56L561.58 235.56Z" fill="#7191D4"/>
<path d="M573.9 240.31L576.54 235.75L571.26 235.75Z" fill="#7191D4"/>
<path d="M389.98 215.45V262.5M387.18 215.45H392.78M387.18 262.5H392.78" stroke="#22BFCB" stroke-width="1.9" fill="none"/>
<path d="M399.66 214.16V261.21M396.86 214.16H402.46M396.86 261.21H402.46" stroke="#22BFCB" stroke-width="1.9" fill="none"/>
<path d="M409.34 213.84V260.88M406.54 213.84H412.14M406.54 260.88H412.14" stroke="#22BFCB" stroke-width="1.9" fill="none"/>
<path d="M419.02 214.16V261.21M416.22 214.16H421.82M416.22 261.21H421.82" stroke="#22BFCB" stroke-width="1.9" fill="none"/>
<path d="M428.7 214.48V261.53M425.9 214.48H431.5M425.9 261.53H431.5" stroke="#22BFCB" stroke-width="1.9" fill="none"/>
<path d="M438.38 215.45V262.5M435.58 215.45H441.18M435.58 262.5H441.18" stroke="#22BFCB" stroke-width="1.9" fill="none"/>
<path d="M448.06 214.67V261.72M445.26 214.67H450.86M445.26 261.72H450.86" stroke="#22BFCB" stroke-width="1.9" fill="none"/>
<path d="M457.74 215.12V262.17M454.94 215.12H460.54M454.94 262.17H460.54" stroke="#22BFCB" stroke-width="1.9" fill="none"/>
<path d="M467.42 215.77V262.82M464.62 215.77H470.22M464.62 262.82H470.22" stroke="#22BFCB" stroke-width="1.9" fill="none"/>
<path d="M477.1 215.12V262.17M474.3 215.12H479.9M474.3 262.17H479.9" stroke="#22BFCB" stroke-width="1.9" fill="none"/>
<path d="M486.78 214.8V261.85M483.98 214.8H489.58M483.98 261.85H489.58" stroke="#22BFCB" stroke-width="1.9" fill="none"/>
<path d="M496.46 214.67V261.72M493.66 214.67H499.26M493.66 261.72H499.26" stroke="#22BFCB" stroke-width="1.9" fill="none"/>
<path d="M506.14 214.93V261.98M503.34 214.93H508.94M503.34 261.98H508.94" stroke="#22BFCB" stroke-width="1.9" fill="none"/>
<path d="M515.82 215.12V262.17M513.02 215.12H518.62M513.02 262.17H518.62" stroke="#22BFCB" stroke-width="1.9" fill="none"/>
<path d="M525.5 214.67V261.72M522.7 214.67H528.3M522.7 261.72H528.3" stroke="#22BFCB" stroke-width="1.9" fill="none"/>
<path d="M535.18 214.93V261.98M532.38 214.93H537.98M532.38 261.98H537.98" stroke="#22BFCB" stroke-width="1.9" fill="none"/>
<path d="M544.86 214.8V261.85M542.06 214.8H547.66M542.06 261.85H547.66" stroke="#22BFCB" stroke-width="1.9" fill="none"/>
<path d="M554.54 215.06V262.11M551.74 215.06H557.34M551.74 262.11H557.34" stroke="#22BFCB" stroke-width="1.9" fill="none"/>
<path d="M564.22 214.93V261.98M561.42 214.93H567.02M561.42 261.98H567.02" stroke="#22BFCB" stroke-width="1.9" fill="none"/>
<path d="M573.9 215.12V262.17M571.1 215.12H576.7M571.1 262.17H576.7" stroke="#22BFCB" stroke-width="1.9" fill="none"/>
<path d="M380.3 317.6 L389.98 238.97 L399.66 237.68 L409.34 237.36 L419.02 237.68 L428.7 238 L438.38 238.97 L448.06 238.2 L457.74 238.65 L467.42 239.29 L477.1 238.65 L486.78 238.33 L496.46 238.2 L506.14 238.46 L515.82 238.65 L525.5 238.2 L535.18 238.46 L544.86 238.33 L554.54 238.58 L564.22 238.46 L573.9 238.65" stroke="#22BFCB" stroke-width="2.1" fill="none" stroke-linejoin="round"/>
<path d="M380.3 314.84L382.94 319.4L377.66 319.4Z" fill="#22BFCB"/>
<path d="M389.98 236.21L392.62 240.77L387.34 240.77Z" fill="#22BFCB"/>
<path d="M399.66 234.92L402.3 239.48L397.02 239.48Z" fill="#22BFCB"/>
<path d="M409.34 234.6L411.98 239.16L406.7 239.16Z" fill="#22BFCB"/>
<path d="M419.02 234.92L421.66 239.48L416.38 239.48Z" fill="#22BFCB"/>
<path d="M428.7 235.24L431.34 239.8L426.06 239.8Z" fill="#22BFCB"/>
<path d="M438.38 236.21L441.02 240.77L435.74 240.77Z" fill="#22BFCB"/>
<path d="M448.06 235.44L450.7 240L445.42 240Z" fill="#22BFCB"/>
<path d="M457.74 235.89L460.38 240.45L455.1 240.45Z" fill="#22BFCB"/>
<path d="M467.42 236.53L470.06 241.09L464.78 241.09Z" fill="#22BFCB"/>
<path d="M477.1 235.89L479.74 240.45L474.46 240.45Z" fill="#22BFCB"/>
<path d="M486.78 235.57L489.42 240.13L484.14 240.13Z" fill="#22BFCB"/>
<path d="M496.46 235.44L499.1 240L493.82 240Z" fill="#22BFCB"/>
<path d="M506.14 235.7L508.78 240.26L503.5 240.26Z" fill="#22BFCB"/>
<path d="M515.82 235.89L518.46 240.45L513.18 240.45Z" fill="#22BFCB"/>
<path d="M525.5 235.44L528.14 240L522.86 240Z" fill="#22BFCB"/>
<path d="M535.18 235.7L537.82 240.26L532.54 240.26Z" fill="#22BFCB"/>
<path d="M544.86 235.57L547.5 240.13L542.22 240.13Z" fill="#22BFCB"/>
<path d="M554.54 235.82L557.18 240.38L551.9 240.38Z" fill="#22BFCB"/>
<path d="M564.22 235.7L566.86 240.26L561.58 240.26Z" fill="#22BFCB"/>
<path d="M573.9 235.89L576.54 240.45L571.26 240.45Z" fill="#22BFCB"/>
<path d="M389.98 214.93V266.23M387.18 214.93H392.78M387.18 266.23H392.78" stroke="#B49733" stroke-width="1.9" fill="none"/>
<path d="M399.66 213.96V265.27M396.86 213.96H402.46M396.86 265.27H402.46" stroke="#B49733" stroke-width="1.9" fill="none"/>
<path d="M409.34 213.84V265.14M406.54 213.84H412.14M406.54 265.14H412.14" stroke="#B49733" stroke-width="1.9" fill="none"/>
<path d="M419.02 213.96V265.27M416.22 213.96H421.82M416.22 265.27H421.82" stroke="#B49733" stroke-width="1.9" fill="none"/>
<path d="M428.7 214.29V265.59M425.9 214.29H431.5M425.9 265.59H431.5" stroke="#B49733" stroke-width="1.9" fill="none"/>
<path d="M438.38 214.93V266.23M435.58 214.93H441.18M435.58 266.23H441.18" stroke="#B49733" stroke-width="1.9" fill="none"/>
<path d="M448.06 214.29V265.59M445.26 214.29H450.86M445.26 265.59H450.86" stroke="#B49733" stroke-width="1.9" fill="none"/>
<path d="M457.74 214.93V266.23M454.94 214.93H460.54M454.94 266.23H460.54" stroke="#B49733" stroke-width="1.9" fill="none"/>
<path d="M467.42 215.58V266.88M464.62 215.58H470.22M464.62 266.88H470.22" stroke="#B49733" stroke-width="1.9" fill="none"/>
<path d="M477.1 214.93V266.23M474.3 214.93H479.9M474.3 266.23H479.9" stroke="#B49733" stroke-width="1.9" fill="none"/>
<path d="M486.78 214.93V266.23M483.98 214.93H489.58M483.98 266.23H489.58" stroke="#B49733" stroke-width="1.9" fill="none"/>
<path d="M496.46 214.61V265.91M493.66 214.61H499.26M493.66 265.91H499.26" stroke="#B49733" stroke-width="1.9" fill="none"/>
<path d="M506.14 214.93V266.23M503.34 214.93H508.94M503.34 266.23H508.94" stroke="#B49733" stroke-width="1.9" fill="none"/>
<path d="M515.82 215.25V266.56M513.02 215.25H518.62M513.02 266.56H518.62" stroke="#B49733" stroke-width="1.9" fill="none"/>
<path d="M525.5 214.74V266.04M522.7 214.74H528.3M522.7 266.04H528.3" stroke="#B49733" stroke-width="1.9" fill="none"/>
<path d="M535.18 215.12V266.43M532.38 215.12H537.98M532.38 266.43H537.98" stroke="#B49733" stroke-width="1.9" fill="none"/>
<path d="M544.86 214.93V266.23M542.06 214.93H547.66M542.06 266.23H547.66" stroke="#B49733" stroke-width="1.9" fill="none"/>
<path d="M554.54 215.12V266.43M551.74 215.12H557.34M551.74 266.43H557.34" stroke="#B49733" stroke-width="1.9" fill="none"/>
<path d="M564.22 214.93V266.23M561.42 214.93H567.02M561.42 266.23H567.02" stroke="#B49733" stroke-width="1.9" fill="none"/>
<path d="M573.9 216.54V267.84M571.1 216.54H576.7M571.1 267.84H576.7" stroke="#B49733" stroke-width="1.9" fill="none"/>
<path d="M380.3 317.6 L389.98 240.58 L399.66 239.62 L409.34 239.49 L419.02 239.62 L428.7 239.94 L438.38 240.58 L448.06 239.94 L457.74 240.58 L467.42 241.23 L477.1 240.58 L486.78 240.58 L496.46 240.26 L506.14 240.58 L515.82 240.9 L525.5 240.39 L535.18 240.78 L544.86 240.58 L554.54 240.78 L564.22 240.58 L573.9 242.19" stroke="#B49733" stroke-width="2.1" fill="none" stroke-linejoin="round"/>
<rect x="377.6" y="314.9" width="5.4" height="5.4" fill="#B49733"/>
<rect x="387.28" y="237.88" width="5.4" height="5.4" fill="#B49733"/>
<rect x="396.96" y="236.92" width="5.4" height="5.4" fill="#B49733"/>
<rect x="406.64" y="236.79" width="5.4" height="5.4" fill="#B49733"/>
<rect x="416.32" y="236.92" width="5.4" height="5.4" fill="#B49733"/>
<rect x="426" y="237.24" width="5.4" height="5.4" fill="#B49733"/>
<rect x="435.68" y="237.88" width="5.4" height="5.4" fill="#B49733"/>
<rect x="445.36" y="237.24" width="5.4" height="5.4" fill="#B49733"/>
<rect x="455.04" y="237.88" width="5.4" height="5.4" fill="#B49733"/>
<rect x="464.72" y="238.53" width="5.4" height="5.4" fill="#B49733"/>
<rect x="474.4" y="237.88" width="5.4" height="5.4" fill="#B49733"/>
<rect x="484.08" y="237.88" width="5.4" height="5.4" fill="#B49733"/>
<rect x="493.76" y="237.56" width="5.4" height="5.4" fill="#B49733"/>
<rect x="503.44" y="237.88" width="5.4" height="5.4" fill="#B49733"/>
<rect x="513.12" y="238.2" width="5.4" height="5.4" fill="#B49733"/>
<rect x="522.8" y="237.69" width="5.4" height="5.4" fill="#B49733"/>
<rect x="532.48" y="238.08" width="5.4" height="5.4" fill="#B49733"/>
<rect x="542.16" y="237.88" width="5.4" height="5.4" fill="#B49733"/>
<rect x="551.84" y="238.08" width="5.4" height="5.4" fill="#B49733"/>
<rect x="561.52" y="237.88" width="5.4" height="5.4" fill="#B49733"/>
<rect x="571.2" y="239.49" width="5.4" height="5.4" fill="#B49733"/>
<path d="M389.98 214.42V258.89M387.18 214.42H392.78M387.18 258.89H392.78" stroke="#CF6FB0" stroke-width="1.9" fill="none"/>
<path d="M399.66 212.22V256.69M396.86 212.22H402.46M396.86 256.69H402.46" stroke="#CF6FB0" stroke-width="1.9" fill="none"/>
<path d="M409.34 211.58V256.05M406.54 211.58H412.14M406.54 256.05H412.14" stroke="#CF6FB0" stroke-width="1.9" fill="none"/>
<path d="M419.02 211.58V256.05M416.22 211.58H421.82M416.22 256.05H421.82" stroke="#CF6FB0" stroke-width="1.9" fill="none"/>
<path d="M428.7 212.68V257.15M425.9 212.68H431.5M425.9 257.15H431.5" stroke="#CF6FB0" stroke-width="1.9" fill="none"/>
<path d="M438.38 214.42V258.89M435.58 214.42H441.18M435.58 258.89H441.18" stroke="#CF6FB0" stroke-width="1.9" fill="none"/>
<path d="M448.06 213.51V257.98M445.26 213.51H450.86M445.26 257.98H450.86" stroke="#CF6FB0" stroke-width="1.9" fill="none"/>
<path d="M457.74 214.42V258.89M454.94 214.42H460.54M454.94 258.89H460.54" stroke="#CF6FB0" stroke-width="1.9" fill="none"/>
<path d="M467.42 215.45V259.92M464.62 215.45H470.22M464.62 259.92H470.22" stroke="#CF6FB0" stroke-width="1.9" fill="none"/>
<path d="M477.1 214.42V258.89M474.3 214.42H479.9M474.3 258.89H479.9" stroke="#CF6FB0" stroke-width="1.9" fill="none"/>
<path d="M486.78 214.8V259.27M483.98 214.8H489.58M483.98 259.27H489.58" stroke="#CF6FB0" stroke-width="1.9" fill="none"/>
<path d="M496.46 214.48V258.95M493.66 214.48H499.26M493.66 258.95H499.26" stroke="#CF6FB0" stroke-width="1.9" fill="none"/>
<path d="M506.14 214.93V259.4M503.34 214.93H508.94M503.34 259.4H508.94" stroke="#CF6FB0" stroke-width="1.9" fill="none"/>
<path d="M515.82 215.32V259.79M513.02 215.32H518.62M513.02 259.79H518.62" stroke="#CF6FB0" stroke-width="1.9" fill="none"/>
<path d="M525.5 214.8V259.27M522.7 214.8H528.3M522.7 259.27H528.3" stroke="#CF6FB0" stroke-width="1.9" fill="none"/>
<path d="M535.18 215.32V259.79M532.38 215.32H537.98M532.38 259.79H537.98" stroke="#CF6FB0" stroke-width="1.9" fill="none"/>
<path d="M544.86 215.45V259.92M542.06 215.45H547.66M542.06 259.92H547.66" stroke="#CF6FB0" stroke-width="1.9" fill="none"/>
<path d="M554.54 215.77V260.24M551.74 215.77H557.34M551.74 260.24H557.34" stroke="#CF6FB0" stroke-width="1.9" fill="none"/>
<path d="M564.22 215.96V260.43M561.42 215.96H567.02M561.42 260.43H567.02" stroke="#CF6FB0" stroke-width="1.9" fill="none"/>
<path d="M573.9 216.41V260.88M571.1 216.41H576.7M571.1 260.88H576.7" stroke="#CF6FB0" stroke-width="1.9" fill="none"/>
<path d="M380.3 317.6 L389.98 236.65 L399.66 234.46 L409.34 233.81 L419.02 233.81 L428.7 234.91 L438.38 236.65 L448.06 235.75 L457.74 236.65 L467.42 237.68 L477.1 236.65 L486.78 237.04 L496.46 236.72 L506.14 237.17 L515.82 237.55 L525.5 237.04 L535.18 237.55 L544.86 237.68 L554.54 238 L564.22 238.2 L573.9 238.65" stroke="#CF6FB0" stroke-width="2.1" fill="none" stroke-linejoin="round"/>
<circle cx="380.3" cy="317.6" r="3" fill="#CF6FB0"/>
<circle cx="389.98" cy="236.65" r="3" fill="#CF6FB0"/>
<circle cx="399.66" cy="234.46" r="3" fill="#CF6FB0"/>
<circle cx="409.34" cy="233.81" r="3" fill="#CF6FB0"/>
<circle cx="419.02" cy="233.81" r="3" fill="#CF6FB0"/>
<circle cx="428.7" cy="234.91" r="3" fill="#CF6FB0"/>
<circle cx="438.38" cy="236.65" r="3" fill="#CF6FB0"/>
<circle cx="448.06" cy="235.75" r="3" fill="#CF6FB0"/>
<circle cx="457.74" cy="236.65" r="3" fill="#CF6FB0"/>
<circle cx="467.42" cy="237.68" r="3" fill="#CF6FB0"/>
<circle cx="477.1" cy="236.65" r="3" fill="#CF6FB0"/>
<circle cx="486.78" cy="237.04" r="3" fill="#CF6FB0"/>
<circle cx="496.46" cy="236.72" r="3" fill="#CF6FB0"/>
<circle cx="506.14" cy="237.17" r="3" fill="#CF6FB0"/>
<circle cx="515.82" cy="237.55" r="3" fill="#CF6FB0"/>
<circle cx="525.5" cy="237.04" r="3" fill="#CF6FB0"/>
<circle cx="535.18" cy="237.55" r="3" fill="#CF6FB0"/>
<circle cx="544.86" cy="237.68" r="3" fill="#CF6FB0"/>
<circle cx="554.54" cy="238" r="3" fill="#CF6FB0"/>
<circle cx="564.22" cy="238.2" r="3" fill="#CF6FB0"/>
<circle cx="573.9" cy="238.65" r="3" fill="#CF6FB0"/>
<path d="M588.3 200.4H602.3" stroke="#CF6FB0" stroke-width="1.4"/>
<circle cx="595.5" cy="200.4" r="2.5" fill="#CF6FB0"/>
<text x="610.28" y="203.6" font-size="10.3" textLength="20.42" lengthAdjust="spacingAndGlyphs" fill="#000" >T1-2</text>
<path d="M588.3 210.3H602.3" stroke="#B49733" stroke-width="1.4"/>
<rect x="593" y="207.8" width="5" height="5" fill="#B49733"/>
<text x="610.28" y="213" font-size="10.3" textLength="20.34" lengthAdjust="spacingAndGlyphs" fill="#000" >T1-5</text>
<path d="M588.3 219.7H602.3" stroke="#22BFCB" stroke-width="1.4"/>
<path d="M595.5 216.82L598.25 221.57L592.75 221.57Z" fill="#22BFCB"/>
<text x="610.28" y="222.4" font-size="10.3" textLength="25.5" lengthAdjust="spacingAndGlyphs" fill="#000" >T2-10</text>
<path d="M588.3 229.3H602.3" stroke="#7191D4" stroke-width="1.4"/>
<path d="M595.5 232.18L598.25 227.43L592.75 227.43Z" fill="#7191D4"/>
<text x="609.7" y="232.4" font-size="10.3" textLength="53.92" lengthAdjust="spacingAndGlyphs" fill="#000" >Polymyxin B</text>
<path d="M588.3 240.9H602.3" stroke="#2DB04F" stroke-width="1.4"/>
<circle cx="595.5" cy="240.9" r="2.5" fill="#2DB04F"/>
<text x="609.86" y="243.8" font-size="10.3" textLength="74.49" lengthAdjust="spacingAndGlyphs" fill="#000" >buffer+bacterium</text>
<text x="610.01" y="255.7" font-size="10.3" textLength="26.8" lengthAdjust="spacingAndGlyphs" fill="#000" >+NPN</text>
<path d="M48.7 412.1V567.8" stroke="#000" stroke-width="1.8" fill="none"/>
<path d="M43.2 567.8H283.85" stroke="#000" stroke-width="1.8" fill="none"/>
<path d="M43.2 567.8H48.7" stroke="#000" stroke-width="1.8"/>
<path d="M43.2 516.1H48.7" stroke="#000" stroke-width="1.8"/>
<path d="M43.2 464.4H48.7" stroke="#000" stroke-width="1.8"/>
<path d="M43.2 412.7H48.7" stroke="#000" stroke-width="1.8"/>
<path d="M48.7 567.8V573.3" stroke="#000" stroke-width="1.8"/>
<path d="M95.55 567.8V573.3" stroke="#000" stroke-width="1.8"/>
<path d="M142.4 567.8V573.3" stroke="#000" stroke-width="1.8"/>
<path d="M189.25 567.8V573.3" stroke="#000" stroke-width="1.8"/>
<path d="M236.1 567.8V573.3" stroke="#000" stroke-width="1.8"/>
<path d="M282.95 567.8V573.3" stroke="#000" stroke-width="1.8"/>
<text x="39.6" y="520.9" font-size="11.5" text-anchor="end" font-weight="normal" fill="#000" >100</text>
<text x="39.6" y="469.2" font-size="11.5" text-anchor="end" font-weight="normal" fill="#000" >200</text>
<text x="39.6" y="417.5" font-size="11.5" text-anchor="end" font-weight="normal" fill="#000" >300</text>
<text x="34.5" y="572.6" font-size="11.5" text-anchor="end" font-weight="normal" fill="#000" >0</text>
<text x="48.7" y="586.4" font-size="11.5" text-anchor="middle" font-weight="normal" fill="#000" >0</text>
<text x="95.55" y="586.4" font-size="11.5" text-anchor="middle" font-weight="normal" fill="#000" >5</text>
<text x="142.4" y="586.4" font-size="11.5" text-anchor="middle" font-weight="normal" fill="#000" >10</text>
<text x="189.25" y="586.4" font-size="11.5" text-anchor="middle" font-weight="normal" fill="#000" >15</text>
<text x="236.1" y="586.4" font-size="11.5" text-anchor="middle" font-weight="normal" fill="#000" >20</text>
<text x="282.95" y="586.4" font-size="11.5" text-anchor="middle" font-weight="normal" fill="#000" >25</text>
<text x="141.72" y="601.6" font-size="12.3" textLength="65.04" lengthAdjust="spacingAndGlyphs" fill="#000" >Time (days)</text>
<g transform="translate(17.8 548.7) rotate(-90)"><text x="-1.02" y="0" font-size="12.4" textLength="108.7" lengthAdjust="spacingAndGlyphs" fill="#000" >Fold change of MIC</text></g>
<path d="M104.92 550.22V559.53M101.42 550.22H108.42M101.42 559.53H108.42" stroke="#F07A72" stroke-width="1" fill="none"/>
<path d="M133.03 553.84V561.08M129.53 553.84H136.53M129.53 561.08H136.53" stroke="#F07A72" stroke-width="1" fill="none"/>
<path d="M151.77 533.68V552.29M148.27 533.68H155.27M148.27 552.29H155.27" stroke="#F07A72" stroke-width="1" fill="none"/>
<path d="M161.14 533.68V552.29M157.64 533.68H164.64M157.64 552.29H164.64" stroke="#F07A72" stroke-width="1" fill="none"/>
<path d="M170.51 533.68V552.29M167.01 533.68H174.01M167.01 552.29H174.01" stroke="#F07A72" stroke-width="1" fill="none"/>
<path d="M179.88 497.49V536.78M176.38 497.49H183.38M176.38 536.78H183.38" stroke="#F07A72" stroke-width="1" fill="none"/>
<path d="M189.25 497.49V536.78M185.75 497.49H192.75M185.75 536.78H192.75" stroke="#F07A72" stroke-width="1" fill="none"/>
<path d="M198.62 497.49V536.78M195.12 497.49H202.12M195.12 536.78H202.12" stroke="#F07A72" stroke-width="1" fill="none"/>
<path d="M207.99 497.49V536.78M204.49 497.49H211.49M204.49 536.78H211.49" stroke="#F07A72" stroke-width="1" fill="none"/>
<path d="M226.73 429.76V506.28M223.23 429.76H230.23M223.23 506.28H230.23" stroke="#F07A72" stroke-width="1" fill="none"/>
<path d="M236.1 429.76V506.28M232.6 429.76H239.6M232.6 506.28H239.6" stroke="#F07A72" stroke-width="1" fill="none"/>
<path d="M245.47 429.76V506.28M241.97 429.76H248.97M241.97 506.28H248.97" stroke="#F07A72" stroke-width="1" fill="none"/>
<path d="M58.07 567.28 L67.44 565.73 L76.81 565.73 L86.18 565.73 L95.55 559.01 L104.92 554.88 L114.29 559.53 L123.66 560.56 L133.03 557.46 L142.4 557.46 L151.77 542.98 L161.14 542.98 L170.51 542.98 L179.88 517.13 L189.25 517.13 L198.62 517.13 L207.99 517.13 L217.36 500.59 L226.73 468.02 L236.1 468.02 L245.47 468.02 L254.84 434.93 L264.21 434.93 L273.58 434.93 L282.95 434.93" stroke="#F07A72" stroke-width="1" fill="none" stroke-linejoin="round"/>
<path d="M58.07 564.16L61.19 567.28L58.07 570.4L54.95 567.28Z" fill="#F07A72"/>
<path d="M67.44 562.61L70.56 565.73L67.44 568.85L64.32 565.73Z" fill="#F07A72"/>
<path d="M76.81 562.61L79.93 565.73L76.81 568.85L73.69 565.73Z" fill="#F07A72"/>
<path d="M86.18 562.61L89.3 565.73L86.18 568.85L83.06 565.73Z" fill="#F07A72"/>
<path d="M95.55 555.89L98.67 559.01L95.55 562.13L92.43 559.01Z" fill="#F07A72"/>
<path d="M104.92 551.75L108.04 554.88L104.92 558L101.8 554.88Z" fill="#F07A72"/>
<path d="M114.29 556.41L117.41 559.53L114.29 562.65L111.17 559.53Z" fill="#F07A72"/>
<path d="M123.66 557.44L126.78 560.56L123.66 563.68L120.54 560.56Z" fill="#F07A72"/>
<path d="M133.03 554.34L136.15 557.46L133.03 560.58L129.91 557.46Z" fill="#F07A72"/>
<path d="M142.4 554.34L145.52 557.46L142.4 560.58L139.28 557.46Z" fill="#F07A72"/>
<path d="M151.77 539.86L154.89 542.98L151.77 546.1L148.65 542.98Z" fill="#F07A72"/>
<path d="M161.14 539.86L164.26 542.98L161.14 546.1L158.02 542.98Z" fill="#F07A72"/>
<path d="M170.51 539.86L173.63 542.98L170.51 546.1L167.39 542.98Z" fill="#F07A72"/>
<path d="M179.88 514.01L183 517.13L179.88 520.25L176.76 517.13Z" fill="#F07A72"/>
<path d="M189.25 514.01L192.37 517.13L189.25 520.25L186.13 517.13Z" fill="#F07A72"/>
<path d="M198.62 514.01L201.74 517.13L198.62 520.25L195.5 517.13Z" fill="#F07A72"/>
<path d="M207.99 514.01L211.11 517.13L207.99 520.25L204.87 517.13Z" fill="#F07A72"/>
<path d="M217.36 497.47L220.48 500.59L217.36 503.71L214.24 500.59Z" fill="#F07A72"/>
<path d="M226.73 464.9L229.85 468.02L226.73 471.14L223.61 468.02Z" fill="#F07A72"/>
<path d="M236.1 464.9L239.22 468.02L236.1 471.14L232.98 468.02Z" fill="#F07A72"/>
<path d="M245.47 464.9L248.59 468.02L245.47 471.14L242.35 468.02Z" fill="#F07A72"/>
<path d="M254.84 431.81L257.96 434.93L254.84 438.05L251.72 434.93Z" fill="#F07A72"/>
<path d="M264.21 431.81L267.33 434.93L264.21 438.05L261.09 434.93Z" fill="#F07A72"/>
<path d="M273.58 431.81L276.7 434.93L273.58 438.05L270.46 434.93Z" fill="#F07A72"/>
<path d="M282.95 431.81L286.07 434.93L282.95 438.05L279.83 434.93Z" fill="#F07A72"/>
<path d="M114.29 550.22V567.8M110.79 550.22H117.79M110.79 567.8H117.79" stroke="#C96CB4" stroke-width="1" fill="none"/>
<path d="M142.4 550.74V568.32M138.9 550.74H145.9M138.9 568.32H145.9" stroke="#C96CB4" stroke-width="1" fill="none"/>
<path d="M264.21 550.74V562.11M260.71 550.74H267.71M260.71 562.11H267.71" stroke="#C96CB4" stroke-width="1" fill="none"/>
<path d="M58.07 567.28 L67.44 567.28 L76.81 567.28 L86.18 567.28 L95.55 567.28 L104.92 566.77 L114.29 559.01 L123.66 566.25 L133.03 566.77 L142.4 559.53 L151.77 567.28 L161.14 567.28 L170.51 567.28 L179.88 566.77 L189.25 566.77 L198.62 566.25 L207.99 566.25 L217.36 565.21 L226.73 562.11 L236.1 562.11 L245.47 562.11 L254.84 564.7 L264.21 556.43 L273.58 565.21 L282.95 565.21" stroke="#C96CB4" stroke-width="1" fill="none" stroke-linejoin="round"/>
<path d="M58.07 563.83L61.37 569.53L54.77 569.53Z" fill="#C96CB4"/>
<path d="M67.44 563.83L70.74 569.53L64.14 569.53Z" fill="#C96CB4"/>
<path d="M76.81 563.83L80.11 569.53L73.51 569.53Z" fill="#C96CB4"/>
<path d="M86.18 563.83L89.48 569.53L82.88 569.53Z" fill="#C96CB4"/>
<path d="M95.55 563.83L98.85 569.53L92.25 569.53Z" fill="#C96CB4"/>
<path d="M104.92 563.32L108.22 569.02L101.62 569.02Z" fill="#C96CB4"/>
<path d="M114.29 555.56L117.59 561.26L110.99 561.26Z" fill="#C96CB4"/>
<path d="M123.66 562.8L126.96 568.5L120.36 568.5Z" fill="#C96CB4"/>
<path d="M133.03 563.32L136.33 569.02L129.73 569.02Z" fill="#C96CB4"/>
<path d="M142.4 556.08L145.7 561.78L139.1 561.78Z" fill="#C96CB4"/>
<path d="M151.77 563.83L155.07 569.53L148.47 569.53Z" fill="#C96CB4"/>
<path d="M161.14 563.83L164.44 569.53L157.84 569.53Z" fill="#C96CB4"/>
<path d="M170.51 563.83L173.81 569.53L167.21 569.53Z" fill="#C96CB4"/>
<path d="M179.88 563.32L183.18 569.02L176.58 569.02Z" fill="#C96CB4"/>
<path d="M189.25 563.32L192.55 569.02L185.95 569.02Z" fill="#C96CB4"/>
<path d="M198.62 562.8L201.92 568.5L195.32 568.5Z" fill="#C96CB4"/>
<path d="M207.99 562.8L211.29 568.5L204.69 568.5Z" fill="#C96CB4"/>
<path d="M217.36 561.76L220.66 567.46L214.06 567.46Z" fill="#C96CB4"/>
<path d="M226.73 558.66L230.03 564.36L223.43 564.36Z" fill="#C96CB4"/>
<path d="M236.1 558.66L239.4 564.36L232.8 564.36Z" fill="#C96CB4"/>
<path d="M245.47 558.66L248.77 564.36L242.17 564.36Z" fill="#C96CB4"/>
<path d="M254.84 561.25L258.14 566.95L251.54 566.95Z" fill="#C96CB4"/>
<path d="M264.21 552.98L267.51 558.68L260.91 558.68Z" fill="#C96CB4"/>
<path d="M273.58 561.76L276.88 567.46L270.28 567.46Z" fill="#C96CB4"/>
<path d="M282.95 561.76L286.25 567.46L279.65 567.46Z" fill="#C96CB4"/>
<path d="M58.07 567.8 L67.44 567.8 L76.81 567.8 L86.18 567.8 L95.55 567.8 L104.92 567.28 L114.29 566.77 L123.66 567.28 L133.03 567.28 L142.4 567.28 L151.77 567.8 L161.14 567.8 L170.51 567.8 L179.88 567.28 L189.25 566.77 L198.62 566.77 L207.99 566.77 L217.36 566.25 L226.73 565.73 L236.1 565.21 L245.47 565.21 L254.84 565.21 L264.21 561.6 L273.58 561.6 L282.95 561.6" stroke="#6F8FD3" stroke-width="1" fill="none" stroke-linejoin="round"/>
<rect x="55.07" y="564.8" width="6" height="6" fill="#6F8FD3"/>
<rect x="64.44" y="564.8" width="6" height="6" fill="#6F8FD3"/>
<rect x="73.81" y="564.8" width="6" height="6" fill="#6F8FD3"/>
<rect x="83.18" y="564.8" width="6" height="6" fill="#6F8FD3"/>
<rect x="92.55" y="564.8" width="6" height="6" fill="#6F8FD3"/>
<rect x="101.92" y="564.28" width="6" height="6" fill="#6F8FD3"/>
<rect x="111.29" y="563.77" width="6" height="6" fill="#6F8FD3"/>
<rect x="120.66" y="564.28" width="6" height="6" fill="#6F8FD3"/>
<rect x="130.03" y="564.28" width="6" height="6" fill="#6F8FD3"/>
<rect x="139.4" y="564.28" width="6" height="6" fill="#6F8FD3"/>
<rect x="148.77" y="564.8" width="6" height="6" fill="#6F8FD3"/>
<rect x="158.14" y="564.8" width="6" height="6" fill="#6F8FD3"/>
<rect x="167.51" y="564.8" width="6" height="6" fill="#6F8FD3"/>
<rect x="176.88" y="564.28" width="6" height="6" fill="#6F8FD3"/>
<rect x="186.25" y="563.77" width="6" height="6" fill="#6F8FD3"/>
<rect x="195.62" y="563.77" width="6" height="6" fill="#6F8FD3"/>
<rect x="204.99" y="563.77" width="6" height="6" fill="#6F8FD3"/>
<rect x="214.36" y="563.25" width="6" height="6" fill="#6F8FD3"/>
<rect x="223.73" y="562.73" width="6" height="6" fill="#6F8FD3"/>
<rect x="233.1" y="562.21" width="6" height="6" fill="#6F8FD3"/>
<rect x="242.47" y="562.21" width="6" height="6" fill="#6F8FD3"/>
<rect x="251.84" y="562.21" width="6" height="6" fill="#6F8FD3"/>
<rect x="261.21" y="558.6" width="6" height="6" fill="#6F8FD3"/>
<rect x="270.58" y="558.6" width="6" height="6" fill="#6F8FD3"/>
<rect x="279.95" y="558.6" width="6" height="6" fill="#6F8FD3"/>
<path d="M58.07 567.8 L67.44 567.8 L76.81 567.8 L86.18 567.8 L95.55 567.8 L104.92 567.28 L114.29 566.77 L123.66 567.28 L133.03 567.28 L142.4 567.28 L151.77 567.8 L161.14 567.8 L170.51 567.8 L179.88 567.28 L189.25 566.77 L198.62 566.77 L207.99 566.77 L217.36 566.25 L226.73 565.73 L236.1 565.73 L245.47 565.73 L254.84 566.25 L264.21 562.11 L273.58 562.11 L282.95 562.11" stroke="#22BCC6" stroke-width="1" fill="none" stroke-linejoin="round"/>
<circle cx="58.07" cy="567.8" r="3.3" fill="#22BCC6"/>
<circle cx="67.44" cy="567.8" r="3.3" fill="#22BCC6"/>
<circle cx="76.81" cy="567.8" r="3.3" fill="#22BCC6"/>
<circle cx="86.18" cy="567.8" r="3.3" fill="#22BCC6"/>
<circle cx="95.55" cy="567.8" r="3.3" fill="#22BCC6"/>
<circle cx="104.92" cy="567.28" r="3.3" fill="#22BCC6"/>
<circle cx="114.29" cy="566.77" r="3.3" fill="#22BCC6"/>
<circle cx="123.66" cy="567.28" r="3.3" fill="#22BCC6"/>
<circle cx="133.03" cy="567.28" r="3.3" fill="#22BCC6"/>
<circle cx="142.4" cy="567.28" r="3.3" fill="#22BCC6"/>
<circle cx="151.77" cy="567.8" r="3.3" fill="#22BCC6"/>
<circle cx="161.14" cy="567.8" r="3.3" fill="#22BCC6"/>
<circle cx="170.51" cy="567.8" r="3.3" fill="#22BCC6"/>
<circle cx="179.88" cy="567.28" r="3.3" fill="#22BCC6"/>
<circle cx="189.25" cy="566.77" r="3.3" fill="#22BCC6"/>
<circle cx="198.62" cy="566.77" r="3.3" fill="#22BCC6"/>
<circle cx="207.99" cy="566.77" r="3.3" fill="#22BCC6"/>
<circle cx="217.36" cy="566.25" r="3.3" fill="#22BCC6"/>
<circle cx="226.73" cy="565.73" r="3.3" fill="#22BCC6"/>
<circle cx="236.1" cy="565.73" r="3.3" fill="#22BCC6"/>
<circle cx="245.47" cy="565.73" r="3.3" fill="#22BCC6"/>
<circle cx="254.84" cy="566.25" r="3.3" fill="#22BCC6"/>
<circle cx="264.21" cy="562.11" r="3.3" fill="#22BCC6"/>
<circle cx="273.58" cy="562.11" r="3.3" fill="#22BCC6"/>
<circle cx="282.95" cy="562.11" r="3.3" fill="#22BCC6"/>
<rect x="261.21" y="558.6" width="6" height="6" fill="#22BCC6"/>
<rect x="270.58" y="558.6" width="6" height="6" fill="#22BCC6"/>
<rect x="279.95" y="558.6" width="6" height="6" fill="#22BCC6"/>
<path d="M67.3 423.1H84.1" stroke="#22BCC6" stroke-width="1.4"/>
<circle cx="75.8" cy="423.1" r="2.9" fill="#22BCC6"/>
<text x="93.9" y="426.7" font-size="10.2" text-anchor="start" font-weight="normal" fill="#000" >T1-2</text>
<path d="M67.3 438.5H84.1" stroke="#6F8FD3" stroke-width="1.4"/>
<rect x="72.9" y="435.6" width="5.8" height="5.8" fill="#6F8FD3"/>
<text x="93.9" y="442.1" font-size="10.2" text-anchor="start" font-weight="normal" fill="#000" >T1-5</text>
<path d="M67.3 453.9H84.1" stroke="#C96CB4" stroke-width="1.4"/>
<path d="M75.8 450.56L78.99 456.07L72.61 456.07Z" fill="#C96CB4"/>
<text x="93.9" y="457.5" font-size="10.2" text-anchor="start" font-weight="normal" fill="#000" >T2-10</text>
<path d="M67.3 469.6H84.1" stroke="#F07A72" stroke-width="1.4"/>
<path d="M75.8 466.12L79.28 469.6L75.8 473.08L72.32 469.6Z" fill="#F07A72"/>
<text x="93.9" y="473.2" font-size="10.2" text-anchor="start" font-weight="normal" fill="#000" >Ciprofloxacin</text>
<path d="M388.6 410.9V566.2" stroke="#000" stroke-width="1.8" fill="none"/>
<path d="M381.6 566.2H621.9" stroke="#000" stroke-width="1.8" fill="none"/>
<path d="M381.6 566.2H388.6" stroke="#000" stroke-width="1.8"/>
<path d="M381.6 535.26H388.6" stroke="#000" stroke-width="1.8"/>
<path d="M381.6 504.32H388.6" stroke="#000" stroke-width="1.8"/>
<path d="M381.6 473.38H388.6" stroke="#000" stroke-width="1.8"/>
<path d="M381.6 442.44H388.6" stroke="#000" stroke-width="1.8"/>
<path d="M381.6 411.5H388.6" stroke="#000" stroke-width="1.8"/>
<path d="M423.6 566.2V573.2" stroke="#000" stroke-width="1.8"/>
<path d="M477.1 566.2V573.2" stroke="#000" stroke-width="1.8"/>
<path d="M530.8 566.2V573.2" stroke="#000" stroke-width="1.8"/>
<path d="M584.8 566.2V573.2" stroke="#000" stroke-width="1.8"/>
<text x="378.3" y="570.5" font-size="11.5" text-anchor="end" font-weight="normal" fill="#000" >0.0</text>
<text x="378.3" y="539.56" font-size="11.5" text-anchor="end" font-weight="normal" fill="#000" >0.5</text>
<text x="378.3" y="508.62" font-size="11.5" text-anchor="end" font-weight="normal" fill="#000" >1.0</text>
<text x="378.3" y="477.68" font-size="11.5" text-anchor="end" font-weight="normal" fill="#000" >1.5</text>
<text x="378.3" y="446.74" font-size="11.5" text-anchor="end" font-weight="normal" fill="#000" >2.0</text>
<text x="378.3" y="415.8" font-size="11.5" text-anchor="end" font-weight="normal" fill="#000" >2.5</text>
<text x="403.31" y="584.2" font-size="11.6" textLength="37.57" lengthAdjust="spacingAndGlyphs" fill="#000" >Control</text>
<text x="462.55" y="584.2" font-size="11.6" textLength="23.01" lengthAdjust="spacingAndGlyphs" fill="#000" >T1-2</text>
<text x="516.15" y="584.2" font-size="11.6" textLength="22.61" lengthAdjust="spacingAndGlyphs" fill="#000" >T1-5</text>
<text x="569.35" y="584.2" font-size="11.6" textLength="29.49" lengthAdjust="spacingAndGlyphs" fill="#000" >T2-10</text>
<g transform="translate(352.7 520.2) rotate(-90)"><text x="-0.02" y="0" font-size="12.4" textLength="66.78" lengthAdjust="spacingAndGlyphs" fill="#000" >Absorbance</text></g>
<path d="M407.5 566.2V464.05H439.7V566.2" stroke="#E89494" stroke-width="3" fill="none"/>
<path d="M423.6 449.87V475.24M414.1 449.87H433.1M414.1 475.24H433.1" stroke="#E89494" stroke-width="2" fill="none"/>
<path d="M461 566.2V555.32H493.2V566.2" stroke="#22BFCB" stroke-width="3" fill="none"/>
<path d="M477.1 551.66V555.99M467.6 551.66H486.6M467.6 555.99H486.6" stroke="#22BFCB" stroke-width="2" fill="none"/>
<path d="M514.7 566.2V541.09H546.9V566.2" stroke="#7191D4" stroke-width="3" fill="none"/>
<path d="M530.8 534.33V544.85M521.3 534.33H540.3M521.3 544.85H540.3" stroke="#7191D4" stroke-width="2" fill="none"/>
<path d="M568.7 566.2V559.66H600.9V566.2" stroke="#CF6FB0" stroke-width="3" fill="none"/>
<path d="M584.8 553.51V562.8M575.3 553.51H594.3M575.3 562.8H594.3" stroke="#CF6FB0" stroke-width="2" fill="none"/>
<circle cx="423.6" cy="447.39" r="3" fill="#E89494"/>
<circle cx="423.6" cy="465.34" r="3" fill="#E89494"/>
<circle cx="423.6" cy="471.52" r="3" fill="#E89494"/>
<rect x="474.2" y="550" width="5.8" height="5.8" fill="#22BFCB"/>
<rect x="467.2" y="552.78" width="5.8" height="5.8" fill="#22BFCB"/>
<rect x="481.2" y="552.78" width="5.8" height="5.8" fill="#22BFCB"/>
<path d="M525 530.15L528.41 536.04L521.59 536.04Z" fill="#7191D4"/>
<path d="M536.3 537.57L539.71 543.46L532.89 543.46Z" fill="#7191D4"/>
<path d="M525 541.29L528.41 547.18L521.59 547.18Z" fill="#7191D4"/>
<path d="M578.5 556.46L581.91 550.57L575.09 550.57Z" fill="#CF6FB0"/>
<path d="M591 556.46L594.41 550.57L587.59 550.57Z" fill="#CF6FB0"/>
<path d="M584.8 566.67L588.21 560.78L581.39 560.78Z" fill="#CF6FB0"/>
<path d="M421.2 439.3V427.6H533.4V438.8" stroke="#000" stroke-width="1.8" fill="none"/>
<path d="M458.5 439.1H603.8" stroke="#000" stroke-width="1.8" fill="none"/>
<text x="453.26" y="422.8" font-size="11.6" textLength="49.4" lengthAdjust="spacingAndGlyphs" fill="#000" >P&lt;0.0001</text>
<defs>
<clipPath id="cpC"><circle cx="422.7" cy="610" r="21.3"/></clipPath>
<clipPath id="cp1"><circle cx="475.9" cy="610" r="21.1"/></clipPath>
<clipPath id="cp2"><circle cx="530.6" cy="610" r="21.3"/></clipPath>
<clipPath id="cp3"><circle cx="586.2" cy="610" r="21.3"/></clipPath>
<radialGradient id="gC1" cx="0.45" cy="0.5" r="0.55"><stop offset="0" stop-color="#3a20cf"/><stop offset="0.8" stop-color="#3d25cc"/><stop offset="1" stop-color="#5543cf"/></radialGradient>
<radialGradient id="gT1" cx="0.55" cy="0.45" r="0.6"><stop offset="0" stop-color="#8e88cc"/><stop offset="0.7" stop-color="#8a83cb"/><stop offset="1" stop-color="#6a5fcd"/></radialGradient>
<linearGradient id="gT5" x1="0.2" y1="0.1" x2="0.8" y2="0.9"><stop offset="0" stop-color="#8f8bb6"/><stop offset="0.5" stop-color="#6c63b9"/><stop offset="1" stop-color="#5140c6"/></linearGradient>
<linearGradient id="gT10" x1="0.3" y1="0" x2="0.7" y2="1"><stop offset="0" stop-color="#4a36c9"/><stop offset="0.45" stop-color="#7564c6"/><stop offset="1" stop-color="#7b6fc4"/></linearGradient>
</defs>
<g clip-path="url(#cpC)"><rect x="400" y="588" width="46" height="44" fill="#8e86d4"/><path d="M404 600 Q412 592 425 596 Q437 598 440 610 Q440 622 430 628 Q418 632 410 626 Q402 616 404 600Z" fill="url(#gC1)"/><ellipse cx="414" cy="623" rx="8.5" ry="6" fill="#7466d0"/><circle cx="422.7" cy="610" r="20.6" fill="none" stroke="#4b38cc" stroke-width="1.4"/></g>
<g clip-path="url(#cp1)"><rect x="454" y="588" width="44" height="44" fill="url(#gT1)"/><ellipse cx="464" cy="604" rx="7" ry="9" fill="#a7a2d6" opacity="0.7"/><path d="M466 617 L472 618 L468 621Z" fill="#3a22c8"/><circle cx="485" cy="620" r="1.3" fill="#4a34c8"/><circle cx="482" cy="626" r="1.2" fill="#4a34c8"/><circle cx="475.9" cy="610" r="20.4" fill="none" stroke="#5a4cd0" stroke-width="1.3"/></g>
<g clip-path="url(#cp2)"><rect x="508" y="588" width="46" height="44" fill="url(#gT5)"/><circle cx="530.6" cy="610" r="20.6" fill="none" stroke="#5a4ec8" stroke-width="1.3"/></g>
<g clip-path="url(#cp3)"><rect x="564" y="588" width="46" height="44" fill="url(#gT10)"/><path d="M568 604 Q572 601 577 603 Q582 602 584 607 L585 616 Q582 624 576 627 Q569 626 567 618Z" fill="#c4c3cf"/><circle cx="586.2" cy="610" r="20.6" fill="none" stroke="#5848c8" stroke-width="1.3"/></g>
</svg></body></html>
